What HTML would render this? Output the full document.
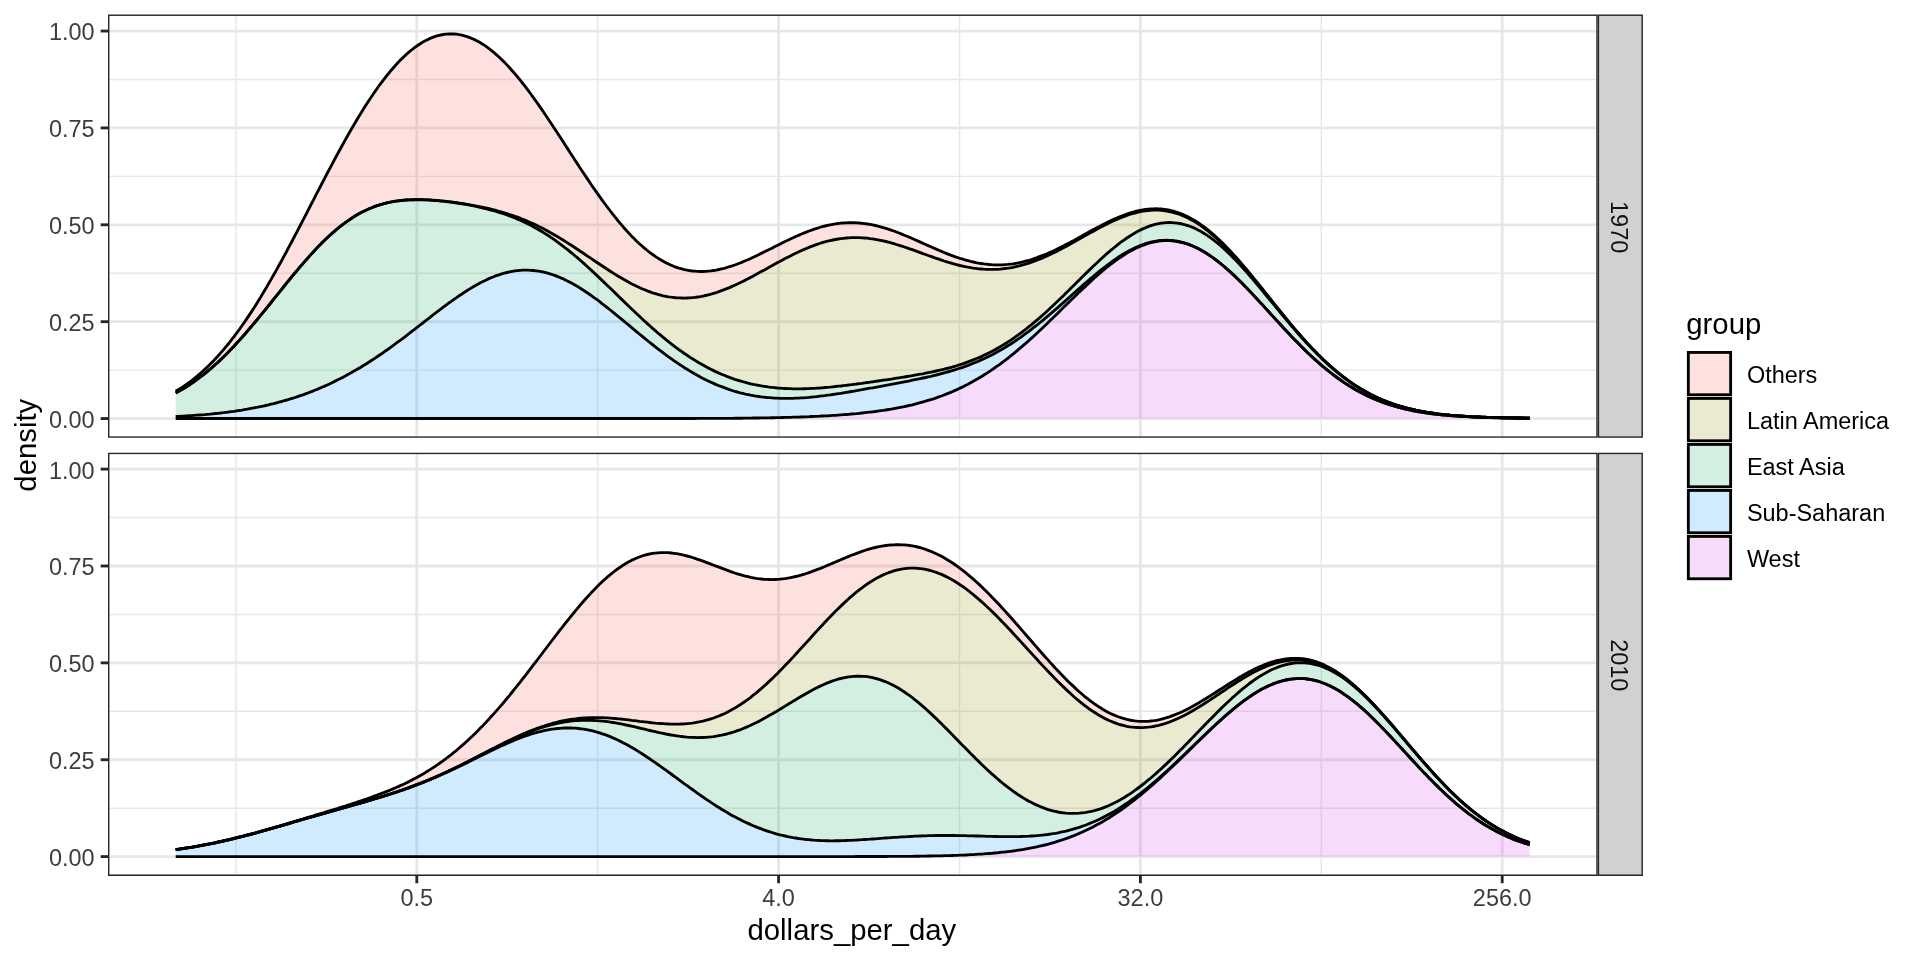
<!DOCTYPE html>
<html><head><meta charset="utf-8"><title>density</title>
<style>html,body{margin:0;padding:0;background:#fff}svg{display:block;will-change:transform}text{font-family:"Liberation Sans",sans-serif}</style></head>
<body>
<svg width="1920" height="960" viewBox="0 0 1920 960">
<rect width="1920" height="960" fill="#fff"/>
<clipPath id="clip0"><rect x="108" y="14.5" width="1489.7" height="423.3"/></clipPath>
<g clip-path="url(#clip0)">
<line x1="108" x2="1597.7" y1="370.11" y2="370.11" stroke="#E7E7E7" stroke-width="1.43"/>
<line x1="108" x2="1597.7" y1="273.24" y2="273.24" stroke="#E7E7E7" stroke-width="1.43"/>
<line x1="108" x2="1597.7" y1="176.36" y2="176.36" stroke="#E7E7E7" stroke-width="1.43"/>
<line x1="108" x2="1597.7" y1="79.49" y2="79.49" stroke="#E7E7E7" stroke-width="1.43"/>
<line x1="235.9" x2="235.9" y1="14.5" y2="437.8" stroke="#E7E7E7" stroke-width="1.43"/>
<line x1="597.7" x2="597.7" y1="14.5" y2="437.8" stroke="#E7E7E7" stroke-width="1.43"/>
<line x1="959.5" x2="959.5" y1="14.5" y2="437.8" stroke="#E7E7E7" stroke-width="1.43"/>
<line x1="1321.3" x2="1321.3" y1="14.5" y2="437.8" stroke="#E7E7E7" stroke-width="1.43"/>
<line x1="108" x2="1597.7" y1="418.55" y2="418.55" stroke="#E7E7E7" stroke-width="2.85"/>
<line x1="108" x2="1597.7" y1="321.68" y2="321.68" stroke="#E7E7E7" stroke-width="2.85"/>
<line x1="108" x2="1597.7" y1="224.8" y2="224.8" stroke="#E7E7E7" stroke-width="2.85"/>
<line x1="108" x2="1597.7" y1="127.93" y2="127.93" stroke="#E7E7E7" stroke-width="2.85"/>
<line x1="108" x2="1597.7" y1="31.05" y2="31.05" stroke="#E7E7E7" stroke-width="2.85"/>
<line x1="416.8" x2="416.8" y1="14.5" y2="437.8" stroke="#E7E7E7" stroke-width="2.85"/>
<line x1="778.6" x2="778.6" y1="14.5" y2="437.8" stroke="#E7E7E7" stroke-width="2.85"/>
<line x1="1140.4" x2="1140.4" y1="14.5" y2="437.8" stroke="#E7E7E7" stroke-width="2.85"/>
<line x1="1502.2" x2="1502.2" y1="14.5" y2="437.8" stroke="#E7E7E7" stroke-width="2.85"/>
<path d="M175.7 391.3 L178.3 389.7 L181 388.1 L183.6 386.3 L186.3 384.5 L188.9 382.6 L191.6 380.6 L194.2 378.5 L196.9 376.3 L199.5 374.1 L202.2 371.8 L204.8 369.4 L207.5 366.8 L210.1 364.2 L212.8 361.6 L215.4 358.8 L218.1 355.9 L220.7 352.9 L223.4 349.9 L226 346.7 L228.7 343.5 L231.3 340.1 L234 336.7 L236.6 333.1 L239.3 329.5 L241.9 325.8 L244.6 322 L247.2 318.1 L249.9 314.1 L252.5 310.1 L255.2 305.9 L257.8 301.7 L260.5 297.4 L263.1 293 L265.8 288.6 L268.4 284 L271.1 279.4 L273.7 274.8 L276.4 270.1 L279 265.3 L281.7 260.5 L284.3 255.6 L287 250.7 L289.6 245.7 L292.3 240.7 L294.9 235.7 L297.6 230.6 L300.2 225.5 L302.9 220.4 L305.5 215.3 L308.2 210.1 L310.8 205 L313.5 199.9 L316.1 194.7 L318.8 189.6 L321.4 184.5 L324.1 179.4 L326.7 174.3 L329.4 169.3 L332 164.3 L334.7 159.3 L337.3 154.4 L340 149.5 L342.6 144.7 L345.3 139.9 L347.9 135.2 L350.6 130.5 L353.2 126 L355.9 121.5 L358.5 117 L361.2 112.7 L363.8 108.4 L366.5 104.3 L369.1 100.2 L371.8 96.2 L374.4 92.3 L377.1 88.5 L379.7 84.8 L382.4 81.3 L385 77.8 L387.7 74.5 L390.3 71.3 L393 68.2 L395.6 65.2 L398.3 62.3 L400.9 59.6 L403.6 57 L406.2 54.5 L408.9 52.2 L411.5 50 L414.2 47.9 L416.8 46 L419.5 44.2 L422.1 42.5 L424.8 41 L427.4 39.7 L430.1 38.4 L432.7 37.4 L435.4 36.4 L438 35.6 L440.7 35 L443.3 34.5 L446 34.2 L448.6 34 L451.3 33.9 L453.9 34 L456.6 34.2 L459.2 34.6 L461.9 35.1 L464.5 35.8 L467.2 36.6 L469.8 37.6 L472.5 38.7 L475.1 39.9 L477.8 41.3 L480.4 42.8 L483.1 44.4 L485.7 46.2 L488.4 48.1 L491 50.1 L493.7 52.3 L496.3 54.6 L499 57 L501.6 59.5 L504.3 62.1 L506.9 64.9 L509.6 67.7 L512.2 70.7 L514.9 73.8 L517.5 76.9 L520.2 80.2 L522.8 83.5 L525.5 86.9 L528.1 90.4 L530.8 94 L533.4 97.6 L536.1 101.3 L538.7 105.1 L541.4 108.9 L544 112.8 L546.7 116.7 L549.3 120.7 L552 124.7 L554.6 128.7 L557.3 132.8 L559.9 136.8 L562.6 140.9 L565.2 145 L567.9 149.1 L570.5 153.2 L573.2 157.3 L575.8 161.4 L578.5 165.4 L581.1 169.5 L583.8 173.5 L586.4 177.4 L589.1 181.4 L591.7 185.3 L594.4 189.1 L597 192.9 L599.7 196.7 L602.3 200.4 L605 204 L607.6 207.5 L610.3 211 L612.9 214.4 L615.6 217.7 L618.2 221 L620.9 224.1 L623.5 227.2 L626.2 230.2 L628.8 233.1 L631.4 235.9 L634.1 238.6 L636.7 241.2 L639.4 243.7 L642 246 L644.7 248.3 L647.3 250.5 L650 252.6 L652.6 254.5 L655.3 256.4 L657.9 258.1 L660.6 259.8 L663.2 261.3 L665.9 262.7 L668.5 264 L671.2 265.2 L673.8 266.3 L676.5 267.3 L679.1 268.2 L681.8 268.9 L684.4 269.6 L687.1 270.2 L689.7 270.6 L692.4 271 L695 271.2 L697.7 271.4 L700.3 271.5 L703 271.5 L705.6 271.3 L708.3 271.1 L710.9 270.9 L713.6 270.5 L716.2 270.1 L718.9 269.5 L721.5 268.9 L724.2 268.3 L726.8 267.5 L729.5 266.7 L732.1 265.9 L734.8 265 L737.4 264 L740.1 263 L742.7 261.9 L745.4 260.8 L748 259.7 L750.7 258.5 L753.3 257.3 L756 256 L758.6 254.7 L761.3 253.4 L763.9 252.1 L766.6 250.8 L769.2 249.5 L771.9 248.2 L774.5 246.8 L777.2 245.5 L779.8 244.2 L782.5 242.8 L785.1 241.5 L787.8 240.3 L790.4 239 L793.1 237.8 L795.7 236.5 L798.4 235.4 L801 234.2 L803.7 233.1 L806.3 232.1 L809 231 L811.6 230.1 L814.3 229.2 L816.9 228.3 L819.6 227.5 L822.2 226.7 L824.9 226 L827.5 225.4 L830.2 224.8 L832.8 224.3 L835.5 223.9 L838.1 223.5 L840.8 223.2 L843.4 223 L846.1 222.8 L848.7 222.7 L851.4 222.7 L854 222.7 L856.7 222.8 L859.3 223 L862 223.3 L864.6 223.6 L867.3 224 L869.9 224.4 L872.6 224.9 L875.2 225.5 L877.9 226.1 L880.5 226.8 L883.2 227.6 L885.8 228.4 L888.5 229.2 L891.1 230.1 L893.8 231 L896.4 232 L899.1 233 L901.7 234.1 L904.4 235.2 L907 236.3 L909.7 237.4 L912.3 238.5 L915 239.7 L917.6 240.9 L920.3 242.1 L922.9 243.3 L925.6 244.5 L928.2 245.6 L930.9 246.8 L933.5 248 L936.2 249.1 L938.8 250.3 L941.5 251.4 L944.1 252.5 L946.8 253.6 L949.4 254.6 L952.1 255.6 L954.7 256.6 L957.4 257.5 L960 258.4 L962.7 259.2 L965.3 260 L968 260.7 L970.6 261.4 L973.3 262 L975.9 262.6 L978.6 263.1 L981.2 263.5 L983.9 263.9 L986.5 264.2 L989.2 264.5 L991.8 264.7 L994.5 264.8 L997.1 264.9 L999.8 264.8 L1002.4 264.8 L1005.1 264.6 L1007.7 264.4 L1010.4 264.1 L1013 263.8 L1015.7 263.3 L1018.3 262.9 L1021 262.3 L1023.6 261.7 L1026.3 261 L1028.9 260.3 L1031.6 259.5 L1034.2 258.6 L1036.9 257.7 L1039.5 256.7 L1042.2 255.7 L1044.8 254.7 L1047.5 253.5 L1050.1 252.4 L1052.8 251.2 L1055.4 249.9 L1058.1 248.6 L1060.7 247.3 L1063.4 246 L1066 244.6 L1068.7 243.2 L1071.3 241.8 L1074 240.4 L1076.6 238.9 L1079.2 237.4 L1081.9 236 L1084.5 234.5 L1087.2 233 L1089.8 231.6 L1092.5 230.1 L1095.1 228.7 L1097.8 227.3 L1100.4 225.9 L1103.1 224.5 L1105.7 223.2 L1108.4 221.8 L1111 220.6 L1113.7 219.4 L1116.3 218.2 L1119 217 L1121.6 216 L1124.3 215 L1126.9 214 L1129.6 213.1 L1132.2 212.3 L1134.9 211.6 L1137.5 210.9 L1140.2 210.3 L1142.8 209.8 L1145.5 209.4 L1148.1 209.1 L1150.8 208.9 L1153.4 208.8 L1156.1 208.7 L1158.7 208.8 L1161.4 209 L1164 209.3 L1166.7 209.7 L1169.3 210.2 L1172 210.8 L1174.6 211.5 L1177.3 212.3 L1179.9 213.3 L1182.6 214.3 L1185.2 215.5 L1187.9 216.8 L1190.5 218.2 L1193.2 219.7 L1195.8 221.3 L1198.5 223 L1201.1 224.8 L1203.8 226.7 L1206.4 228.7 L1209.1 230.8 L1211.7 233.1 L1214.4 235.4 L1217 237.8 L1219.7 240.3 L1222.3 242.8 L1225 245.5 L1227.6 248.2 L1230.3 251 L1232.9 253.9 L1235.6 256.8 L1238.2 259.8 L1240.9 262.8 L1243.5 265.9 L1246.2 269 L1248.8 272.2 L1251.5 275.4 L1254.1 278.7 L1256.8 281.9 L1259.4 285.2 L1262.1 288.5 L1264.7 291.8 L1267.4 295.2 L1270 298.5 L1272.7 301.8 L1275.3 305.1 L1278 308.4 L1280.6 311.7 L1283.3 315 L1285.9 318.2 L1288.6 321.5 L1291.2 324.6 L1293.9 327.8 L1296.5 330.9 L1299.2 334 L1301.8 337 L1304.5 340 L1307.1 342.9 L1309.8 345.8 L1312.4 348.6 L1315.1 351.3 L1317.7 354 L1320.4 356.7 L1323 359.3 L1325.7 361.8 L1328.3 364.2 L1331 366.6 L1333.6 368.9 L1336.3 371.2 L1338.9 373.4 L1341.6 375.5 L1344.2 377.5 L1346.9 379.5 L1349.5 381.4 L1352.2 383.3 L1354.8 385.1 L1357.5 386.8 L1360.1 388.4 L1362.8 390 L1365.4 391.5 L1368.1 393 L1370.7 394.4 L1373.4 395.7 L1376 397 L1378.7 398.2 L1381.3 399.4 L1384 400.5 L1386.6 401.6 L1389.3 402.6 L1391.9 403.5 L1394.6 404.4 L1397.2 405.3 L1399.9 406.1 L1402.5 406.9 L1405.2 407.6 L1407.8 408.3 L1410.5 409 L1413.1 409.6 L1415.8 410.2 L1418.4 410.7 L1421.1 411.2 L1423.7 411.7 L1426.4 412.2 L1429 412.6 L1431.7 413 L1434.3 413.4 L1437 413.7 L1439.6 414.1 L1442.3 414.4 L1444.9 414.7 L1447.6 414.9 L1450.2 415.2 L1452.9 415.4 L1455.5 415.6 L1458.2 415.8 L1460.8 416 L1463.5 416.2 L1466.1 416.4 L1468.8 416.5 L1471.4 416.7 L1474.1 416.8 L1476.7 416.9 L1479.4 417 L1482 417.1 L1484.7 417.2 L1487.3 417.3 L1490 417.4 L1492.6 417.5 L1495.3 417.5 L1497.9 417.6 L1500.6 417.7 L1503.2 417.7 L1505.9 417.8 L1508.5 417.8 L1511.2 417.9 L1513.8 417.9 L1516.5 418 L1519.1 418 L1521.8 418 L1524.4 418.1 L1527.1 418.1 L1529.7 418.1 L1529.7 418.1 L1527.1 418.1 L1524.4 418.1 L1521.8 418 L1519.1 418 L1516.5 418 L1513.8 417.9 L1511.2 417.9 L1508.5 417.8 L1505.9 417.8 L1503.2 417.7 L1500.6 417.7 L1497.9 417.6 L1495.3 417.5 L1492.6 417.5 L1490 417.4 L1487.3 417.3 L1484.7 417.2 L1482 417.1 L1479.4 417 L1476.7 416.9 L1474.1 416.8 L1471.4 416.7 L1468.8 416.5 L1466.1 416.4 L1463.5 416.2 L1460.8 416 L1458.2 415.8 L1455.5 415.6 L1452.9 415.4 L1450.2 415.2 L1447.6 414.9 L1444.9 414.7 L1442.3 414.4 L1439.6 414.1 L1437 413.8 L1434.3 413.4 L1431.7 413 L1429 412.6 L1426.4 412.2 L1423.7 411.7 L1421.1 411.3 L1418.4 410.7 L1415.8 410.2 L1413.1 409.6 L1410.5 409 L1407.8 408.4 L1405.2 407.7 L1402.5 406.9 L1399.9 406.2 L1397.2 405.3 L1394.6 404.5 L1391.9 403.6 L1389.3 402.6 L1386.6 401.6 L1384 400.6 L1381.3 399.5 L1378.7 398.3 L1376 397.1 L1373.4 395.8 L1370.7 394.5 L1368.1 393.1 L1365.4 391.6 L1362.8 390.1 L1360.1 388.5 L1357.5 386.9 L1354.8 385.2 L1352.2 383.4 L1349.5 381.6 L1346.9 379.7 L1344.2 377.7 L1341.6 375.6 L1338.9 373.5 L1336.3 371.4 L1333.6 369.1 L1331 366.8 L1328.3 364.4 L1325.7 362 L1323 359.5 L1320.4 356.9 L1317.7 354.3 L1315.1 351.6 L1312.4 348.9 L1309.8 346.1 L1307.1 343.2 L1304.5 340.3 L1301.8 337.3 L1299.2 334.3 L1296.5 331.3 L1293.9 328.2 L1291.2 325.1 L1288.6 321.9 L1285.9 318.7 L1283.3 315.5 L1280.6 312.2 L1278 309 L1275.3 305.7 L1272.7 302.4 L1270 299.1 L1267.4 295.8 L1264.7 292.5 L1262.1 289.2 L1259.4 285.9 L1256.8 282.6 L1254.1 279.4 L1251.5 276.2 L1248.8 273 L1246.2 269.8 L1243.5 266.7 L1240.9 263.6 L1238.2 260.6 L1235.6 257.7 L1232.9 254.8 L1230.3 251.9 L1227.6 249.1 L1225 246.4 L1222.3 243.8 L1219.7 241.3 L1217 238.8 L1214.4 236.4 L1211.7 234.1 L1209.1 231.9 L1206.4 229.8 L1203.8 227.8 L1201.1 225.9 L1198.5 224.1 L1195.8 222.4 L1193.2 220.8 L1190.5 219.4 L1187.9 218 L1185.2 216.7 L1182.6 215.6 L1179.9 214.5 L1177.3 213.6 L1174.6 212.8 L1172 212.1 L1169.3 211.5 L1166.7 211 L1164 210.6 L1161.4 210.3 L1158.7 210.2 L1156.1 210.1 L1153.4 210.1 L1150.8 210.3 L1148.1 210.5 L1145.5 210.8 L1142.8 211.2 L1140.2 211.7 L1137.5 212.3 L1134.9 213 L1132.2 213.7 L1129.6 214.5 L1126.9 215.4 L1124.3 216.4 L1121.6 217.4 L1119 218.5 L1116.3 219.6 L1113.7 220.8 L1111 222 L1108.4 223.3 L1105.7 224.6 L1103.1 226 L1100.4 227.3 L1097.8 228.8 L1095.1 230.2 L1092.5 231.7 L1089.8 233.1 L1087.2 234.6 L1084.5 236.1 L1081.9 237.6 L1079.2 239.1 L1076.6 240.6 L1074 242.1 L1071.3 243.5 L1068.7 245 L1066 246.4 L1063.4 247.8 L1060.7 249.2 L1058.1 250.6 L1055.4 251.9 L1052.8 253.2 L1050.1 254.5 L1047.5 255.7 L1044.8 256.9 L1042.2 258.1 L1039.5 259.2 L1036.9 260.2 L1034.2 261.2 L1031.6 262.2 L1028.9 263.1 L1026.3 263.9 L1023.6 264.7 L1021 265.4 L1018.3 266.1 L1015.7 266.7 L1013 267.3 L1010.4 267.8 L1007.7 268.2 L1005.1 268.5 L1002.4 268.8 L999.8 269.1 L997.1 269.3 L994.5 269.4 L991.8 269.4 L989.2 269.4 L986.5 269.3 L983.9 269.2 L981.2 269 L978.6 268.8 L975.9 268.4 L973.3 268.1 L970.6 267.7 L968 267.2 L965.3 266.7 L962.7 266.1 L960 265.5 L957.4 264.8 L954.7 264.1 L952.1 263.4 L949.4 262.6 L946.8 261.8 L944.1 261 L941.5 260.1 L938.8 259.2 L936.2 258.3 L933.5 257.4 L930.9 256.4 L928.2 255.5 L925.6 254.5 L922.9 253.6 L920.3 252.6 L917.6 251.6 L915 250.7 L912.3 249.7 L909.7 248.8 L907 247.9 L904.4 247 L901.7 246.1 L899.1 245.3 L896.4 244.5 L893.8 243.7 L891.1 242.9 L888.5 242.2 L885.8 241.5 L883.2 240.9 L880.5 240.3 L877.9 239.8 L875.2 239.3 L872.6 238.9 L869.9 238.6 L867.3 238.2 L864.6 238 L862 237.8 L859.3 237.7 L856.7 237.6 L854 237.6 L851.4 237.7 L848.7 237.8 L846.1 238 L843.4 238.3 L840.8 238.6 L838.1 239 L835.5 239.5 L832.8 240 L830.2 240.6 L827.5 241.2 L824.9 241.9 L822.2 242.7 L819.6 243.5 L816.9 244.4 L814.3 245.3 L811.6 246.3 L809 247.4 L806.3 248.5 L803.7 249.6 L801 250.8 L798.4 252 L795.7 253.2 L793.1 254.5 L790.4 255.9 L787.8 257.2 L785.1 258.6 L782.5 260 L779.8 261.4 L777.2 262.8 L774.5 264.3 L771.9 265.8 L769.2 267.2 L766.6 268.7 L763.9 270.2 L761.3 271.6 L758.6 273.1 L756 274.5 L753.3 275.9 L750.7 277.4 L748 278.7 L745.4 280.1 L742.7 281.4 L740.1 282.7 L737.4 284 L734.8 285.2 L732.1 286.4 L729.5 287.6 L726.8 288.7 L724.2 289.7 L721.5 290.7 L718.9 291.7 L716.2 292.6 L713.6 293.4 L710.9 294.2 L708.3 294.9 L705.6 295.5 L703 296.1 L700.3 296.6 L697.7 297 L695 297.4 L692.4 297.6 L689.7 297.9 L687.1 298 L684.4 298.1 L681.8 298 L679.1 297.9 L676.5 297.8 L673.8 297.5 L671.2 297.2 L668.5 296.8 L665.9 296.3 L663.2 295.8 L660.6 295.1 L657.9 294.4 L655.3 293.6 L652.6 292.8 L650 291.9 L647.3 290.9 L644.7 289.8 L642 288.7 L639.4 287.5 L636.7 286.3 L634.1 285 L631.4 283.7 L628.8 282.3 L626.2 280.8 L623.5 279.3 L620.9 277.8 L618.2 276.2 L615.6 274.6 L612.9 272.9 L610.3 271.2 L607.6 269.5 L605 267.8 L602.3 266 L599.7 264.3 L597 262.5 L594.4 260.7 L591.7 258.9 L589.1 257.1 L586.4 255.3 L583.8 253.5 L581.1 251.8 L578.5 250 L575.8 248.2 L573.2 246.5 L570.5 244.8 L567.9 243.1 L565.2 241.4 L562.6 239.7 L559.9 238.1 L557.3 236.5 L554.6 235 L552 233.5 L549.3 232 L546.7 230.5 L544 229.1 L541.4 227.7 L538.7 226.4 L536.1 225.1 L533.4 223.9 L530.8 222.7 L528.1 221.5 L525.5 220.4 L522.8 219.3 L520.2 218.2 L517.5 217.2 L514.9 216.3 L512.2 215.3 L509.6 214.5 L506.9 213.6 L504.3 212.8 L501.6 212 L499 211.3 L496.3 210.5 L493.7 209.8 L491 209.2 L488.4 208.5 L485.7 207.9 L483.1 207.4 L480.4 206.8 L477.8 206.3 L475.1 205.8 L472.5 205.3 L469.8 204.8 L467.2 204.3 L464.5 203.9 L461.9 203.5 L459.2 203.1 L456.6 202.7 L453.9 202.3 L451.3 202 L448.6 201.7 L446 201.4 L443.3 201.1 L440.7 200.8 L438 200.6 L435.4 200.4 L432.7 200.2 L430.1 200 L427.4 199.9 L424.8 199.8 L422.1 199.7 L419.5 199.6 L416.8 199.6 L414.2 199.7 L411.5 199.7 L408.9 199.8 L406.2 200 L403.6 200.2 L400.9 200.5 L398.3 200.8 L395.6 201.2 L393 201.6 L390.3 202.2 L387.7 202.7 L385 203.4 L382.4 204.1 L379.7 204.9 L377.1 205.7 L374.4 206.7 L371.8 207.7 L369.1 208.8 L366.5 210 L363.8 211.3 L361.2 212.6 L358.5 214.1 L355.9 215.6 L353.2 217.2 L350.6 219 L347.9 220.8 L345.3 222.6 L342.6 224.6 L340 226.7 L337.3 228.8 L334.7 231.1 L332 233.4 L329.4 235.8 L326.7 238.3 L324.1 240.8 L321.4 243.4 L318.8 246.1 L316.1 248.9 L313.5 251.7 L310.8 254.6 L308.2 257.6 L305.5 260.6 L302.9 263.6 L300.2 266.7 L297.6 269.8 L294.9 273 L292.3 276.2 L289.6 279.5 L287 282.7 L284.3 286 L281.7 289.3 L279 292.6 L276.4 295.9 L273.7 299.2 L271.1 302.5 L268.4 305.8 L265.8 309.1 L263.1 312.4 L260.5 315.6 L257.8 318.8 L255.2 322 L252.5 325.2 L249.9 328.3 L247.2 331.4 L244.6 334.5 L241.9 337.5 L239.3 340.4 L236.6 343.3 L234 346.2 L231.3 349 L228.7 351.7 L226 354.4 L223.4 357 L220.7 359.6 L218.1 362.1 L215.4 364.5 L212.8 366.9 L210.1 369.2 L207.5 371.4 L204.8 373.6 L202.2 375.7 L199.5 377.7 L196.9 379.7 L194.2 381.6 L191.6 383.4 L188.9 385.2 L186.3 386.9 L183.6 388.5 L181 390.1 L178.3 391.6 L175.7 393Z" fill="#F56A5A" fill-opacity="0.2" stroke="none"/>
<path d="M175.7 391.3 L178.3 389.7 L181 388.1 L183.6 386.3 L186.3 384.5 L188.9 382.6 L191.6 380.6 L194.2 378.5 L196.9 376.3 L199.5 374.1 L202.2 371.8 L204.8 369.4 L207.5 366.8 L210.1 364.2 L212.8 361.6 L215.4 358.8 L218.1 355.9 L220.7 352.9 L223.4 349.9 L226 346.7 L228.7 343.5 L231.3 340.1 L234 336.7 L236.6 333.1 L239.3 329.5 L241.9 325.8 L244.6 322 L247.2 318.1 L249.9 314.1 L252.5 310.1 L255.2 305.9 L257.8 301.7 L260.5 297.4 L263.1 293 L265.8 288.6 L268.4 284 L271.1 279.4 L273.7 274.8 L276.4 270.1 L279 265.3 L281.7 260.5 L284.3 255.6 L287 250.7 L289.6 245.7 L292.3 240.7 L294.9 235.7 L297.6 230.6 L300.2 225.5 L302.9 220.4 L305.5 215.3 L308.2 210.1 L310.8 205 L313.5 199.9 L316.1 194.7 L318.8 189.6 L321.4 184.5 L324.1 179.4 L326.7 174.3 L329.4 169.3 L332 164.3 L334.7 159.3 L337.3 154.4 L340 149.5 L342.6 144.7 L345.3 139.9 L347.9 135.2 L350.6 130.5 L353.2 126 L355.9 121.5 L358.5 117 L361.2 112.7 L363.8 108.4 L366.5 104.3 L369.1 100.2 L371.8 96.2 L374.4 92.3 L377.1 88.5 L379.7 84.8 L382.4 81.3 L385 77.8 L387.7 74.5 L390.3 71.3 L393 68.2 L395.6 65.2 L398.3 62.3 L400.9 59.6 L403.6 57 L406.2 54.5 L408.9 52.2 L411.5 50 L414.2 47.9 L416.8 46 L419.5 44.2 L422.1 42.5 L424.8 41 L427.4 39.7 L430.1 38.4 L432.7 37.4 L435.4 36.4 L438 35.6 L440.7 35 L443.3 34.5 L446 34.2 L448.6 34 L451.3 33.9 L453.9 34 L456.6 34.2 L459.2 34.6 L461.9 35.1 L464.5 35.8 L467.2 36.6 L469.8 37.6 L472.5 38.7 L475.1 39.9 L477.8 41.3 L480.4 42.8 L483.1 44.4 L485.7 46.2 L488.4 48.1 L491 50.1 L493.7 52.3 L496.3 54.6 L499 57 L501.6 59.5 L504.3 62.1 L506.9 64.9 L509.6 67.7 L512.2 70.7 L514.9 73.8 L517.5 76.9 L520.2 80.2 L522.8 83.5 L525.5 86.9 L528.1 90.4 L530.8 94 L533.4 97.6 L536.1 101.3 L538.7 105.1 L541.4 108.9 L544 112.8 L546.7 116.7 L549.3 120.7 L552 124.7 L554.6 128.7 L557.3 132.8 L559.9 136.8 L562.6 140.9 L565.2 145 L567.9 149.1 L570.5 153.2 L573.2 157.3 L575.8 161.4 L578.5 165.4 L581.1 169.5 L583.8 173.5 L586.4 177.4 L589.1 181.4 L591.7 185.3 L594.4 189.1 L597 192.9 L599.7 196.7 L602.3 200.4 L605 204 L607.6 207.5 L610.3 211 L612.9 214.4 L615.6 217.7 L618.2 221 L620.9 224.1 L623.5 227.2 L626.2 230.2 L628.8 233.1 L631.4 235.9 L634.1 238.6 L636.7 241.2 L639.4 243.7 L642 246 L644.7 248.3 L647.3 250.5 L650 252.6 L652.6 254.5 L655.3 256.4 L657.9 258.1 L660.6 259.8 L663.2 261.3 L665.9 262.7 L668.5 264 L671.2 265.2 L673.8 266.3 L676.5 267.3 L679.1 268.2 L681.8 268.9 L684.4 269.6 L687.1 270.2 L689.7 270.6 L692.4 271 L695 271.2 L697.7 271.4 L700.3 271.5 L703 271.5 L705.6 271.3 L708.3 271.1 L710.9 270.9 L713.6 270.5 L716.2 270.1 L718.9 269.5 L721.5 268.9 L724.2 268.3 L726.8 267.5 L729.5 266.7 L732.1 265.9 L734.8 265 L737.4 264 L740.1 263 L742.7 261.9 L745.4 260.8 L748 259.7 L750.7 258.5 L753.3 257.3 L756 256 L758.6 254.7 L761.3 253.4 L763.9 252.1 L766.6 250.8 L769.2 249.5 L771.9 248.2 L774.5 246.8 L777.2 245.5 L779.8 244.2 L782.5 242.8 L785.1 241.5 L787.8 240.3 L790.4 239 L793.1 237.8 L795.7 236.5 L798.4 235.4 L801 234.2 L803.7 233.1 L806.3 232.1 L809 231 L811.6 230.1 L814.3 229.2 L816.9 228.3 L819.6 227.5 L822.2 226.7 L824.9 226 L827.5 225.4 L830.2 224.8 L832.8 224.3 L835.5 223.9 L838.1 223.5 L840.8 223.2 L843.4 223 L846.1 222.8 L848.7 222.7 L851.4 222.7 L854 222.7 L856.7 222.8 L859.3 223 L862 223.3 L864.6 223.6 L867.3 224 L869.9 224.4 L872.6 224.9 L875.2 225.5 L877.9 226.1 L880.5 226.8 L883.2 227.6 L885.8 228.4 L888.5 229.2 L891.1 230.1 L893.8 231 L896.4 232 L899.1 233 L901.7 234.1 L904.4 235.2 L907 236.3 L909.7 237.4 L912.3 238.5 L915 239.7 L917.6 240.9 L920.3 242.1 L922.9 243.3 L925.6 244.5 L928.2 245.6 L930.9 246.8 L933.5 248 L936.2 249.1 L938.8 250.3 L941.5 251.4 L944.1 252.5 L946.8 253.6 L949.4 254.6 L952.1 255.6 L954.7 256.6 L957.4 257.5 L960 258.4 L962.7 259.2 L965.3 260 L968 260.7 L970.6 261.4 L973.3 262 L975.9 262.6 L978.6 263.1 L981.2 263.5 L983.9 263.9 L986.5 264.2 L989.2 264.5 L991.8 264.7 L994.5 264.8 L997.1 264.9 L999.8 264.8 L1002.4 264.8 L1005.1 264.6 L1007.7 264.4 L1010.4 264.1 L1013 263.8 L1015.7 263.3 L1018.3 262.9 L1021 262.3 L1023.6 261.7 L1026.3 261 L1028.9 260.3 L1031.6 259.5 L1034.2 258.6 L1036.9 257.7 L1039.5 256.7 L1042.2 255.7 L1044.8 254.7 L1047.5 253.5 L1050.1 252.4 L1052.8 251.2 L1055.4 249.9 L1058.1 248.6 L1060.7 247.3 L1063.4 246 L1066 244.6 L1068.7 243.2 L1071.3 241.8 L1074 240.4 L1076.6 238.9 L1079.2 237.4 L1081.9 236 L1084.5 234.5 L1087.2 233 L1089.8 231.6 L1092.5 230.1 L1095.1 228.7 L1097.8 227.3 L1100.4 225.9 L1103.1 224.5 L1105.7 223.2 L1108.4 221.8 L1111 220.6 L1113.7 219.4 L1116.3 218.2 L1119 217 L1121.6 216 L1124.3 215 L1126.9 214 L1129.6 213.1 L1132.2 212.3 L1134.9 211.6 L1137.5 210.9 L1140.2 210.3 L1142.8 209.8 L1145.5 209.4 L1148.1 209.1 L1150.8 208.9 L1153.4 208.8 L1156.1 208.7 L1158.7 208.8 L1161.4 209 L1164 209.3 L1166.7 209.7 L1169.3 210.2 L1172 210.8 L1174.6 211.5 L1177.3 212.3 L1179.9 213.3 L1182.6 214.3 L1185.2 215.5 L1187.9 216.8 L1190.5 218.2 L1193.2 219.7 L1195.8 221.3 L1198.5 223 L1201.1 224.8 L1203.8 226.7 L1206.4 228.7 L1209.1 230.8 L1211.7 233.1 L1214.4 235.4 L1217 237.8 L1219.7 240.3 L1222.3 242.8 L1225 245.5 L1227.6 248.2 L1230.3 251 L1232.9 253.9 L1235.6 256.8 L1238.2 259.8 L1240.9 262.8 L1243.5 265.9 L1246.2 269 L1248.8 272.2 L1251.5 275.4 L1254.1 278.7 L1256.8 281.9 L1259.4 285.2 L1262.1 288.5 L1264.7 291.8 L1267.4 295.2 L1270 298.5 L1272.7 301.8 L1275.3 305.1 L1278 308.4 L1280.6 311.7 L1283.3 315 L1285.9 318.2 L1288.6 321.5 L1291.2 324.6 L1293.9 327.8 L1296.5 330.9 L1299.2 334 L1301.8 337 L1304.5 340 L1307.1 342.9 L1309.8 345.8 L1312.4 348.6 L1315.1 351.3 L1317.7 354 L1320.4 356.7 L1323 359.3 L1325.7 361.8 L1328.3 364.2 L1331 366.6 L1333.6 368.9 L1336.3 371.2 L1338.9 373.4 L1341.6 375.5 L1344.2 377.5 L1346.9 379.5 L1349.5 381.4 L1352.2 383.3 L1354.8 385.1 L1357.5 386.8 L1360.1 388.4 L1362.8 390 L1365.4 391.5 L1368.1 393 L1370.7 394.4 L1373.4 395.7 L1376 397 L1378.7 398.2 L1381.3 399.4 L1384 400.5 L1386.6 401.6 L1389.3 402.6 L1391.9 403.5 L1394.6 404.4 L1397.2 405.3 L1399.9 406.1 L1402.5 406.9 L1405.2 407.6 L1407.8 408.3 L1410.5 409 L1413.1 409.6 L1415.8 410.2 L1418.4 410.7 L1421.1 411.2 L1423.7 411.7 L1426.4 412.2 L1429 412.6 L1431.7 413 L1434.3 413.4 L1437 413.7 L1439.6 414.1 L1442.3 414.4 L1444.9 414.7 L1447.6 414.9 L1450.2 415.2 L1452.9 415.4 L1455.5 415.6 L1458.2 415.8 L1460.8 416 L1463.5 416.2 L1466.1 416.4 L1468.8 416.5 L1471.4 416.7 L1474.1 416.8 L1476.7 416.9 L1479.4 417 L1482 417.1 L1484.7 417.2 L1487.3 417.3 L1490 417.4 L1492.6 417.5 L1495.3 417.5 L1497.9 417.6 L1500.6 417.7 L1503.2 417.7 L1505.9 417.8 L1508.5 417.8 L1511.2 417.9 L1513.8 417.9 L1516.5 418 L1519.1 418 L1521.8 418 L1524.4 418.1 L1527.1 418.1 L1529.7 418.1" fill="none" stroke="#000" stroke-width="2.85" stroke-linejoin="round"/>
<path d="M175.7 393 L178.3 391.6 L181 390.1 L183.6 388.5 L186.3 386.9 L188.9 385.2 L191.6 383.4 L194.2 381.6 L196.9 379.7 L199.5 377.7 L202.2 375.7 L204.8 373.6 L207.5 371.4 L210.1 369.2 L212.8 366.9 L215.4 364.5 L218.1 362.1 L220.7 359.6 L223.4 357 L226 354.4 L228.7 351.7 L231.3 349 L234 346.2 L236.6 343.3 L239.3 340.4 L241.9 337.5 L244.6 334.5 L247.2 331.4 L249.9 328.3 L252.5 325.2 L255.2 322 L257.8 318.8 L260.5 315.6 L263.1 312.4 L265.8 309.1 L268.4 305.8 L271.1 302.5 L273.7 299.2 L276.4 295.9 L279 292.6 L281.7 289.3 L284.3 286 L287 282.7 L289.6 279.5 L292.3 276.2 L294.9 273 L297.6 269.8 L300.2 266.7 L302.9 263.6 L305.5 260.6 L308.2 257.6 L310.8 254.6 L313.5 251.7 L316.1 248.9 L318.8 246.1 L321.4 243.4 L324.1 240.8 L326.7 238.3 L329.4 235.8 L332 233.4 L334.7 231.1 L337.3 228.8 L340 226.7 L342.6 224.6 L345.3 222.6 L347.9 220.8 L350.6 219 L353.2 217.2 L355.9 215.6 L358.5 214.1 L361.2 212.6 L363.8 211.3 L366.5 210 L369.1 208.8 L371.8 207.7 L374.4 206.7 L377.1 205.7 L379.7 204.9 L382.4 204.1 L385 203.4 L387.7 202.7 L390.3 202.2 L393 201.6 L395.6 201.2 L398.3 200.8 L400.9 200.5 L403.6 200.2 L406.2 200 L408.9 199.8 L411.5 199.7 L414.2 199.7 L416.8 199.6 L419.5 199.6 L422.1 199.7 L424.8 199.8 L427.4 199.9 L430.1 200 L432.7 200.2 L435.4 200.4 L438 200.6 L440.7 200.8 L443.3 201.1 L446 201.4 L448.6 201.7 L451.3 202 L453.9 202.3 L456.6 202.7 L459.2 203.1 L461.9 203.5 L464.5 203.9 L467.2 204.3 L469.8 204.8 L472.5 205.3 L475.1 205.8 L477.8 206.3 L480.4 206.8 L483.1 207.4 L485.7 207.9 L488.4 208.5 L491 209.2 L493.7 209.8 L496.3 210.5 L499 211.3 L501.6 212 L504.3 212.8 L506.9 213.6 L509.6 214.5 L512.2 215.3 L514.9 216.3 L517.5 217.2 L520.2 218.2 L522.8 219.3 L525.5 220.4 L528.1 221.5 L530.8 222.7 L533.4 223.9 L536.1 225.1 L538.7 226.4 L541.4 227.7 L544 229.1 L546.7 230.5 L549.3 232 L552 233.5 L554.6 235 L557.3 236.5 L559.9 238.1 L562.6 239.7 L565.2 241.4 L567.9 243.1 L570.5 244.8 L573.2 246.5 L575.8 248.2 L578.5 250 L581.1 251.8 L583.8 253.5 L586.4 255.3 L589.1 257.1 L591.7 258.9 L594.4 260.7 L597 262.5 L599.7 264.3 L602.3 266 L605 267.8 L607.6 269.5 L610.3 271.2 L612.9 272.9 L615.6 274.6 L618.2 276.2 L620.9 277.8 L623.5 279.3 L626.2 280.8 L628.8 282.3 L631.4 283.7 L634.1 285 L636.7 286.3 L639.4 287.5 L642 288.7 L644.7 289.8 L647.3 290.9 L650 291.9 L652.6 292.8 L655.3 293.6 L657.9 294.4 L660.6 295.1 L663.2 295.8 L665.9 296.3 L668.5 296.8 L671.2 297.2 L673.8 297.5 L676.5 297.8 L679.1 297.9 L681.8 298 L684.4 298.1 L687.1 298 L689.7 297.9 L692.4 297.6 L695 297.4 L697.7 297 L700.3 296.6 L703 296.1 L705.6 295.5 L708.3 294.9 L710.9 294.2 L713.6 293.4 L716.2 292.6 L718.9 291.7 L721.5 290.7 L724.2 289.7 L726.8 288.7 L729.5 287.6 L732.1 286.4 L734.8 285.2 L737.4 284 L740.1 282.7 L742.7 281.4 L745.4 280.1 L748 278.7 L750.7 277.4 L753.3 275.9 L756 274.5 L758.6 273.1 L761.3 271.6 L763.9 270.2 L766.6 268.7 L769.2 267.2 L771.9 265.8 L774.5 264.3 L777.2 262.8 L779.8 261.4 L782.5 260 L785.1 258.6 L787.8 257.2 L790.4 255.9 L793.1 254.5 L795.7 253.2 L798.4 252 L801 250.8 L803.7 249.6 L806.3 248.5 L809 247.4 L811.6 246.3 L814.3 245.3 L816.9 244.4 L819.6 243.5 L822.2 242.7 L824.9 241.9 L827.5 241.2 L830.2 240.6 L832.8 240 L835.5 239.5 L838.1 239 L840.8 238.6 L843.4 238.3 L846.1 238 L848.7 237.8 L851.4 237.7 L854 237.6 L856.7 237.6 L859.3 237.7 L862 237.8 L864.6 238 L867.3 238.2 L869.9 238.6 L872.6 238.9 L875.2 239.3 L877.9 239.8 L880.5 240.3 L883.2 240.9 L885.8 241.5 L888.5 242.2 L891.1 242.9 L893.8 243.7 L896.4 244.5 L899.1 245.3 L901.7 246.1 L904.4 247 L907 247.9 L909.7 248.8 L912.3 249.7 L915 250.7 L917.6 251.6 L920.3 252.6 L922.9 253.6 L925.6 254.5 L928.2 255.5 L930.9 256.4 L933.5 257.4 L936.2 258.3 L938.8 259.2 L941.5 260.1 L944.1 261 L946.8 261.8 L949.4 262.6 L952.1 263.4 L954.7 264.1 L957.4 264.8 L960 265.5 L962.7 266.1 L965.3 266.7 L968 267.2 L970.6 267.7 L973.3 268.1 L975.9 268.4 L978.6 268.8 L981.2 269 L983.9 269.2 L986.5 269.3 L989.2 269.4 L991.8 269.4 L994.5 269.4 L997.1 269.3 L999.8 269.1 L1002.4 268.8 L1005.1 268.5 L1007.7 268.2 L1010.4 267.8 L1013 267.3 L1015.7 266.7 L1018.3 266.1 L1021 265.4 L1023.6 264.7 L1026.3 263.9 L1028.9 263.1 L1031.6 262.2 L1034.2 261.2 L1036.9 260.2 L1039.5 259.2 L1042.2 258.1 L1044.8 256.9 L1047.5 255.7 L1050.1 254.5 L1052.8 253.2 L1055.4 251.9 L1058.1 250.6 L1060.7 249.2 L1063.4 247.8 L1066 246.4 L1068.7 245 L1071.3 243.5 L1074 242.1 L1076.6 240.6 L1079.2 239.1 L1081.9 237.6 L1084.5 236.1 L1087.2 234.6 L1089.8 233.1 L1092.5 231.7 L1095.1 230.2 L1097.8 228.8 L1100.4 227.3 L1103.1 226 L1105.7 224.6 L1108.4 223.3 L1111 222 L1113.7 220.8 L1116.3 219.6 L1119 218.5 L1121.6 217.4 L1124.3 216.4 L1126.9 215.4 L1129.6 214.5 L1132.2 213.7 L1134.9 213 L1137.5 212.3 L1140.2 211.7 L1142.8 211.2 L1145.5 210.8 L1148.1 210.5 L1150.8 210.3 L1153.4 210.1 L1156.1 210.1 L1158.7 210.2 L1161.4 210.3 L1164 210.6 L1166.7 211 L1169.3 211.5 L1172 212.1 L1174.6 212.8 L1177.3 213.6 L1179.9 214.5 L1182.6 215.6 L1185.2 216.7 L1187.9 218 L1190.5 219.4 L1193.2 220.8 L1195.8 222.4 L1198.5 224.1 L1201.1 225.9 L1203.8 227.8 L1206.4 229.8 L1209.1 231.9 L1211.7 234.1 L1214.4 236.4 L1217 238.8 L1219.7 241.3 L1222.3 243.8 L1225 246.4 L1227.6 249.1 L1230.3 251.9 L1232.9 254.8 L1235.6 257.7 L1238.2 260.6 L1240.9 263.6 L1243.5 266.7 L1246.2 269.8 L1248.8 273 L1251.5 276.2 L1254.1 279.4 L1256.8 282.6 L1259.4 285.9 L1262.1 289.2 L1264.7 292.5 L1267.4 295.8 L1270 299.1 L1272.7 302.4 L1275.3 305.7 L1278 309 L1280.6 312.2 L1283.3 315.5 L1285.9 318.7 L1288.6 321.9 L1291.2 325.1 L1293.9 328.2 L1296.5 331.3 L1299.2 334.3 L1301.8 337.3 L1304.5 340.3 L1307.1 343.2 L1309.8 346.1 L1312.4 348.9 L1315.1 351.6 L1317.7 354.3 L1320.4 356.9 L1323 359.5 L1325.7 362 L1328.3 364.4 L1331 366.8 L1333.6 369.1 L1336.3 371.4 L1338.9 373.5 L1341.6 375.6 L1344.2 377.7 L1346.9 379.7 L1349.5 381.6 L1352.2 383.4 L1354.8 385.2 L1357.5 386.9 L1360.1 388.5 L1362.8 390.1 L1365.4 391.6 L1368.1 393.1 L1370.7 394.5 L1373.4 395.8 L1376 397.1 L1378.7 398.3 L1381.3 399.5 L1384 400.6 L1386.6 401.6 L1389.3 402.6 L1391.9 403.6 L1394.6 404.5 L1397.2 405.3 L1399.9 406.2 L1402.5 406.9 L1405.2 407.7 L1407.8 408.4 L1410.5 409 L1413.1 409.6 L1415.8 410.2 L1418.4 410.7 L1421.1 411.3 L1423.7 411.7 L1426.4 412.2 L1429 412.6 L1431.7 413 L1434.3 413.4 L1437 413.8 L1439.6 414.1 L1442.3 414.4 L1444.9 414.7 L1447.6 414.9 L1450.2 415.2 L1452.9 415.4 L1455.5 415.6 L1458.2 415.8 L1460.8 416 L1463.5 416.2 L1466.1 416.4 L1468.8 416.5 L1471.4 416.7 L1474.1 416.8 L1476.7 416.9 L1479.4 417 L1482 417.1 L1484.7 417.2 L1487.3 417.3 L1490 417.4 L1492.6 417.5 L1495.3 417.5 L1497.9 417.6 L1500.6 417.7 L1503.2 417.7 L1505.9 417.8 L1508.5 417.8 L1511.2 417.9 L1513.8 417.9 L1516.5 418 L1519.1 418 L1521.8 418 L1524.4 418.1 L1527.1 418.1 L1529.7 418.1 L1529.7 418.1 L1527.1 418.1 L1524.4 418.1 L1521.8 418 L1519.1 418 L1516.5 418 L1513.8 417.9 L1511.2 417.9 L1508.5 417.8 L1505.9 417.8 L1503.2 417.7 L1500.6 417.7 L1497.9 417.6 L1495.3 417.5 L1492.6 417.5 L1490 417.4 L1487.3 417.3 L1484.7 417.2 L1482 417.1 L1479.4 417 L1476.7 416.9 L1474.1 416.8 L1471.4 416.7 L1468.8 416.5 L1466.1 416.4 L1463.5 416.2 L1460.8 416 L1458.2 415.8 L1455.5 415.6 L1452.9 415.4 L1450.2 415.2 L1447.6 414.9 L1444.9 414.7 L1442.3 414.4 L1439.6 414.1 L1437 413.8 L1434.3 413.4 L1431.7 413 L1429 412.6 L1426.4 412.2 L1423.7 411.7 L1421.1 411.3 L1418.4 410.8 L1415.8 410.2 L1413.1 409.6 L1410.5 409 L1407.8 408.4 L1405.2 407.7 L1402.5 406.9 L1399.9 406.2 L1397.2 405.4 L1394.6 404.5 L1391.9 403.6 L1389.3 402.6 L1386.6 401.6 L1384 400.6 L1381.3 399.5 L1378.7 398.3 L1376 397.1 L1373.4 395.8 L1370.7 394.5 L1368.1 393.1 L1365.4 391.6 L1362.8 390.1 L1360.1 388.6 L1357.5 386.9 L1354.8 385.2 L1352.2 383.5 L1349.5 381.6 L1346.9 379.7 L1344.2 377.8 L1341.6 375.7 L1338.9 373.6 L1336.3 371.5 L1333.6 369.2 L1331 366.9 L1328.3 364.6 L1325.7 362.1 L1323 359.7 L1320.4 357.1 L1317.7 354.5 L1315.1 351.8 L1312.4 349.1 L1309.8 346.3 L1307.1 343.5 L1304.5 340.6 L1301.8 337.7 L1299.2 334.7 L1296.5 331.7 L1293.9 328.6 L1291.2 325.5 L1288.6 322.4 L1285.9 319.2 L1283.3 316.1 L1280.6 312.9 L1278 309.7 L1275.3 306.4 L1272.7 303.2 L1270 300 L1267.4 296.8 L1264.7 293.5 L1262.1 290.3 L1259.4 287.1 L1256.8 284 L1254.1 280.8 L1251.5 277.7 L1248.8 274.7 L1246.2 271.6 L1243.5 268.7 L1240.9 265.8 L1238.2 262.9 L1235.6 260.1 L1232.9 257.4 L1230.3 254.7 L1227.6 252.1 L1225 249.6 L1222.3 247.2 L1219.7 244.9 L1217 242.7 L1214.4 240.6 L1211.7 238.6 L1209.1 236.7 L1206.4 234.9 L1203.8 233.2 L1201.1 231.6 L1198.5 230.2 L1195.8 228.8 L1193.2 227.6 L1190.5 226.5 L1187.9 225.6 L1185.2 224.8 L1182.6 224.1 L1179.9 223.5 L1177.3 223.1 L1174.6 222.8 L1172 222.6 L1169.3 222.5 L1166.7 222.6 L1164 222.8 L1161.4 223.1 L1158.7 223.6 L1156.1 224.2 L1153.4 224.9 L1150.8 225.7 L1148.1 226.6 L1145.5 227.7 L1142.8 228.9 L1140.2 230.1 L1137.5 231.5 L1134.9 233 L1132.2 234.6 L1129.6 236.2 L1126.9 238 L1124.3 239.8 L1121.6 241.7 L1119 243.7 L1116.3 245.8 L1113.7 248 L1111 250.2 L1108.4 252.4 L1105.7 254.7 L1103.1 257.1 L1100.4 259.5 L1097.8 262 L1095.1 264.5 L1092.5 267 L1089.8 269.6 L1087.2 272.1 L1084.5 274.7 L1081.9 277.3 L1079.2 280 L1076.6 282.6 L1074 285.2 L1071.3 287.8 L1068.7 290.5 L1066 293.1 L1063.4 295.7 L1060.7 298.2 L1058.1 300.8 L1055.4 303.3 L1052.8 305.8 L1050.1 308.3 L1047.5 310.7 L1044.8 313.2 L1042.2 315.5 L1039.5 317.9 L1036.9 320.1 L1034.2 322.4 L1031.6 324.6 L1028.9 326.7 L1026.3 328.8 L1023.6 330.9 L1021 332.9 L1018.3 334.8 L1015.7 336.7 L1013 338.6 L1010.4 340.4 L1007.7 342.1 L1005.1 343.8 L1002.4 345.4 L999.8 347 L997.1 348.5 L994.5 350 L991.8 351.4 L989.2 352.8 L986.5 354.1 L983.9 355.3 L981.2 356.6 L978.6 357.7 L975.9 358.8 L973.3 359.9 L970.6 360.9 L968 361.9 L965.3 362.9 L962.7 363.8 L960 364.7 L957.4 365.5 L954.7 366.3 L952.1 367.1 L949.4 367.8 L946.8 368.5 L944.1 369.2 L941.5 369.8 L938.8 370.4 L936.2 371 L933.5 371.6 L930.9 372.2 L928.2 372.7 L925.6 373.2 L922.9 373.8 L920.3 374.2 L917.6 374.7 L915 375.2 L912.3 375.7 L909.7 376.1 L907 376.5 L904.4 377 L901.7 377.4 L899.1 377.8 L896.4 378.2 L893.8 378.6 L891.1 379.1 L888.5 379.5 L885.8 379.8 L883.2 380.2 L880.5 380.6 L877.9 381 L875.2 381.4 L872.6 381.8 L869.9 382.2 L867.3 382.5 L864.6 382.9 L862 383.3 L859.3 383.6 L856.7 384 L854 384.3 L851.4 384.7 L848.7 385 L846.1 385.3 L843.4 385.6 L840.8 386 L838.1 386.2 L835.5 386.5 L832.8 386.8 L830.2 387.1 L827.5 387.3 L824.9 387.5 L822.2 387.8 L819.6 388 L816.9 388.1 L814.3 388.3 L811.6 388.4 L809 388.6 L806.3 388.7 L803.7 388.7 L801 388.8 L798.4 388.8 L795.7 388.8 L793.1 388.8 L790.4 388.7 L787.8 388.6 L785.1 388.5 L782.5 388.4 L779.8 388.2 L777.2 388 L774.5 387.7 L771.9 387.4 L769.2 387.1 L766.6 386.7 L763.9 386.3 L761.3 385.9 L758.6 385.4 L756 384.9 L753.3 384.4 L750.7 383.8 L748 383.1 L745.4 382.4 L742.7 381.7 L740.1 380.9 L737.4 380.1 L734.8 379.3 L732.1 378.3 L729.5 377.4 L726.8 376.4 L724.2 375.3 L721.5 374.2 L718.9 373.1 L716.2 371.9 L713.6 370.6 L710.9 369.3 L708.3 367.9 L705.6 366.5 L703 365.1 L700.3 363.6 L697.7 362 L695 360.4 L692.4 358.8 L689.7 357.1 L687.1 355.3 L684.4 353.5 L681.8 351.6 L679.1 349.8 L676.5 347.8 L673.8 345.8 L671.2 343.8 L668.5 341.7 L665.9 339.6 L663.2 337.4 L660.6 335.2 L657.9 333 L655.3 330.7 L652.6 328.4 L650 326 L647.3 323.6 L644.7 321.2 L642 318.8 L639.4 316.3 L636.7 313.8 L634.1 311.3 L631.4 308.8 L628.8 306.3 L626.2 303.7 L623.5 301.1 L620.9 298.6 L618.2 296 L615.6 293.4 L612.9 290.8 L610.3 288.3 L607.6 285.7 L605 283.2 L602.3 280.6 L599.7 278.1 L597 275.6 L594.4 273.1 L591.7 270.6 L589.1 268.2 L586.4 265.8 L583.8 263.4 L581.1 261 L578.5 258.7 L575.8 256.5 L573.2 254.2 L570.5 252.1 L567.9 249.9 L565.2 247.8 L562.6 245.8 L559.9 243.8 L557.3 241.8 L554.6 239.9 L552 238.1 L549.3 236.3 L546.7 234.6 L544 232.9 L541.4 231.3 L538.7 229.7 L536.1 228.2 L533.4 226.7 L530.8 225.3 L528.1 224 L525.5 222.7 L522.8 221.4 L520.2 220.2 L517.5 219.1 L514.9 218 L512.2 216.9 L509.6 215.9 L506.9 214.9 L504.3 214 L501.6 213.1 L499 212.3 L496.3 211.5 L493.7 210.7 L491 210 L488.4 209.3 L485.7 208.6 L483.1 208 L480.4 207.4 L477.8 206.8 L475.1 206.2 L472.5 205.7 L469.8 205.2 L467.2 204.7 L464.5 204.2 L461.9 203.8 L459.2 203.4 L456.6 203 L453.9 202.6 L451.3 202.2 L448.6 201.9 L446 201.5 L443.3 201.2 L440.7 201 L438 200.7 L435.4 200.5 L432.7 200.3 L430.1 200.1 L427.4 199.9 L424.8 199.8 L422.1 199.7 L419.5 199.7 L416.8 199.7 L414.2 199.7 L411.5 199.8 L408.9 199.9 L406.2 200 L403.6 200.3 L400.9 200.5 L398.3 200.8 L395.6 201.2 L393 201.7 L390.3 202.2 L387.7 202.7 L385 203.4 L382.4 204.1 L379.7 204.9 L377.1 205.7 L374.4 206.7 L371.8 207.7 L369.1 208.8 L366.5 210 L363.8 211.3 L361.2 212.6 L358.5 214.1 L355.9 215.6 L353.2 217.2 L350.6 219 L347.9 220.8 L345.3 222.6 L342.6 224.6 L340 226.7 L337.3 228.8 L334.7 231.1 L332 233.4 L329.4 235.8 L326.7 238.3 L324.1 240.8 L321.4 243.4 L318.8 246.1 L316.1 248.9 L313.5 251.7 L310.8 254.6 L308.2 257.6 L305.5 260.6 L302.9 263.6 L300.2 266.7 L297.6 269.8 L294.9 273 L292.3 276.2 L289.6 279.5 L287 282.7 L284.3 286 L281.7 289.3 L279 292.6 L276.4 295.9 L273.7 299.2 L271.1 302.5 L268.4 305.8 L265.8 309.1 L263.1 312.4 L260.5 315.6 L257.8 318.8 L255.2 322 L252.5 325.2 L249.9 328.3 L247.2 331.4 L244.6 334.5 L241.9 337.5 L239.3 340.4 L236.6 343.3 L234 346.2 L231.3 349 L228.7 351.7 L226 354.4 L223.4 357 L220.7 359.6 L218.1 362.1 L215.4 364.5 L212.8 366.9 L210.1 369.2 L207.5 371.4 L204.8 373.6 L202.2 375.7 L199.5 377.7 L196.9 379.7 L194.2 381.6 L191.6 383.4 L188.9 385.2 L186.3 386.9 L183.6 388.5 L181 390.1 L178.3 391.6 L175.7 393Z" fill="#989814" fill-opacity="0.2" stroke="none"/>
<path d="M175.7 393 L178.3 391.6 L181 390.1 L183.6 388.5 L186.3 386.9 L188.9 385.2 L191.6 383.4 L194.2 381.6 L196.9 379.7 L199.5 377.7 L202.2 375.7 L204.8 373.6 L207.5 371.4 L210.1 369.2 L212.8 366.9 L215.4 364.5 L218.1 362.1 L220.7 359.6 L223.4 357 L226 354.4 L228.7 351.7 L231.3 349 L234 346.2 L236.6 343.3 L239.3 340.4 L241.9 337.5 L244.6 334.5 L247.2 331.4 L249.9 328.3 L252.5 325.2 L255.2 322 L257.8 318.8 L260.5 315.6 L263.1 312.4 L265.8 309.1 L268.4 305.8 L271.1 302.5 L273.7 299.2 L276.4 295.9 L279 292.6 L281.7 289.3 L284.3 286 L287 282.7 L289.6 279.5 L292.3 276.2 L294.9 273 L297.6 269.8 L300.2 266.7 L302.9 263.6 L305.5 260.6 L308.2 257.6 L310.8 254.6 L313.5 251.7 L316.1 248.9 L318.8 246.1 L321.4 243.4 L324.1 240.8 L326.7 238.3 L329.4 235.8 L332 233.4 L334.7 231.1 L337.3 228.8 L340 226.7 L342.6 224.6 L345.3 222.6 L347.9 220.8 L350.6 219 L353.2 217.2 L355.9 215.6 L358.5 214.1 L361.2 212.6 L363.8 211.3 L366.5 210 L369.1 208.8 L371.8 207.7 L374.4 206.7 L377.1 205.7 L379.7 204.9 L382.4 204.1 L385 203.4 L387.7 202.7 L390.3 202.2 L393 201.6 L395.6 201.2 L398.3 200.8 L400.9 200.5 L403.6 200.2 L406.2 200 L408.9 199.8 L411.5 199.7 L414.2 199.7 L416.8 199.6 L419.5 199.6 L422.1 199.7 L424.8 199.8 L427.4 199.9 L430.1 200 L432.7 200.2 L435.4 200.4 L438 200.6 L440.7 200.8 L443.3 201.1 L446 201.4 L448.6 201.7 L451.3 202 L453.9 202.3 L456.6 202.7 L459.2 203.1 L461.9 203.5 L464.5 203.9 L467.2 204.3 L469.8 204.8 L472.5 205.3 L475.1 205.8 L477.8 206.3 L480.4 206.8 L483.1 207.4 L485.7 207.9 L488.4 208.5 L491 209.2 L493.7 209.8 L496.3 210.5 L499 211.3 L501.6 212 L504.3 212.8 L506.9 213.6 L509.6 214.5 L512.2 215.3 L514.9 216.3 L517.5 217.2 L520.2 218.2 L522.8 219.3 L525.5 220.4 L528.1 221.5 L530.8 222.7 L533.4 223.9 L536.1 225.1 L538.7 226.4 L541.4 227.7 L544 229.1 L546.7 230.5 L549.3 232 L552 233.5 L554.6 235 L557.3 236.5 L559.9 238.1 L562.6 239.7 L565.2 241.4 L567.9 243.1 L570.5 244.8 L573.2 246.5 L575.8 248.2 L578.5 250 L581.1 251.8 L583.8 253.5 L586.4 255.3 L589.1 257.1 L591.7 258.9 L594.4 260.7 L597 262.5 L599.7 264.3 L602.3 266 L605 267.8 L607.6 269.5 L610.3 271.2 L612.9 272.9 L615.6 274.6 L618.2 276.2 L620.9 277.8 L623.5 279.3 L626.2 280.8 L628.8 282.3 L631.4 283.7 L634.1 285 L636.7 286.3 L639.4 287.5 L642 288.7 L644.7 289.8 L647.3 290.9 L650 291.9 L652.6 292.8 L655.3 293.6 L657.9 294.4 L660.6 295.1 L663.2 295.8 L665.9 296.3 L668.5 296.8 L671.2 297.2 L673.8 297.5 L676.5 297.8 L679.1 297.9 L681.8 298 L684.4 298.1 L687.1 298 L689.7 297.9 L692.4 297.6 L695 297.4 L697.7 297 L700.3 296.6 L703 296.1 L705.6 295.5 L708.3 294.9 L710.9 294.2 L713.6 293.4 L716.2 292.6 L718.9 291.7 L721.5 290.7 L724.2 289.7 L726.8 288.7 L729.5 287.6 L732.1 286.4 L734.8 285.2 L737.4 284 L740.1 282.7 L742.7 281.4 L745.4 280.1 L748 278.7 L750.7 277.4 L753.3 275.9 L756 274.5 L758.6 273.1 L761.3 271.6 L763.9 270.2 L766.6 268.7 L769.2 267.2 L771.9 265.8 L774.5 264.3 L777.2 262.8 L779.8 261.4 L782.5 260 L785.1 258.6 L787.8 257.2 L790.4 255.9 L793.1 254.5 L795.7 253.2 L798.4 252 L801 250.8 L803.7 249.6 L806.3 248.5 L809 247.4 L811.6 246.3 L814.3 245.3 L816.9 244.4 L819.6 243.5 L822.2 242.7 L824.9 241.9 L827.5 241.2 L830.2 240.6 L832.8 240 L835.5 239.5 L838.1 239 L840.8 238.6 L843.4 238.3 L846.1 238 L848.7 237.8 L851.4 237.7 L854 237.6 L856.7 237.6 L859.3 237.7 L862 237.8 L864.6 238 L867.3 238.2 L869.9 238.6 L872.6 238.9 L875.2 239.3 L877.9 239.8 L880.5 240.3 L883.2 240.9 L885.8 241.5 L888.5 242.2 L891.1 242.9 L893.8 243.7 L896.4 244.5 L899.1 245.3 L901.7 246.1 L904.4 247 L907 247.9 L909.7 248.8 L912.3 249.7 L915 250.7 L917.6 251.6 L920.3 252.6 L922.9 253.6 L925.6 254.5 L928.2 255.5 L930.9 256.4 L933.5 257.4 L936.2 258.3 L938.8 259.2 L941.5 260.1 L944.1 261 L946.8 261.8 L949.4 262.6 L952.1 263.4 L954.7 264.1 L957.4 264.8 L960 265.5 L962.7 266.1 L965.3 266.7 L968 267.2 L970.6 267.7 L973.3 268.1 L975.9 268.4 L978.6 268.8 L981.2 269 L983.9 269.2 L986.5 269.3 L989.2 269.4 L991.8 269.4 L994.5 269.4 L997.1 269.3 L999.8 269.1 L1002.4 268.8 L1005.1 268.5 L1007.7 268.2 L1010.4 267.8 L1013 267.3 L1015.7 266.7 L1018.3 266.1 L1021 265.4 L1023.6 264.7 L1026.3 263.9 L1028.9 263.1 L1031.6 262.2 L1034.2 261.2 L1036.9 260.2 L1039.5 259.2 L1042.2 258.1 L1044.8 256.9 L1047.5 255.7 L1050.1 254.5 L1052.8 253.2 L1055.4 251.9 L1058.1 250.6 L1060.7 249.2 L1063.4 247.8 L1066 246.4 L1068.7 245 L1071.3 243.5 L1074 242.1 L1076.6 240.6 L1079.2 239.1 L1081.9 237.6 L1084.5 236.1 L1087.2 234.6 L1089.8 233.1 L1092.5 231.7 L1095.1 230.2 L1097.8 228.8 L1100.4 227.3 L1103.1 226 L1105.7 224.6 L1108.4 223.3 L1111 222 L1113.7 220.8 L1116.3 219.6 L1119 218.5 L1121.6 217.4 L1124.3 216.4 L1126.9 215.4 L1129.6 214.5 L1132.2 213.7 L1134.9 213 L1137.5 212.3 L1140.2 211.7 L1142.8 211.2 L1145.5 210.8 L1148.1 210.5 L1150.8 210.3 L1153.4 210.1 L1156.1 210.1 L1158.7 210.2 L1161.4 210.3 L1164 210.6 L1166.7 211 L1169.3 211.5 L1172 212.1 L1174.6 212.8 L1177.3 213.6 L1179.9 214.5 L1182.6 215.6 L1185.2 216.7 L1187.9 218 L1190.5 219.4 L1193.2 220.8 L1195.8 222.4 L1198.5 224.1 L1201.1 225.9 L1203.8 227.8 L1206.4 229.8 L1209.1 231.9 L1211.7 234.1 L1214.4 236.4 L1217 238.8 L1219.7 241.3 L1222.3 243.8 L1225 246.4 L1227.6 249.1 L1230.3 251.9 L1232.9 254.8 L1235.6 257.7 L1238.2 260.6 L1240.9 263.6 L1243.5 266.7 L1246.2 269.8 L1248.8 273 L1251.5 276.2 L1254.1 279.4 L1256.8 282.6 L1259.4 285.9 L1262.1 289.2 L1264.7 292.5 L1267.4 295.8 L1270 299.1 L1272.7 302.4 L1275.3 305.7 L1278 309 L1280.6 312.2 L1283.3 315.5 L1285.9 318.7 L1288.6 321.9 L1291.2 325.1 L1293.9 328.2 L1296.5 331.3 L1299.2 334.3 L1301.8 337.3 L1304.5 340.3 L1307.1 343.2 L1309.8 346.1 L1312.4 348.9 L1315.1 351.6 L1317.7 354.3 L1320.4 356.9 L1323 359.5 L1325.7 362 L1328.3 364.4 L1331 366.8 L1333.6 369.1 L1336.3 371.4 L1338.9 373.5 L1341.6 375.6 L1344.2 377.7 L1346.9 379.7 L1349.5 381.6 L1352.2 383.4 L1354.8 385.2 L1357.5 386.9 L1360.1 388.5 L1362.8 390.1 L1365.4 391.6 L1368.1 393.1 L1370.7 394.5 L1373.4 395.8 L1376 397.1 L1378.7 398.3 L1381.3 399.5 L1384 400.6 L1386.6 401.6 L1389.3 402.6 L1391.9 403.6 L1394.6 404.5 L1397.2 405.3 L1399.9 406.2 L1402.5 406.9 L1405.2 407.7 L1407.8 408.4 L1410.5 409 L1413.1 409.6 L1415.8 410.2 L1418.4 410.7 L1421.1 411.3 L1423.7 411.7 L1426.4 412.2 L1429 412.6 L1431.7 413 L1434.3 413.4 L1437 413.8 L1439.6 414.1 L1442.3 414.4 L1444.9 414.7 L1447.6 414.9 L1450.2 415.2 L1452.9 415.4 L1455.5 415.6 L1458.2 415.8 L1460.8 416 L1463.5 416.2 L1466.1 416.4 L1468.8 416.5 L1471.4 416.7 L1474.1 416.8 L1476.7 416.9 L1479.4 417 L1482 417.1 L1484.7 417.2 L1487.3 417.3 L1490 417.4 L1492.6 417.5 L1495.3 417.5 L1497.9 417.6 L1500.6 417.7 L1503.2 417.7 L1505.9 417.8 L1508.5 417.8 L1511.2 417.9 L1513.8 417.9 L1516.5 418 L1519.1 418 L1521.8 418 L1524.4 418.1 L1527.1 418.1 L1529.7 418.1" fill="none" stroke="#000" stroke-width="2.85" stroke-linejoin="round"/>
<path d="M175.7 393 L178.3 391.6 L181 390.1 L183.6 388.5 L186.3 386.9 L188.9 385.2 L191.6 383.4 L194.2 381.6 L196.9 379.7 L199.5 377.7 L202.2 375.7 L204.8 373.6 L207.5 371.4 L210.1 369.2 L212.8 366.9 L215.4 364.5 L218.1 362.1 L220.7 359.6 L223.4 357 L226 354.4 L228.7 351.7 L231.3 349 L234 346.2 L236.6 343.3 L239.3 340.4 L241.9 337.5 L244.6 334.5 L247.2 331.4 L249.9 328.3 L252.5 325.2 L255.2 322 L257.8 318.8 L260.5 315.6 L263.1 312.4 L265.8 309.1 L268.4 305.8 L271.1 302.5 L273.7 299.2 L276.4 295.9 L279 292.6 L281.7 289.3 L284.3 286 L287 282.7 L289.6 279.5 L292.3 276.2 L294.9 273 L297.6 269.8 L300.2 266.7 L302.9 263.6 L305.5 260.6 L308.2 257.6 L310.8 254.6 L313.5 251.7 L316.1 248.9 L318.8 246.1 L321.4 243.4 L324.1 240.8 L326.7 238.3 L329.4 235.8 L332 233.4 L334.7 231.1 L337.3 228.8 L340 226.7 L342.6 224.6 L345.3 222.6 L347.9 220.8 L350.6 219 L353.2 217.2 L355.9 215.6 L358.5 214.1 L361.2 212.6 L363.8 211.3 L366.5 210 L369.1 208.8 L371.8 207.7 L374.4 206.7 L377.1 205.7 L379.7 204.9 L382.4 204.1 L385 203.4 L387.7 202.7 L390.3 202.2 L393 201.7 L395.6 201.2 L398.3 200.8 L400.9 200.5 L403.6 200.3 L406.2 200 L408.9 199.9 L411.5 199.8 L414.2 199.7 L416.8 199.7 L419.5 199.7 L422.1 199.7 L424.8 199.8 L427.4 199.9 L430.1 200.1 L432.7 200.3 L435.4 200.5 L438 200.7 L440.7 201 L443.3 201.2 L446 201.5 L448.6 201.9 L451.3 202.2 L453.9 202.6 L456.6 203 L459.2 203.4 L461.9 203.8 L464.5 204.2 L467.2 204.7 L469.8 205.2 L472.5 205.7 L475.1 206.2 L477.8 206.8 L480.4 207.4 L483.1 208 L485.7 208.6 L488.4 209.3 L491 210 L493.7 210.7 L496.3 211.5 L499 212.3 L501.6 213.1 L504.3 214 L506.9 214.9 L509.6 215.9 L512.2 216.9 L514.9 218 L517.5 219.1 L520.2 220.2 L522.8 221.4 L525.5 222.7 L528.1 224 L530.8 225.3 L533.4 226.7 L536.1 228.2 L538.7 229.7 L541.4 231.3 L544 232.9 L546.7 234.6 L549.3 236.3 L552 238.1 L554.6 239.9 L557.3 241.8 L559.9 243.8 L562.6 245.8 L565.2 247.8 L567.9 249.9 L570.5 252.1 L573.2 254.2 L575.8 256.5 L578.5 258.7 L581.1 261 L583.8 263.4 L586.4 265.8 L589.1 268.2 L591.7 270.6 L594.4 273.1 L597 275.6 L599.7 278.1 L602.3 280.6 L605 283.2 L607.6 285.7 L610.3 288.3 L612.9 290.8 L615.6 293.4 L618.2 296 L620.9 298.6 L623.5 301.1 L626.2 303.7 L628.8 306.3 L631.4 308.8 L634.1 311.3 L636.7 313.8 L639.4 316.3 L642 318.8 L644.7 321.2 L647.3 323.6 L650 326 L652.6 328.4 L655.3 330.7 L657.9 333 L660.6 335.2 L663.2 337.4 L665.9 339.6 L668.5 341.7 L671.2 343.8 L673.8 345.8 L676.5 347.8 L679.1 349.8 L681.8 351.6 L684.4 353.5 L687.1 355.3 L689.7 357.1 L692.4 358.8 L695 360.4 L697.7 362 L700.3 363.6 L703 365.1 L705.6 366.5 L708.3 367.9 L710.9 369.3 L713.6 370.6 L716.2 371.9 L718.9 373.1 L721.5 374.2 L724.2 375.3 L726.8 376.4 L729.5 377.4 L732.1 378.3 L734.8 379.3 L737.4 380.1 L740.1 380.9 L742.7 381.7 L745.4 382.4 L748 383.1 L750.7 383.8 L753.3 384.4 L756 384.9 L758.6 385.4 L761.3 385.9 L763.9 386.3 L766.6 386.7 L769.2 387.1 L771.9 387.4 L774.5 387.7 L777.2 388 L779.8 388.2 L782.5 388.4 L785.1 388.5 L787.8 388.6 L790.4 388.7 L793.1 388.8 L795.7 388.8 L798.4 388.8 L801 388.8 L803.7 388.7 L806.3 388.7 L809 388.6 L811.6 388.4 L814.3 388.3 L816.9 388.1 L819.6 388 L822.2 387.8 L824.9 387.5 L827.5 387.3 L830.2 387.1 L832.8 386.8 L835.5 386.5 L838.1 386.2 L840.8 386 L843.4 385.6 L846.1 385.3 L848.7 385 L851.4 384.7 L854 384.3 L856.7 384 L859.3 383.6 L862 383.3 L864.6 382.9 L867.3 382.5 L869.9 382.2 L872.6 381.8 L875.2 381.4 L877.9 381 L880.5 380.6 L883.2 380.2 L885.8 379.8 L888.5 379.5 L891.1 379.1 L893.8 378.6 L896.4 378.2 L899.1 377.8 L901.7 377.4 L904.4 377 L907 376.5 L909.7 376.1 L912.3 375.7 L915 375.2 L917.6 374.7 L920.3 374.2 L922.9 373.8 L925.6 373.2 L928.2 372.7 L930.9 372.2 L933.5 371.6 L936.2 371 L938.8 370.4 L941.5 369.8 L944.1 369.2 L946.8 368.5 L949.4 367.8 L952.1 367.1 L954.7 366.3 L957.4 365.5 L960 364.7 L962.7 363.8 L965.3 362.9 L968 361.9 L970.6 360.9 L973.3 359.9 L975.9 358.8 L978.6 357.7 L981.2 356.6 L983.9 355.3 L986.5 354.1 L989.2 352.8 L991.8 351.4 L994.5 350 L997.1 348.5 L999.8 347 L1002.4 345.4 L1005.1 343.8 L1007.7 342.1 L1010.4 340.4 L1013 338.6 L1015.7 336.7 L1018.3 334.8 L1021 332.9 L1023.6 330.9 L1026.3 328.8 L1028.9 326.7 L1031.6 324.6 L1034.2 322.4 L1036.9 320.1 L1039.5 317.9 L1042.2 315.5 L1044.8 313.2 L1047.5 310.7 L1050.1 308.3 L1052.8 305.8 L1055.4 303.3 L1058.1 300.8 L1060.7 298.2 L1063.4 295.7 L1066 293.1 L1068.7 290.5 L1071.3 287.8 L1074 285.2 L1076.6 282.6 L1079.2 280 L1081.9 277.3 L1084.5 274.7 L1087.2 272.1 L1089.8 269.6 L1092.5 267 L1095.1 264.5 L1097.8 262 L1100.4 259.5 L1103.1 257.1 L1105.7 254.7 L1108.4 252.4 L1111 250.2 L1113.7 248 L1116.3 245.8 L1119 243.7 L1121.6 241.7 L1124.3 239.8 L1126.9 238 L1129.6 236.2 L1132.2 234.6 L1134.9 233 L1137.5 231.5 L1140.2 230.1 L1142.8 228.9 L1145.5 227.7 L1148.1 226.6 L1150.8 225.7 L1153.4 224.9 L1156.1 224.2 L1158.7 223.6 L1161.4 223.1 L1164 222.8 L1166.7 222.6 L1169.3 222.5 L1172 222.6 L1174.6 222.8 L1177.3 223.1 L1179.9 223.5 L1182.6 224.1 L1185.2 224.8 L1187.9 225.6 L1190.5 226.5 L1193.2 227.6 L1195.8 228.8 L1198.5 230.2 L1201.1 231.6 L1203.8 233.2 L1206.4 234.9 L1209.1 236.7 L1211.7 238.6 L1214.4 240.6 L1217 242.7 L1219.7 244.9 L1222.3 247.2 L1225 249.6 L1227.6 252.1 L1230.3 254.7 L1232.9 257.4 L1235.6 260.1 L1238.2 262.9 L1240.9 265.8 L1243.5 268.7 L1246.2 271.6 L1248.8 274.7 L1251.5 277.7 L1254.1 280.8 L1256.8 284 L1259.4 287.1 L1262.1 290.3 L1264.7 293.5 L1267.4 296.8 L1270 300 L1272.7 303.2 L1275.3 306.4 L1278 309.7 L1280.6 312.9 L1283.3 316.1 L1285.9 319.2 L1288.6 322.4 L1291.2 325.5 L1293.9 328.6 L1296.5 331.7 L1299.2 334.7 L1301.8 337.7 L1304.5 340.6 L1307.1 343.5 L1309.8 346.3 L1312.4 349.1 L1315.1 351.8 L1317.7 354.5 L1320.4 357.1 L1323 359.7 L1325.7 362.1 L1328.3 364.6 L1331 366.9 L1333.6 369.2 L1336.3 371.5 L1338.9 373.6 L1341.6 375.7 L1344.2 377.8 L1346.9 379.7 L1349.5 381.6 L1352.2 383.5 L1354.8 385.2 L1357.5 386.9 L1360.1 388.6 L1362.8 390.1 L1365.4 391.6 L1368.1 393.1 L1370.7 394.5 L1373.4 395.8 L1376 397.1 L1378.7 398.3 L1381.3 399.5 L1384 400.6 L1386.6 401.6 L1389.3 402.6 L1391.9 403.6 L1394.6 404.5 L1397.2 405.4 L1399.9 406.2 L1402.5 406.9 L1405.2 407.7 L1407.8 408.4 L1410.5 409 L1413.1 409.6 L1415.8 410.2 L1418.4 410.8 L1421.1 411.3 L1423.7 411.7 L1426.4 412.2 L1429 412.6 L1431.7 413 L1434.3 413.4 L1437 413.8 L1439.6 414.1 L1442.3 414.4 L1444.9 414.7 L1447.6 414.9 L1450.2 415.2 L1452.9 415.4 L1455.5 415.6 L1458.2 415.8 L1460.8 416 L1463.5 416.2 L1466.1 416.4 L1468.8 416.5 L1471.4 416.7 L1474.1 416.8 L1476.7 416.9 L1479.4 417 L1482 417.1 L1484.7 417.2 L1487.3 417.3 L1490 417.4 L1492.6 417.5 L1495.3 417.5 L1497.9 417.6 L1500.6 417.7 L1503.2 417.7 L1505.9 417.8 L1508.5 417.8 L1511.2 417.9 L1513.8 417.9 L1516.5 418 L1519.1 418 L1521.8 418 L1524.4 418.1 L1527.1 418.1 L1529.7 418.1 L1529.7 418.1 L1527.1 418.1 L1524.4 418.1 L1521.8 418.1 L1519.1 418 L1516.5 418 L1513.8 418 L1511.2 417.9 L1508.5 417.9 L1505.9 417.8 L1503.2 417.8 L1500.6 417.7 L1497.9 417.7 L1495.3 417.6 L1492.6 417.6 L1490 417.5 L1487.3 417.4 L1484.7 417.3 L1482 417.3 L1479.4 417.2 L1476.7 417.1 L1474.1 417 L1471.4 416.8 L1468.8 416.7 L1466.1 416.6 L1463.5 416.4 L1460.8 416.3 L1458.2 416.1 L1455.5 415.9 L1452.9 415.8 L1450.2 415.5 L1447.6 415.3 L1444.9 415.1 L1442.3 414.8 L1439.6 414.6 L1437 414.3 L1434.3 414 L1431.7 413.6 L1429 413.3 L1426.4 412.9 L1423.7 412.5 L1421.1 412.1 L1418.4 411.6 L1415.8 411.2 L1413.1 410.7 L1410.5 410.1 L1407.8 409.5 L1405.2 408.9 L1402.5 408.3 L1399.9 407.6 L1397.2 406.9 L1394.6 406.1 L1391.9 405.3 L1389.3 404.5 L1386.6 403.6 L1384 402.7 L1381.3 401.7 L1378.7 400.7 L1376 399.6 L1373.4 398.5 L1370.7 397.3 L1368.1 396.1 L1365.4 394.8 L1362.8 393.5 L1360.1 392.1 L1357.5 390.7 L1354.8 389.2 L1352.2 387.6 L1349.5 386 L1346.9 384.3 L1344.2 382.6 L1341.6 380.8 L1338.9 378.9 L1336.3 377 L1333.6 375 L1331 373 L1328.3 370.9 L1325.7 368.7 L1323 366.5 L1320.4 364.3 L1317.7 361.9 L1315.1 359.6 L1312.4 357.1 L1309.8 354.7 L1307.1 352.2 L1304.5 349.6 L1301.8 347 L1299.2 344.3 L1296.5 341.6 L1293.9 338.9 L1291.2 336.1 L1288.6 333.3 L1285.9 330.5 L1283.3 327.7 L1280.6 324.8 L1278 321.9 L1275.3 319 L1272.7 316.1 L1270 313.2 L1267.4 310.3 L1264.7 307.4 L1262.1 304.5 L1259.4 301.6 L1256.8 298.7 L1254.1 295.9 L1251.5 293.1 L1248.8 290.3 L1246.2 287.5 L1243.5 284.8 L1240.9 282.1 L1238.2 279.5 L1235.6 276.9 L1232.9 274.4 L1230.3 271.9 L1227.6 269.5 L1225 267.2 L1222.3 265 L1219.7 262.8 L1217 260.7 L1214.4 258.7 L1211.7 256.8 L1209.1 255 L1206.4 253.3 L1203.8 251.6 L1201.1 250.1 L1198.5 248.7 L1195.8 247.4 L1193.2 246.2 L1190.5 245.1 L1187.9 244.1 L1185.2 243.2 L1182.6 242.4 L1179.9 241.8 L1177.3 241.2 L1174.6 240.8 L1172 240.5 L1169.3 240.3 L1166.7 240.2 L1164 240.3 L1161.4 240.4 L1158.7 240.7 L1156.1 241.1 L1153.4 241.6 L1150.8 242.2 L1148.1 242.9 L1145.5 243.7 L1142.8 244.6 L1140.2 245.6 L1137.5 246.7 L1134.9 247.9 L1132.2 249.2 L1129.6 250.5 L1126.9 252 L1124.3 253.5 L1121.6 255.1 L1119 256.8 L1116.3 258.6 L1113.7 260.4 L1111 262.3 L1108.4 264.3 L1105.7 266.3 L1103.1 268.3 L1100.4 270.4 L1097.8 272.6 L1095.1 274.8 L1092.5 277 L1089.8 279.2 L1087.2 281.5 L1084.5 283.8 L1081.9 286.1 L1079.2 288.5 L1076.6 290.8 L1074 293.2 L1071.3 295.5 L1068.7 297.9 L1066 300.3 L1063.4 302.6 L1060.7 304.9 L1058.1 307.3 L1055.4 309.6 L1052.8 311.9 L1050.1 314.2 L1047.5 316.4 L1044.8 318.6 L1042.2 320.8 L1039.5 323 L1036.9 325.1 L1034.2 327.2 L1031.6 329.2 L1028.9 331.3 L1026.3 333.2 L1023.6 335.2 L1021 337.1 L1018.3 338.9 L1015.7 340.7 L1013 342.5 L1010.4 344.2 L1007.7 345.8 L1005.1 347.5 L1002.4 349 L999.8 350.6 L997.1 352 L994.5 353.5 L991.8 354.9 L989.2 356.2 L986.5 357.5 L983.9 358.7 L981.2 359.9 L978.6 361.1 L975.9 362.2 L973.3 363.3 L970.6 364.4 L968 365.4 L965.3 366.3 L962.7 367.3 L960 368.2 L957.4 369 L954.7 369.9 L952.1 370.7 L949.4 371.5 L946.8 372.2 L944.1 372.9 L941.5 373.6 L938.8 374.3 L936.2 375 L933.5 375.6 L930.9 376.3 L928.2 376.9 L925.6 377.5 L922.9 378 L920.3 378.6 L917.6 379.2 L915 379.7 L912.3 380.2 L909.7 380.8 L907 381.3 L904.4 381.8 L901.7 382.3 L899.1 382.8 L896.4 383.3 L893.8 383.8 L891.1 384.3 L888.5 384.8 L885.8 385.3 L883.2 385.8 L880.5 386.3 L877.9 386.8 L875.2 387.3 L872.6 387.8 L869.9 388.2 L867.3 388.7 L864.6 389.2 L862 389.7 L859.3 390.1 L856.7 390.6 L854 391.1 L851.4 391.5 L848.7 392 L846.1 392.4 L843.4 392.8 L840.8 393.3 L838.1 393.7 L835.5 394.1 L832.8 394.5 L830.2 394.9 L827.5 395.2 L824.9 395.6 L822.2 395.9 L819.6 396.2 L816.9 396.6 L814.3 396.8 L811.6 397.1 L809 397.4 L806.3 397.6 L803.7 397.8 L801 397.9 L798.4 398.1 L795.7 398.2 L793.1 398.3 L790.4 398.4 L787.8 398.4 L785.1 398.4 L782.5 398.4 L779.8 398.3 L777.2 398.2 L774.5 398.1 L771.9 397.9 L769.2 397.7 L766.6 397.5 L763.9 397.2 L761.3 396.9 L758.6 396.5 L756 396.1 L753.3 395.7 L750.7 395.2 L748 394.6 L745.4 394.1 L742.7 393.4 L740.1 392.8 L737.4 392 L734.8 391.3 L732.1 390.5 L729.5 389.6 L726.8 388.7 L724.2 387.7 L721.5 386.7 L718.9 385.7 L716.2 384.6 L713.6 383.4 L710.9 382.2 L708.3 381 L705.6 379.7 L703 378.4 L700.3 377 L697.7 375.5 L695 374 L692.4 372.5 L689.7 370.9 L687.1 369.3 L684.4 367.7 L681.8 365.9 L679.1 364.2 L676.5 362.4 L673.8 360.6 L671.2 358.7 L668.5 356.8 L665.9 354.9 L663.2 352.9 L660.6 350.9 L657.9 348.9 L655.3 346.8 L652.6 344.7 L650 342.6 L647.3 340.5 L644.7 338.4 L642 336.2 L639.4 334 L636.7 331.8 L634.1 329.6 L631.4 327.4 L628.8 325.2 L626.2 323 L623.5 320.8 L620.9 318.6 L618.2 316.5 L615.6 314.3 L612.9 312.1 L610.3 310 L607.6 307.9 L605 305.8 L602.3 303.8 L599.7 301.7 L597 299.7 L594.4 297.8 L591.7 295.9 L589.1 294 L586.4 292.2 L583.8 290.5 L581.1 288.8 L578.5 287.1 L575.8 285.5 L573.2 284 L570.5 282.6 L567.9 281.2 L565.2 279.9 L562.6 278.6 L559.9 277.5 L557.3 276.4 L554.6 275.4 L552 274.5 L549.3 273.6 L546.7 272.9 L544 272.2 L541.4 271.7 L538.7 271.2 L536.1 270.8 L533.4 270.5 L530.8 270.3 L528.1 270.2 L525.5 270.1 L522.8 270.2 L520.2 270.4 L517.5 270.6 L514.9 270.9 L512.2 271.4 L509.6 271.9 L506.9 272.5 L504.3 273.1 L501.6 273.9 L499 274.8 L496.3 275.7 L493.7 276.7 L491 277.8 L488.4 278.9 L485.7 280.2 L483.1 281.5 L480.4 282.8 L477.8 284.2 L475.1 285.7 L472.5 287.3 L469.8 288.9 L467.2 290.5 L464.5 292.2 L461.9 294 L459.2 295.7 L456.6 297.6 L453.9 299.4 L451.3 301.3 L448.6 303.2 L446 305.2 L443.3 307.2 L440.7 309.2 L438 311.2 L435.4 313.2 L432.7 315.2 L430.1 317.3 L427.4 319.4 L424.8 321.4 L422.1 323.5 L419.5 325.5 L416.8 327.6 L414.2 329.7 L411.5 331.7 L408.9 333.7 L406.2 335.8 L403.6 337.8 L400.9 339.8 L398.3 341.7 L395.6 343.7 L393 345.6 L390.3 347.6 L387.7 349.5 L385 351.3 L382.4 353.2 L379.7 355 L377.1 356.8 L374.4 358.6 L371.8 360.3 L369.1 362 L366.5 363.7 L363.8 365.3 L361.2 367 L358.5 368.6 L355.9 370.1 L353.2 371.6 L350.6 373.1 L347.9 374.6 L345.3 376 L342.6 377.4 L340 378.8 L337.3 380.1 L334.7 381.4 L332 382.7 L329.4 384 L326.7 385.2 L324.1 386.4 L321.4 387.5 L318.8 388.6 L316.1 389.7 L313.5 390.8 L310.8 391.8 L308.2 392.9 L305.5 393.8 L302.9 394.8 L300.2 395.7 L297.6 396.6 L294.9 397.5 L292.3 398.3 L289.6 399.2 L287 400 L284.3 400.7 L281.7 401.5 L279 402.2 L276.4 402.9 L273.7 403.6 L271.1 404.2 L268.4 404.9 L265.8 405.5 L263.1 406.1 L260.5 406.6 L257.8 407.2 L255.2 407.7 L252.5 408.2 L249.9 408.7 L247.2 409.2 L244.6 409.6 L241.9 410.1 L239.3 410.5 L236.6 410.9 L234 411.3 L231.3 411.6 L228.7 412 L226 412.3 L223.4 412.7 L220.7 413 L218.1 413.3 L215.4 413.5 L212.8 413.8 L210.1 414.1 L207.5 414.3 L204.8 414.6 L202.2 414.8 L199.5 415 L196.9 415.2 L194.2 415.4 L191.6 415.6 L188.9 415.7 L186.3 415.9 L183.6 416.1 L181 416.2 L178.3 416.3 L175.7 416.5Z" fill="#1EB06E" fill-opacity="0.2" stroke="none"/>
<path d="M175.7 393 L178.3 391.6 L181 390.1 L183.6 388.5 L186.3 386.9 L188.9 385.2 L191.6 383.4 L194.2 381.6 L196.9 379.7 L199.5 377.7 L202.2 375.7 L204.8 373.6 L207.5 371.4 L210.1 369.2 L212.8 366.9 L215.4 364.5 L218.1 362.1 L220.7 359.6 L223.4 357 L226 354.4 L228.7 351.7 L231.3 349 L234 346.2 L236.6 343.3 L239.3 340.4 L241.9 337.5 L244.6 334.5 L247.2 331.4 L249.9 328.3 L252.5 325.2 L255.2 322 L257.8 318.8 L260.5 315.6 L263.1 312.4 L265.8 309.1 L268.4 305.8 L271.1 302.5 L273.7 299.2 L276.4 295.9 L279 292.6 L281.7 289.3 L284.3 286 L287 282.7 L289.6 279.5 L292.3 276.2 L294.9 273 L297.6 269.8 L300.2 266.7 L302.9 263.6 L305.5 260.6 L308.2 257.6 L310.8 254.6 L313.5 251.7 L316.1 248.9 L318.8 246.1 L321.4 243.4 L324.1 240.8 L326.7 238.3 L329.4 235.8 L332 233.4 L334.7 231.1 L337.3 228.8 L340 226.7 L342.6 224.6 L345.3 222.6 L347.9 220.8 L350.6 219 L353.2 217.2 L355.9 215.6 L358.5 214.1 L361.2 212.6 L363.8 211.3 L366.5 210 L369.1 208.8 L371.8 207.7 L374.4 206.7 L377.1 205.7 L379.7 204.9 L382.4 204.1 L385 203.4 L387.7 202.7 L390.3 202.2 L393 201.7 L395.6 201.2 L398.3 200.8 L400.9 200.5 L403.6 200.3 L406.2 200 L408.9 199.9 L411.5 199.8 L414.2 199.7 L416.8 199.7 L419.5 199.7 L422.1 199.7 L424.8 199.8 L427.4 199.9 L430.1 200.1 L432.7 200.3 L435.4 200.5 L438 200.7 L440.7 201 L443.3 201.2 L446 201.5 L448.6 201.9 L451.3 202.2 L453.9 202.6 L456.6 203 L459.2 203.4 L461.9 203.8 L464.5 204.2 L467.2 204.7 L469.8 205.2 L472.5 205.7 L475.1 206.2 L477.8 206.8 L480.4 207.4 L483.1 208 L485.7 208.6 L488.4 209.3 L491 210 L493.7 210.7 L496.3 211.5 L499 212.3 L501.6 213.1 L504.3 214 L506.9 214.9 L509.6 215.9 L512.2 216.9 L514.9 218 L517.5 219.1 L520.2 220.2 L522.8 221.4 L525.5 222.7 L528.1 224 L530.8 225.3 L533.4 226.7 L536.1 228.2 L538.7 229.7 L541.4 231.3 L544 232.9 L546.7 234.6 L549.3 236.3 L552 238.1 L554.6 239.9 L557.3 241.8 L559.9 243.8 L562.6 245.8 L565.2 247.8 L567.9 249.9 L570.5 252.1 L573.2 254.2 L575.8 256.5 L578.5 258.7 L581.1 261 L583.8 263.4 L586.4 265.8 L589.1 268.2 L591.7 270.6 L594.4 273.1 L597 275.6 L599.7 278.1 L602.3 280.6 L605 283.2 L607.6 285.7 L610.3 288.3 L612.9 290.8 L615.6 293.4 L618.2 296 L620.9 298.6 L623.5 301.1 L626.2 303.7 L628.8 306.3 L631.4 308.8 L634.1 311.3 L636.7 313.8 L639.4 316.3 L642 318.8 L644.7 321.2 L647.3 323.6 L650 326 L652.6 328.4 L655.3 330.7 L657.9 333 L660.6 335.2 L663.2 337.4 L665.9 339.6 L668.5 341.7 L671.2 343.8 L673.8 345.8 L676.5 347.8 L679.1 349.8 L681.8 351.6 L684.4 353.5 L687.1 355.3 L689.7 357.1 L692.4 358.8 L695 360.4 L697.7 362 L700.3 363.6 L703 365.1 L705.6 366.5 L708.3 367.9 L710.9 369.3 L713.6 370.6 L716.2 371.9 L718.9 373.1 L721.5 374.2 L724.2 375.3 L726.8 376.4 L729.5 377.4 L732.1 378.3 L734.8 379.3 L737.4 380.1 L740.1 380.9 L742.7 381.7 L745.4 382.4 L748 383.1 L750.7 383.8 L753.3 384.4 L756 384.9 L758.6 385.4 L761.3 385.9 L763.9 386.3 L766.6 386.7 L769.2 387.1 L771.9 387.4 L774.5 387.7 L777.2 388 L779.8 388.2 L782.5 388.4 L785.1 388.5 L787.8 388.6 L790.4 388.7 L793.1 388.8 L795.7 388.8 L798.4 388.8 L801 388.8 L803.7 388.7 L806.3 388.7 L809 388.6 L811.6 388.4 L814.3 388.3 L816.9 388.1 L819.6 388 L822.2 387.8 L824.9 387.5 L827.5 387.3 L830.2 387.1 L832.8 386.8 L835.5 386.5 L838.1 386.2 L840.8 386 L843.4 385.6 L846.1 385.3 L848.7 385 L851.4 384.7 L854 384.3 L856.7 384 L859.3 383.6 L862 383.3 L864.6 382.9 L867.3 382.5 L869.9 382.2 L872.6 381.8 L875.2 381.4 L877.9 381 L880.5 380.6 L883.2 380.2 L885.8 379.8 L888.5 379.5 L891.1 379.1 L893.8 378.6 L896.4 378.2 L899.1 377.8 L901.7 377.4 L904.4 377 L907 376.5 L909.7 376.1 L912.3 375.7 L915 375.2 L917.6 374.7 L920.3 374.2 L922.9 373.8 L925.6 373.2 L928.2 372.7 L930.9 372.2 L933.5 371.6 L936.2 371 L938.8 370.4 L941.5 369.8 L944.1 369.2 L946.8 368.5 L949.4 367.8 L952.1 367.1 L954.7 366.3 L957.4 365.5 L960 364.7 L962.7 363.8 L965.3 362.9 L968 361.9 L970.6 360.9 L973.3 359.9 L975.9 358.8 L978.6 357.7 L981.2 356.6 L983.9 355.3 L986.5 354.1 L989.2 352.8 L991.8 351.4 L994.5 350 L997.1 348.5 L999.8 347 L1002.4 345.4 L1005.1 343.8 L1007.7 342.1 L1010.4 340.4 L1013 338.6 L1015.7 336.7 L1018.3 334.8 L1021 332.9 L1023.6 330.9 L1026.3 328.8 L1028.9 326.7 L1031.6 324.6 L1034.2 322.4 L1036.9 320.1 L1039.5 317.9 L1042.2 315.5 L1044.8 313.2 L1047.5 310.7 L1050.1 308.3 L1052.8 305.8 L1055.4 303.3 L1058.1 300.8 L1060.7 298.2 L1063.4 295.7 L1066 293.1 L1068.7 290.5 L1071.3 287.8 L1074 285.2 L1076.6 282.6 L1079.2 280 L1081.9 277.3 L1084.5 274.7 L1087.2 272.1 L1089.8 269.6 L1092.5 267 L1095.1 264.5 L1097.8 262 L1100.4 259.5 L1103.1 257.1 L1105.7 254.7 L1108.4 252.4 L1111 250.2 L1113.7 248 L1116.3 245.8 L1119 243.7 L1121.6 241.7 L1124.3 239.8 L1126.9 238 L1129.6 236.2 L1132.2 234.6 L1134.9 233 L1137.5 231.5 L1140.2 230.1 L1142.8 228.9 L1145.5 227.7 L1148.1 226.6 L1150.8 225.7 L1153.4 224.9 L1156.1 224.2 L1158.7 223.6 L1161.4 223.1 L1164 222.8 L1166.7 222.6 L1169.3 222.5 L1172 222.6 L1174.6 222.8 L1177.3 223.1 L1179.9 223.5 L1182.6 224.1 L1185.2 224.8 L1187.9 225.6 L1190.5 226.5 L1193.2 227.6 L1195.8 228.8 L1198.5 230.2 L1201.1 231.6 L1203.8 233.2 L1206.4 234.9 L1209.1 236.7 L1211.7 238.6 L1214.4 240.6 L1217 242.7 L1219.7 244.9 L1222.3 247.2 L1225 249.6 L1227.6 252.1 L1230.3 254.7 L1232.9 257.4 L1235.6 260.1 L1238.2 262.9 L1240.9 265.8 L1243.5 268.7 L1246.2 271.6 L1248.8 274.7 L1251.5 277.7 L1254.1 280.8 L1256.8 284 L1259.4 287.1 L1262.1 290.3 L1264.7 293.5 L1267.4 296.8 L1270 300 L1272.7 303.2 L1275.3 306.4 L1278 309.7 L1280.6 312.9 L1283.3 316.1 L1285.9 319.2 L1288.6 322.4 L1291.2 325.5 L1293.9 328.6 L1296.5 331.7 L1299.2 334.7 L1301.8 337.7 L1304.5 340.6 L1307.1 343.5 L1309.8 346.3 L1312.4 349.1 L1315.1 351.8 L1317.7 354.5 L1320.4 357.1 L1323 359.7 L1325.7 362.1 L1328.3 364.6 L1331 366.9 L1333.6 369.2 L1336.3 371.5 L1338.9 373.6 L1341.6 375.7 L1344.2 377.8 L1346.9 379.7 L1349.5 381.6 L1352.2 383.5 L1354.8 385.2 L1357.5 386.9 L1360.1 388.6 L1362.8 390.1 L1365.4 391.6 L1368.1 393.1 L1370.7 394.5 L1373.4 395.8 L1376 397.1 L1378.7 398.3 L1381.3 399.5 L1384 400.6 L1386.6 401.6 L1389.3 402.6 L1391.9 403.6 L1394.6 404.5 L1397.2 405.4 L1399.9 406.2 L1402.5 406.9 L1405.2 407.7 L1407.8 408.4 L1410.5 409 L1413.1 409.6 L1415.8 410.2 L1418.4 410.8 L1421.1 411.3 L1423.7 411.7 L1426.4 412.2 L1429 412.6 L1431.7 413 L1434.3 413.4 L1437 413.8 L1439.6 414.1 L1442.3 414.4 L1444.9 414.7 L1447.6 414.9 L1450.2 415.2 L1452.9 415.4 L1455.5 415.6 L1458.2 415.8 L1460.8 416 L1463.5 416.2 L1466.1 416.4 L1468.8 416.5 L1471.4 416.7 L1474.1 416.8 L1476.7 416.9 L1479.4 417 L1482 417.1 L1484.7 417.2 L1487.3 417.3 L1490 417.4 L1492.6 417.5 L1495.3 417.5 L1497.9 417.6 L1500.6 417.7 L1503.2 417.7 L1505.9 417.8 L1508.5 417.8 L1511.2 417.9 L1513.8 417.9 L1516.5 418 L1519.1 418 L1521.8 418 L1524.4 418.1 L1527.1 418.1 L1529.7 418.1" fill="none" stroke="#000" stroke-width="2.85" stroke-linejoin="round"/>
<path d="M175.7 416.5 L178.3 416.3 L181 416.2 L183.6 416.1 L186.3 415.9 L188.9 415.7 L191.6 415.6 L194.2 415.4 L196.9 415.2 L199.5 415 L202.2 414.8 L204.8 414.6 L207.5 414.3 L210.1 414.1 L212.8 413.8 L215.4 413.5 L218.1 413.3 L220.7 413 L223.4 412.7 L226 412.3 L228.7 412 L231.3 411.6 L234 411.3 L236.6 410.9 L239.3 410.5 L241.9 410.1 L244.6 409.6 L247.2 409.2 L249.9 408.7 L252.5 408.2 L255.2 407.7 L257.8 407.2 L260.5 406.6 L263.1 406.1 L265.8 405.5 L268.4 404.9 L271.1 404.2 L273.7 403.6 L276.4 402.9 L279 402.2 L281.7 401.5 L284.3 400.7 L287 400 L289.6 399.2 L292.3 398.3 L294.9 397.5 L297.6 396.6 L300.2 395.7 L302.9 394.8 L305.5 393.8 L308.2 392.9 L310.8 391.8 L313.5 390.8 L316.1 389.7 L318.8 388.6 L321.4 387.5 L324.1 386.4 L326.7 385.2 L329.4 384 L332 382.7 L334.7 381.4 L337.3 380.1 L340 378.8 L342.6 377.4 L345.3 376 L347.9 374.6 L350.6 373.1 L353.2 371.6 L355.9 370.1 L358.5 368.6 L361.2 367 L363.8 365.3 L366.5 363.7 L369.1 362 L371.8 360.3 L374.4 358.6 L377.1 356.8 L379.7 355 L382.4 353.2 L385 351.3 L387.7 349.5 L390.3 347.6 L393 345.6 L395.6 343.7 L398.3 341.7 L400.9 339.8 L403.6 337.8 L406.2 335.8 L408.9 333.7 L411.5 331.7 L414.2 329.7 L416.8 327.6 L419.5 325.5 L422.1 323.5 L424.8 321.4 L427.4 319.4 L430.1 317.3 L432.7 315.2 L435.4 313.2 L438 311.2 L440.7 309.2 L443.3 307.2 L446 305.2 L448.6 303.2 L451.3 301.3 L453.9 299.4 L456.6 297.6 L459.2 295.7 L461.9 294 L464.5 292.2 L467.2 290.5 L469.8 288.9 L472.5 287.3 L475.1 285.7 L477.8 284.2 L480.4 282.8 L483.1 281.5 L485.7 280.2 L488.4 278.9 L491 277.8 L493.7 276.7 L496.3 275.7 L499 274.8 L501.6 273.9 L504.3 273.1 L506.9 272.5 L509.6 271.9 L512.2 271.4 L514.9 270.9 L517.5 270.6 L520.2 270.4 L522.8 270.2 L525.5 270.1 L528.1 270.2 L530.8 270.3 L533.4 270.5 L536.1 270.8 L538.7 271.2 L541.4 271.7 L544 272.2 L546.7 272.9 L549.3 273.6 L552 274.5 L554.6 275.4 L557.3 276.4 L559.9 277.5 L562.6 278.6 L565.2 279.9 L567.9 281.2 L570.5 282.6 L573.2 284 L575.8 285.5 L578.5 287.1 L581.1 288.8 L583.8 290.5 L586.4 292.2 L589.1 294 L591.7 295.9 L594.4 297.8 L597 299.7 L599.7 301.7 L602.3 303.8 L605 305.8 L607.6 307.9 L610.3 310 L612.9 312.1 L615.6 314.3 L618.2 316.5 L620.9 318.6 L623.5 320.8 L626.2 323 L628.8 325.2 L631.4 327.4 L634.1 329.6 L636.7 331.8 L639.4 334 L642 336.2 L644.7 338.4 L647.3 340.5 L650 342.6 L652.6 344.7 L655.3 346.8 L657.9 348.9 L660.6 350.9 L663.2 352.9 L665.9 354.9 L668.5 356.8 L671.2 358.7 L673.8 360.6 L676.5 362.4 L679.1 364.2 L681.8 365.9 L684.4 367.7 L687.1 369.3 L689.7 370.9 L692.4 372.5 L695 374 L697.7 375.5 L700.3 377 L703 378.4 L705.6 379.7 L708.3 381 L710.9 382.2 L713.6 383.4 L716.2 384.6 L718.9 385.7 L721.5 386.7 L724.2 387.7 L726.8 388.7 L729.5 389.6 L732.1 390.5 L734.8 391.3 L737.4 392 L740.1 392.8 L742.7 393.4 L745.4 394.1 L748 394.6 L750.7 395.2 L753.3 395.7 L756 396.1 L758.6 396.5 L761.3 396.9 L763.9 397.2 L766.6 397.5 L769.2 397.7 L771.9 397.9 L774.5 398.1 L777.2 398.2 L779.8 398.3 L782.5 398.4 L785.1 398.4 L787.8 398.4 L790.4 398.4 L793.1 398.3 L795.7 398.2 L798.4 398.1 L801 397.9 L803.7 397.8 L806.3 397.6 L809 397.4 L811.6 397.1 L814.3 396.8 L816.9 396.6 L819.6 396.2 L822.2 395.9 L824.9 395.6 L827.5 395.2 L830.2 394.9 L832.8 394.5 L835.5 394.1 L838.1 393.7 L840.8 393.3 L843.4 392.8 L846.1 392.4 L848.7 392 L851.4 391.5 L854 391.1 L856.7 390.6 L859.3 390.1 L862 389.7 L864.6 389.2 L867.3 388.7 L869.9 388.2 L872.6 387.8 L875.2 387.3 L877.9 386.8 L880.5 386.3 L883.2 385.8 L885.8 385.3 L888.5 384.8 L891.1 384.3 L893.8 383.8 L896.4 383.3 L899.1 382.8 L901.7 382.3 L904.4 381.8 L907 381.3 L909.7 380.8 L912.3 380.2 L915 379.7 L917.6 379.2 L920.3 378.6 L922.9 378 L925.6 377.5 L928.2 376.9 L930.9 376.3 L933.5 375.6 L936.2 375 L938.8 374.3 L941.5 373.6 L944.1 372.9 L946.8 372.2 L949.4 371.5 L952.1 370.7 L954.7 369.9 L957.4 369 L960 368.2 L962.7 367.3 L965.3 366.3 L968 365.4 L970.6 364.4 L973.3 363.3 L975.9 362.2 L978.6 361.1 L981.2 359.9 L983.9 358.7 L986.5 357.5 L989.2 356.2 L991.8 354.9 L994.5 353.5 L997.1 352 L999.8 350.6 L1002.4 349 L1005.1 347.5 L1007.7 345.8 L1010.4 344.2 L1013 342.5 L1015.7 340.7 L1018.3 338.9 L1021 337.1 L1023.6 335.2 L1026.3 333.2 L1028.9 331.3 L1031.6 329.2 L1034.2 327.2 L1036.9 325.1 L1039.5 323 L1042.2 320.8 L1044.8 318.6 L1047.5 316.4 L1050.1 314.2 L1052.8 311.9 L1055.4 309.6 L1058.1 307.3 L1060.7 304.9 L1063.4 302.6 L1066 300.3 L1068.7 297.9 L1071.3 295.5 L1074 293.2 L1076.6 290.8 L1079.2 288.5 L1081.9 286.1 L1084.5 283.8 L1087.2 281.5 L1089.8 279.2 L1092.5 277 L1095.1 274.8 L1097.8 272.6 L1100.4 270.4 L1103.1 268.3 L1105.7 266.3 L1108.4 264.3 L1111 262.3 L1113.7 260.4 L1116.3 258.6 L1119 256.8 L1121.6 255.1 L1124.3 253.5 L1126.9 252 L1129.6 250.5 L1132.2 249.2 L1134.9 247.9 L1137.5 246.7 L1140.2 245.6 L1142.8 244.6 L1145.5 243.7 L1148.1 242.9 L1150.8 242.2 L1153.4 241.6 L1156.1 241.1 L1158.7 240.7 L1161.4 240.4 L1164 240.3 L1166.7 240.2 L1169.3 240.3 L1172 240.5 L1174.6 240.8 L1177.3 241.2 L1179.9 241.8 L1182.6 242.4 L1185.2 243.2 L1187.9 244.1 L1190.5 245.1 L1193.2 246.2 L1195.8 247.4 L1198.5 248.7 L1201.1 250.1 L1203.8 251.6 L1206.4 253.3 L1209.1 255 L1211.7 256.8 L1214.4 258.7 L1217 260.7 L1219.7 262.8 L1222.3 265 L1225 267.2 L1227.6 269.5 L1230.3 271.9 L1232.9 274.4 L1235.6 276.9 L1238.2 279.5 L1240.9 282.1 L1243.5 284.8 L1246.2 287.5 L1248.8 290.3 L1251.5 293.1 L1254.1 295.9 L1256.8 298.7 L1259.4 301.6 L1262.1 304.5 L1264.7 307.4 L1267.4 310.3 L1270 313.2 L1272.7 316.1 L1275.3 319 L1278 321.9 L1280.6 324.8 L1283.3 327.7 L1285.9 330.5 L1288.6 333.3 L1291.2 336.1 L1293.9 338.9 L1296.5 341.6 L1299.2 344.3 L1301.8 347 L1304.5 349.6 L1307.1 352.2 L1309.8 354.7 L1312.4 357.1 L1315.1 359.6 L1317.7 361.9 L1320.4 364.3 L1323 366.5 L1325.7 368.7 L1328.3 370.9 L1331 373 L1333.6 375 L1336.3 377 L1338.9 378.9 L1341.6 380.8 L1344.2 382.6 L1346.9 384.3 L1349.5 386 L1352.2 387.6 L1354.8 389.2 L1357.5 390.7 L1360.1 392.1 L1362.8 393.5 L1365.4 394.8 L1368.1 396.1 L1370.7 397.3 L1373.4 398.5 L1376 399.6 L1378.7 400.7 L1381.3 401.7 L1384 402.7 L1386.6 403.6 L1389.3 404.5 L1391.9 405.3 L1394.6 406.1 L1397.2 406.9 L1399.9 407.6 L1402.5 408.3 L1405.2 408.9 L1407.8 409.5 L1410.5 410.1 L1413.1 410.7 L1415.8 411.2 L1418.4 411.6 L1421.1 412.1 L1423.7 412.5 L1426.4 412.9 L1429 413.3 L1431.7 413.6 L1434.3 414 L1437 414.3 L1439.6 414.6 L1442.3 414.8 L1444.9 415.1 L1447.6 415.3 L1450.2 415.5 L1452.9 415.8 L1455.5 415.9 L1458.2 416.1 L1460.8 416.3 L1463.5 416.4 L1466.1 416.6 L1468.8 416.7 L1471.4 416.8 L1474.1 417 L1476.7 417.1 L1479.4 417.2 L1482 417.3 L1484.7 417.3 L1487.3 417.4 L1490 417.5 L1492.6 417.6 L1495.3 417.6 L1497.9 417.7 L1500.6 417.7 L1503.2 417.8 L1505.9 417.8 L1508.5 417.9 L1511.2 417.9 L1513.8 418 L1516.5 418 L1519.1 418 L1521.8 418.1 L1524.4 418.1 L1527.1 418.1 L1529.7 418.1 L1529.7 418.2 L1527.1 418.2 L1524.4 418.2 L1521.8 418.1 L1519.1 418.1 L1516.5 418.1 L1513.8 418.1 L1511.2 418 L1508.5 418 L1505.9 417.9 L1503.2 417.9 L1500.6 417.8 L1497.9 417.8 L1495.3 417.7 L1492.6 417.7 L1490 417.6 L1487.3 417.5 L1484.7 417.5 L1482 417.4 L1479.4 417.3 L1476.7 417.2 L1474.1 417.1 L1471.4 417 L1468.8 416.8 L1466.1 416.7 L1463.5 416.6 L1460.8 416.4 L1458.2 416.2 L1455.5 416.1 L1452.9 415.9 L1450.2 415.7 L1447.6 415.4 L1444.9 415.2 L1442.3 415 L1439.6 414.7 L1437 414.4 L1434.3 414.1 L1431.7 413.8 L1429 413.4 L1426.4 413 L1423.7 412.6 L1421.1 412.2 L1418.4 411.8 L1415.8 411.3 L1413.1 410.8 L1410.5 410.2 L1407.8 409.6 L1405.2 409 L1402.5 408.4 L1399.9 407.7 L1397.2 407 L1394.6 406.2 L1391.9 405.4 L1389.3 404.6 L1386.6 403.7 L1384 402.8 L1381.3 401.8 L1378.7 400.8 L1376 399.7 L1373.4 398.6 L1370.7 397.4 L1368.1 396.2 L1365.4 394.9 L1362.8 393.6 L1360.1 392.2 L1357.5 390.7 L1354.8 389.2 L1352.2 387.7 L1349.5 386 L1346.9 384.4 L1344.2 382.6 L1341.6 380.8 L1338.9 379 L1336.3 377 L1333.6 375.1 L1331 373 L1328.3 370.9 L1325.7 368.8 L1323 366.6 L1320.4 364.3 L1317.7 362 L1315.1 359.6 L1312.4 357.2 L1309.8 354.7 L1307.1 352.2 L1304.5 349.6 L1301.8 347 L1299.2 344.3 L1296.5 341.6 L1293.9 338.9 L1291.2 336.2 L1288.6 333.4 L1285.9 330.5 L1283.3 327.7 L1280.6 324.8 L1278 321.9 L1275.3 319 L1272.7 316.1 L1270 313.2 L1267.4 310.3 L1264.7 307.4 L1262.1 304.5 L1259.4 301.6 L1256.8 298.7 L1254.1 295.9 L1251.5 293.1 L1248.8 290.3 L1246.2 287.5 L1243.5 284.8 L1240.9 282.1 L1238.2 279.5 L1235.6 276.9 L1232.9 274.4 L1230.3 272 L1227.6 269.6 L1225 267.3 L1222.3 265 L1219.7 262.9 L1217 260.8 L1214.4 258.8 L1211.7 256.9 L1209.1 255.1 L1206.4 253.4 L1203.8 251.7 L1201.1 250.2 L1198.5 248.8 L1195.8 247.5 L1193.2 246.3 L1190.5 245.2 L1187.9 244.2 L1185.2 243.4 L1182.6 242.6 L1179.9 242 L1177.3 241.5 L1174.6 241.1 L1172 240.8 L1169.3 240.6 L1166.7 240.6 L1164 240.7 L1161.4 240.9 L1158.7 241.2 L1156.1 241.6 L1153.4 242.1 L1150.8 242.7 L1148.1 243.5 L1145.5 244.3 L1142.8 245.3 L1140.2 246.4 L1137.5 247.5 L1134.9 248.8 L1132.2 250.1 L1129.6 251.6 L1126.9 253.1 L1124.3 254.7 L1121.6 256.5 L1119 258.2 L1116.3 260.1 L1113.7 262 L1111 264 L1108.4 266.1 L1105.7 268.2 L1103.1 270.4 L1100.4 272.7 L1097.8 275 L1095.1 277.3 L1092.5 279.7 L1089.8 282.1 L1087.2 284.6 L1084.5 287.1 L1081.9 289.6 L1079.2 292.1 L1076.6 294.7 L1074 297.2 L1071.3 299.8 L1068.7 302.4 L1066 305 L1063.4 307.6 L1060.7 310.3 L1058.1 312.9 L1055.4 315.5 L1052.8 318 L1050.1 320.6 L1047.5 323.2 L1044.8 325.7 L1042.2 328.2 L1039.5 330.7 L1036.9 333.2 L1034.2 335.7 L1031.6 338.1 L1028.9 340.5 L1026.3 342.8 L1023.6 345.1 L1021 347.4 L1018.3 349.7 L1015.7 351.9 L1013 354.1 L1010.4 356.2 L1007.7 358.3 L1005.1 360.3 L1002.4 362.3 L999.8 364.3 L997.1 366.2 L994.5 368 L991.8 369.9 L989.2 371.6 L986.5 373.4 L983.9 375 L981.2 376.7 L978.6 378.3 L975.9 379.8 L973.3 381.3 L970.6 382.8 L968 384.2 L965.3 385.5 L962.7 386.9 L960 388.1 L957.4 389.4 L954.7 390.6 L952.1 391.7 L949.4 392.9 L946.8 393.9 L944.1 395 L941.5 396 L938.8 396.9 L936.2 397.9 L933.5 398.8 L930.9 399.6 L928.2 400.4 L925.6 401.2 L922.9 402 L920.3 402.7 L917.6 403.4 L915 404.1 L912.3 404.8 L909.7 405.4 L907 406 L904.4 406.6 L901.7 407.1 L899.1 407.6 L896.4 408.1 L893.8 408.6 L891.1 409.1 L888.5 409.5 L885.8 410 L883.2 410.4 L880.5 410.7 L877.9 411.1 L875.2 411.5 L872.6 411.8 L869.9 412.1 L867.3 412.4 L864.6 412.7 L862 413 L859.3 413.3 L856.7 413.6 L854 413.8 L851.4 414 L848.7 414.3 L846.1 414.5 L843.4 414.7 L840.8 414.9 L838.1 415.1 L835.5 415.3 L832.8 415.4 L830.2 415.6 L827.5 415.8 L824.9 415.9 L822.2 416 L819.6 416.2 L816.9 416.3 L814.3 416.4 L811.6 416.5 L809 416.7 L806.3 416.8 L803.7 416.9 L801 417 L798.4 417.1 L795.7 417.1 L793.1 417.2 L790.4 417.3 L787.8 417.4 L785.1 417.4 L782.5 417.5 L779.8 417.6 L777.2 417.6 L774.5 417.7 L771.9 417.7 L769.2 417.8 L766.6 417.8 L763.9 417.9 L761.3 417.9 L758.6 418 L756 418 L753.3 418 L750.7 418.1 L748 418.1 L745.4 418.1 L742.7 418.2 L740.1 418.2 L737.4 418.2 L734.8 418.2 L732.1 418.3 L729.5 418.3 L726.8 418.3 L724.2 418.3 L721.5 418.3 L718.9 418.4 L716.2 418.4 L713.6 418.4 L710.9 418.4 L708.3 418.4 L705.6 418.4 L703 418.4 L700.3 418.4 L697.7 418.4 L695 418.5 L692.4 418.5 L689.7 418.5 L687.1 418.5 L684.4 418.5 L681.8 418.5 L679.1 418.5 L676.5 418.5 L673.8 418.5 L671.2 418.5 L668.5 418.5 L665.9 418.5 L663.2 418.5 L660.6 418.5 L657.9 418.5 L655.3 418.5 L652.6 418.5 L650 418.5 L647.3 418.5 L644.7 418.5 L642 418.5 L639.4 418.5 L636.7 418.5 L634.1 418.5 L631.4 418.5 L628.8 418.5 L626.2 418.5 L623.5 418.5 L620.9 418.5 L618.2 418.5 L615.6 418.5 L612.9 418.5 L610.3 418.5 L607.6 418.5 L605 418.5 L602.3 418.5 L599.7 418.5 L597 418.5 L594.4 418.5 L591.7 418.5 L589.1 418.5 L586.4 418.5 L583.8 418.5 L581.1 418.5 L578.5 418.5 L575.8 418.5 L573.2 418.5 L570.5 418.5 L567.9 418.5 L565.2 418.5 L562.6 418.5 L559.9 418.5 L557.3 418.5 L554.6 418.5 L552 418.5 L549.3 418.5 L546.7 418.5 L544 418.5 L541.4 418.5 L538.7 418.5 L536.1 418.5 L533.4 418.5 L530.8 418.5 L528.1 418.5 L525.5 418.5 L522.8 418.5 L520.2 418.5 L517.5 418.5 L514.9 418.5 L512.2 418.5 L509.6 418.5 L506.9 418.5 L504.3 418.5 L501.6 418.5 L499 418.5 L496.3 418.5 L493.7 418.5 L491 418.5 L488.4 418.5 L485.7 418.5 L483.1 418.5 L480.4 418.5 L477.8 418.5 L475.1 418.5 L472.5 418.5 L469.8 418.5 L467.2 418.5 L464.5 418.5 L461.9 418.5 L459.2 418.5 L456.6 418.5 L453.9 418.5 L451.3 418.5 L448.6 418.5 L446 418.5 L443.3 418.5 L440.7 418.5 L438 418.5 L435.4 418.5 L432.7 418.5 L430.1 418.5 L427.4 418.5 L424.8 418.5 L422.1 418.5 L419.5 418.5 L416.8 418.5 L414.2 418.5 L411.5 418.5 L408.9 418.5 L406.2 418.5 L403.6 418.5 L400.9 418.5 L398.3 418.5 L395.6 418.5 L393 418.5 L390.3 418.5 L387.7 418.5 L385 418.5 L382.4 418.5 L379.7 418.5 L377.1 418.5 L374.4 418.5 L371.8 418.5 L369.1 418.5 L366.5 418.5 L363.8 418.5 L361.2 418.5 L358.5 418.5 L355.9 418.5 L353.2 418.5 L350.6 418.5 L347.9 418.5 L345.3 418.5 L342.6 418.5 L340 418.5 L337.3 418.5 L334.7 418.5 L332 418.5 L329.4 418.5 L326.7 418.5 L324.1 418.5 L321.4 418.5 L318.8 418.5 L316.1 418.5 L313.5 418.5 L310.8 418.5 L308.2 418.5 L305.5 418.5 L302.9 418.5 L300.2 418.5 L297.6 418.5 L294.9 418.5 L292.3 418.5 L289.6 418.5 L287 418.5 L284.3 418.5 L281.7 418.5 L279 418.5 L276.4 418.5 L273.7 418.5 L271.1 418.5 L268.4 418.5 L265.8 418.5 L263.1 418.5 L260.5 418.5 L257.8 418.5 L255.2 418.5 L252.5 418.5 L249.9 418.5 L247.2 418.5 L244.6 418.5 L241.9 418.5 L239.3 418.5 L236.6 418.5 L234 418.5 L231.3 418.5 L228.7 418.5 L226 418.5 L223.4 418.5 L220.7 418.5 L218.1 418.5 L215.4 418.5 L212.8 418.5 L210.1 418.5 L207.5 418.5 L204.8 418.5 L202.2 418.5 L199.5 418.5 L196.9 418.5 L194.2 418.5 L191.6 418.5 L188.9 418.5 L186.3 418.5 L183.6 418.5 L181 418.5 L178.3 418.5 L175.7 418.5Z" fill="#149CF5" fill-opacity="0.2" stroke="none"/>
<path d="M175.7 416.5 L178.3 416.3 L181 416.2 L183.6 416.1 L186.3 415.9 L188.9 415.7 L191.6 415.6 L194.2 415.4 L196.9 415.2 L199.5 415 L202.2 414.8 L204.8 414.6 L207.5 414.3 L210.1 414.1 L212.8 413.8 L215.4 413.5 L218.1 413.3 L220.7 413 L223.4 412.7 L226 412.3 L228.7 412 L231.3 411.6 L234 411.3 L236.6 410.9 L239.3 410.5 L241.9 410.1 L244.6 409.6 L247.2 409.2 L249.9 408.7 L252.5 408.2 L255.2 407.7 L257.8 407.2 L260.5 406.6 L263.1 406.1 L265.8 405.5 L268.4 404.9 L271.1 404.2 L273.7 403.6 L276.4 402.9 L279 402.2 L281.7 401.5 L284.3 400.7 L287 400 L289.6 399.2 L292.3 398.3 L294.9 397.5 L297.6 396.6 L300.2 395.7 L302.9 394.8 L305.5 393.8 L308.2 392.9 L310.8 391.8 L313.5 390.8 L316.1 389.7 L318.8 388.6 L321.4 387.5 L324.1 386.4 L326.7 385.2 L329.4 384 L332 382.7 L334.7 381.4 L337.3 380.1 L340 378.8 L342.6 377.4 L345.3 376 L347.9 374.6 L350.6 373.1 L353.2 371.6 L355.9 370.1 L358.5 368.6 L361.2 367 L363.8 365.3 L366.5 363.7 L369.1 362 L371.8 360.3 L374.4 358.6 L377.1 356.8 L379.7 355 L382.4 353.2 L385 351.3 L387.7 349.5 L390.3 347.6 L393 345.6 L395.6 343.7 L398.3 341.7 L400.9 339.8 L403.6 337.8 L406.2 335.8 L408.9 333.7 L411.5 331.7 L414.2 329.7 L416.8 327.6 L419.5 325.5 L422.1 323.5 L424.8 321.4 L427.4 319.4 L430.1 317.3 L432.7 315.2 L435.4 313.2 L438 311.2 L440.7 309.2 L443.3 307.2 L446 305.2 L448.6 303.2 L451.3 301.3 L453.9 299.4 L456.6 297.6 L459.2 295.7 L461.9 294 L464.5 292.2 L467.2 290.5 L469.8 288.9 L472.5 287.3 L475.1 285.7 L477.8 284.2 L480.4 282.8 L483.1 281.5 L485.7 280.2 L488.4 278.9 L491 277.8 L493.7 276.7 L496.3 275.7 L499 274.8 L501.6 273.9 L504.3 273.1 L506.9 272.5 L509.6 271.9 L512.2 271.4 L514.9 270.9 L517.5 270.6 L520.2 270.4 L522.8 270.2 L525.5 270.1 L528.1 270.2 L530.8 270.3 L533.4 270.5 L536.1 270.8 L538.7 271.2 L541.4 271.7 L544 272.2 L546.7 272.9 L549.3 273.6 L552 274.5 L554.6 275.4 L557.3 276.4 L559.9 277.5 L562.6 278.6 L565.2 279.9 L567.9 281.2 L570.5 282.6 L573.2 284 L575.8 285.5 L578.5 287.1 L581.1 288.8 L583.8 290.5 L586.4 292.2 L589.1 294 L591.7 295.9 L594.4 297.8 L597 299.7 L599.7 301.7 L602.3 303.8 L605 305.8 L607.6 307.9 L610.3 310 L612.9 312.1 L615.6 314.3 L618.2 316.5 L620.9 318.6 L623.5 320.8 L626.2 323 L628.8 325.2 L631.4 327.4 L634.1 329.6 L636.7 331.8 L639.4 334 L642 336.2 L644.7 338.4 L647.3 340.5 L650 342.6 L652.6 344.7 L655.3 346.8 L657.9 348.9 L660.6 350.9 L663.2 352.9 L665.9 354.9 L668.5 356.8 L671.2 358.7 L673.8 360.6 L676.5 362.4 L679.1 364.2 L681.8 365.9 L684.4 367.7 L687.1 369.3 L689.7 370.9 L692.4 372.5 L695 374 L697.7 375.5 L700.3 377 L703 378.4 L705.6 379.7 L708.3 381 L710.9 382.2 L713.6 383.4 L716.2 384.6 L718.9 385.7 L721.5 386.7 L724.2 387.7 L726.8 388.7 L729.5 389.6 L732.1 390.5 L734.8 391.3 L737.4 392 L740.1 392.8 L742.7 393.4 L745.4 394.1 L748 394.6 L750.7 395.2 L753.3 395.7 L756 396.1 L758.6 396.5 L761.3 396.9 L763.9 397.2 L766.6 397.5 L769.2 397.7 L771.9 397.9 L774.5 398.1 L777.2 398.2 L779.8 398.3 L782.5 398.4 L785.1 398.4 L787.8 398.4 L790.4 398.4 L793.1 398.3 L795.7 398.2 L798.4 398.1 L801 397.9 L803.7 397.8 L806.3 397.6 L809 397.4 L811.6 397.1 L814.3 396.8 L816.9 396.6 L819.6 396.2 L822.2 395.9 L824.9 395.6 L827.5 395.2 L830.2 394.9 L832.8 394.5 L835.5 394.1 L838.1 393.7 L840.8 393.3 L843.4 392.8 L846.1 392.4 L848.7 392 L851.4 391.5 L854 391.1 L856.7 390.6 L859.3 390.1 L862 389.7 L864.6 389.2 L867.3 388.7 L869.9 388.2 L872.6 387.8 L875.2 387.3 L877.9 386.8 L880.5 386.3 L883.2 385.8 L885.8 385.3 L888.5 384.8 L891.1 384.3 L893.8 383.8 L896.4 383.3 L899.1 382.8 L901.7 382.3 L904.4 381.8 L907 381.3 L909.7 380.8 L912.3 380.2 L915 379.7 L917.6 379.2 L920.3 378.6 L922.9 378 L925.6 377.5 L928.2 376.9 L930.9 376.3 L933.5 375.6 L936.2 375 L938.8 374.3 L941.5 373.6 L944.1 372.9 L946.8 372.2 L949.4 371.5 L952.1 370.7 L954.7 369.9 L957.4 369 L960 368.2 L962.7 367.3 L965.3 366.3 L968 365.4 L970.6 364.4 L973.3 363.3 L975.9 362.2 L978.6 361.1 L981.2 359.9 L983.9 358.7 L986.5 357.5 L989.2 356.2 L991.8 354.9 L994.5 353.5 L997.1 352 L999.8 350.6 L1002.4 349 L1005.1 347.5 L1007.7 345.8 L1010.4 344.2 L1013 342.5 L1015.7 340.7 L1018.3 338.9 L1021 337.1 L1023.6 335.2 L1026.3 333.2 L1028.9 331.3 L1031.6 329.2 L1034.2 327.2 L1036.9 325.1 L1039.5 323 L1042.2 320.8 L1044.8 318.6 L1047.5 316.4 L1050.1 314.2 L1052.8 311.9 L1055.4 309.6 L1058.1 307.3 L1060.7 304.9 L1063.4 302.6 L1066 300.3 L1068.7 297.9 L1071.3 295.5 L1074 293.2 L1076.6 290.8 L1079.2 288.5 L1081.9 286.1 L1084.5 283.8 L1087.2 281.5 L1089.8 279.2 L1092.5 277 L1095.1 274.8 L1097.8 272.6 L1100.4 270.4 L1103.1 268.3 L1105.7 266.3 L1108.4 264.3 L1111 262.3 L1113.7 260.4 L1116.3 258.6 L1119 256.8 L1121.6 255.1 L1124.3 253.5 L1126.9 252 L1129.6 250.5 L1132.2 249.2 L1134.9 247.9 L1137.5 246.7 L1140.2 245.6 L1142.8 244.6 L1145.5 243.7 L1148.1 242.9 L1150.8 242.2 L1153.4 241.6 L1156.1 241.1 L1158.7 240.7 L1161.4 240.4 L1164 240.3 L1166.7 240.2 L1169.3 240.3 L1172 240.5 L1174.6 240.8 L1177.3 241.2 L1179.9 241.8 L1182.6 242.4 L1185.2 243.2 L1187.9 244.1 L1190.5 245.1 L1193.2 246.2 L1195.8 247.4 L1198.5 248.7 L1201.1 250.1 L1203.8 251.6 L1206.4 253.3 L1209.1 255 L1211.7 256.8 L1214.4 258.7 L1217 260.7 L1219.7 262.8 L1222.3 265 L1225 267.2 L1227.6 269.5 L1230.3 271.9 L1232.9 274.4 L1235.6 276.9 L1238.2 279.5 L1240.9 282.1 L1243.5 284.8 L1246.2 287.5 L1248.8 290.3 L1251.5 293.1 L1254.1 295.9 L1256.8 298.7 L1259.4 301.6 L1262.1 304.5 L1264.7 307.4 L1267.4 310.3 L1270 313.2 L1272.7 316.1 L1275.3 319 L1278 321.9 L1280.6 324.8 L1283.3 327.7 L1285.9 330.5 L1288.6 333.3 L1291.2 336.1 L1293.9 338.9 L1296.5 341.6 L1299.2 344.3 L1301.8 347 L1304.5 349.6 L1307.1 352.2 L1309.8 354.7 L1312.4 357.1 L1315.1 359.6 L1317.7 361.9 L1320.4 364.3 L1323 366.5 L1325.7 368.7 L1328.3 370.9 L1331 373 L1333.6 375 L1336.3 377 L1338.9 378.9 L1341.6 380.8 L1344.2 382.6 L1346.9 384.3 L1349.5 386 L1352.2 387.6 L1354.8 389.2 L1357.5 390.7 L1360.1 392.1 L1362.8 393.5 L1365.4 394.8 L1368.1 396.1 L1370.7 397.3 L1373.4 398.5 L1376 399.6 L1378.7 400.7 L1381.3 401.7 L1384 402.7 L1386.6 403.6 L1389.3 404.5 L1391.9 405.3 L1394.6 406.1 L1397.2 406.9 L1399.9 407.6 L1402.5 408.3 L1405.2 408.9 L1407.8 409.5 L1410.5 410.1 L1413.1 410.7 L1415.8 411.2 L1418.4 411.6 L1421.1 412.1 L1423.7 412.5 L1426.4 412.9 L1429 413.3 L1431.7 413.6 L1434.3 414 L1437 414.3 L1439.6 414.6 L1442.3 414.8 L1444.9 415.1 L1447.6 415.3 L1450.2 415.5 L1452.9 415.8 L1455.5 415.9 L1458.2 416.1 L1460.8 416.3 L1463.5 416.4 L1466.1 416.6 L1468.8 416.7 L1471.4 416.8 L1474.1 417 L1476.7 417.1 L1479.4 417.2 L1482 417.3 L1484.7 417.3 L1487.3 417.4 L1490 417.5 L1492.6 417.6 L1495.3 417.6 L1497.9 417.7 L1500.6 417.7 L1503.2 417.8 L1505.9 417.8 L1508.5 417.9 L1511.2 417.9 L1513.8 418 L1516.5 418 L1519.1 418 L1521.8 418.1 L1524.4 418.1 L1527.1 418.1 L1529.7 418.1" fill="none" stroke="#000" stroke-width="2.85" stroke-linejoin="round"/>
<path d="M175.7 418.5 L178.3 418.5 L181 418.5 L183.6 418.5 L186.3 418.5 L188.9 418.5 L191.6 418.5 L194.2 418.5 L196.9 418.5 L199.5 418.5 L202.2 418.5 L204.8 418.5 L207.5 418.5 L210.1 418.5 L212.8 418.5 L215.4 418.5 L218.1 418.5 L220.7 418.5 L223.4 418.5 L226 418.5 L228.7 418.5 L231.3 418.5 L234 418.5 L236.6 418.5 L239.3 418.5 L241.9 418.5 L244.6 418.5 L247.2 418.5 L249.9 418.5 L252.5 418.5 L255.2 418.5 L257.8 418.5 L260.5 418.5 L263.1 418.5 L265.8 418.5 L268.4 418.5 L271.1 418.5 L273.7 418.5 L276.4 418.5 L279 418.5 L281.7 418.5 L284.3 418.5 L287 418.5 L289.6 418.5 L292.3 418.5 L294.9 418.5 L297.6 418.5 L300.2 418.5 L302.9 418.5 L305.5 418.5 L308.2 418.5 L310.8 418.5 L313.5 418.5 L316.1 418.5 L318.8 418.5 L321.4 418.5 L324.1 418.5 L326.7 418.5 L329.4 418.5 L332 418.5 L334.7 418.5 L337.3 418.5 L340 418.5 L342.6 418.5 L345.3 418.5 L347.9 418.5 L350.6 418.5 L353.2 418.5 L355.9 418.5 L358.5 418.5 L361.2 418.5 L363.8 418.5 L366.5 418.5 L369.1 418.5 L371.8 418.5 L374.4 418.5 L377.1 418.5 L379.7 418.5 L382.4 418.5 L385 418.5 L387.7 418.5 L390.3 418.5 L393 418.5 L395.6 418.5 L398.3 418.5 L400.9 418.5 L403.6 418.5 L406.2 418.5 L408.9 418.5 L411.5 418.5 L414.2 418.5 L416.8 418.5 L419.5 418.5 L422.1 418.5 L424.8 418.5 L427.4 418.5 L430.1 418.5 L432.7 418.5 L435.4 418.5 L438 418.5 L440.7 418.5 L443.3 418.5 L446 418.5 L448.6 418.5 L451.3 418.5 L453.9 418.5 L456.6 418.5 L459.2 418.5 L461.9 418.5 L464.5 418.5 L467.2 418.5 L469.8 418.5 L472.5 418.5 L475.1 418.5 L477.8 418.5 L480.4 418.5 L483.1 418.5 L485.7 418.5 L488.4 418.5 L491 418.5 L493.7 418.5 L496.3 418.5 L499 418.5 L501.6 418.5 L504.3 418.5 L506.9 418.5 L509.6 418.5 L512.2 418.5 L514.9 418.5 L517.5 418.5 L520.2 418.5 L522.8 418.5 L525.5 418.5 L528.1 418.5 L530.8 418.5 L533.4 418.5 L536.1 418.5 L538.7 418.5 L541.4 418.5 L544 418.5 L546.7 418.5 L549.3 418.5 L552 418.5 L554.6 418.5 L557.3 418.5 L559.9 418.5 L562.6 418.5 L565.2 418.5 L567.9 418.5 L570.5 418.5 L573.2 418.5 L575.8 418.5 L578.5 418.5 L581.1 418.5 L583.8 418.5 L586.4 418.5 L589.1 418.5 L591.7 418.5 L594.4 418.5 L597 418.5 L599.7 418.5 L602.3 418.5 L605 418.5 L607.6 418.5 L610.3 418.5 L612.9 418.5 L615.6 418.5 L618.2 418.5 L620.9 418.5 L623.5 418.5 L626.2 418.5 L628.8 418.5 L631.4 418.5 L634.1 418.5 L636.7 418.5 L639.4 418.5 L642 418.5 L644.7 418.5 L647.3 418.5 L650 418.5 L652.6 418.5 L655.3 418.5 L657.9 418.5 L660.6 418.5 L663.2 418.5 L665.9 418.5 L668.5 418.5 L671.2 418.5 L673.8 418.5 L676.5 418.5 L679.1 418.5 L681.8 418.5 L684.4 418.5 L687.1 418.5 L689.7 418.5 L692.4 418.5 L695 418.5 L697.7 418.4 L700.3 418.4 L703 418.4 L705.6 418.4 L708.3 418.4 L710.9 418.4 L713.6 418.4 L716.2 418.4 L718.9 418.4 L721.5 418.3 L724.2 418.3 L726.8 418.3 L729.5 418.3 L732.1 418.3 L734.8 418.2 L737.4 418.2 L740.1 418.2 L742.7 418.2 L745.4 418.1 L748 418.1 L750.7 418.1 L753.3 418 L756 418 L758.6 418 L761.3 417.9 L763.9 417.9 L766.6 417.8 L769.2 417.8 L771.9 417.7 L774.5 417.7 L777.2 417.6 L779.8 417.6 L782.5 417.5 L785.1 417.4 L787.8 417.4 L790.4 417.3 L793.1 417.2 L795.7 417.1 L798.4 417.1 L801 417 L803.7 416.9 L806.3 416.8 L809 416.7 L811.6 416.5 L814.3 416.4 L816.9 416.3 L819.6 416.2 L822.2 416 L824.9 415.9 L827.5 415.8 L830.2 415.6 L832.8 415.4 L835.5 415.3 L838.1 415.1 L840.8 414.9 L843.4 414.7 L846.1 414.5 L848.7 414.3 L851.4 414 L854 413.8 L856.7 413.6 L859.3 413.3 L862 413 L864.6 412.7 L867.3 412.4 L869.9 412.1 L872.6 411.8 L875.2 411.5 L877.9 411.1 L880.5 410.7 L883.2 410.4 L885.8 410 L888.5 409.5 L891.1 409.1 L893.8 408.6 L896.4 408.1 L899.1 407.6 L901.7 407.1 L904.4 406.6 L907 406 L909.7 405.4 L912.3 404.8 L915 404.1 L917.6 403.4 L920.3 402.7 L922.9 402 L925.6 401.2 L928.2 400.4 L930.9 399.6 L933.5 398.8 L936.2 397.9 L938.8 396.9 L941.5 396 L944.1 395 L946.8 393.9 L949.4 392.9 L952.1 391.7 L954.7 390.6 L957.4 389.4 L960 388.1 L962.7 386.9 L965.3 385.5 L968 384.2 L970.6 382.8 L973.3 381.3 L975.9 379.8 L978.6 378.3 L981.2 376.7 L983.9 375 L986.5 373.4 L989.2 371.6 L991.8 369.9 L994.5 368 L997.1 366.2 L999.8 364.3 L1002.4 362.3 L1005.1 360.3 L1007.7 358.3 L1010.4 356.2 L1013 354.1 L1015.7 351.9 L1018.3 349.7 L1021 347.4 L1023.6 345.1 L1026.3 342.8 L1028.9 340.5 L1031.6 338.1 L1034.2 335.7 L1036.9 333.2 L1039.5 330.7 L1042.2 328.2 L1044.8 325.7 L1047.5 323.2 L1050.1 320.6 L1052.8 318 L1055.4 315.5 L1058.1 312.9 L1060.7 310.3 L1063.4 307.6 L1066 305 L1068.7 302.4 L1071.3 299.8 L1074 297.2 L1076.6 294.7 L1079.2 292.1 L1081.9 289.6 L1084.5 287.1 L1087.2 284.6 L1089.8 282.1 L1092.5 279.7 L1095.1 277.3 L1097.8 275 L1100.4 272.7 L1103.1 270.4 L1105.7 268.2 L1108.4 266.1 L1111 264 L1113.7 262 L1116.3 260.1 L1119 258.2 L1121.6 256.5 L1124.3 254.7 L1126.9 253.1 L1129.6 251.6 L1132.2 250.1 L1134.9 248.8 L1137.5 247.5 L1140.2 246.4 L1142.8 245.3 L1145.5 244.3 L1148.1 243.5 L1150.8 242.7 L1153.4 242.1 L1156.1 241.6 L1158.7 241.2 L1161.4 240.9 L1164 240.7 L1166.7 240.6 L1169.3 240.6 L1172 240.8 L1174.6 241.1 L1177.3 241.5 L1179.9 242 L1182.6 242.6 L1185.2 243.4 L1187.9 244.2 L1190.5 245.2 L1193.2 246.3 L1195.8 247.5 L1198.5 248.8 L1201.1 250.2 L1203.8 251.7 L1206.4 253.4 L1209.1 255.1 L1211.7 256.9 L1214.4 258.8 L1217 260.8 L1219.7 262.9 L1222.3 265 L1225 267.3 L1227.6 269.6 L1230.3 272 L1232.9 274.4 L1235.6 276.9 L1238.2 279.5 L1240.9 282.1 L1243.5 284.8 L1246.2 287.5 L1248.8 290.3 L1251.5 293.1 L1254.1 295.9 L1256.8 298.7 L1259.4 301.6 L1262.1 304.5 L1264.7 307.4 L1267.4 310.3 L1270 313.2 L1272.7 316.1 L1275.3 319 L1278 321.9 L1280.6 324.8 L1283.3 327.7 L1285.9 330.5 L1288.6 333.4 L1291.2 336.2 L1293.9 338.9 L1296.5 341.6 L1299.2 344.3 L1301.8 347 L1304.5 349.6 L1307.1 352.2 L1309.8 354.7 L1312.4 357.2 L1315.1 359.6 L1317.7 362 L1320.4 364.3 L1323 366.6 L1325.7 368.8 L1328.3 370.9 L1331 373 L1333.6 375.1 L1336.3 377 L1338.9 379 L1341.6 380.8 L1344.2 382.6 L1346.9 384.4 L1349.5 386 L1352.2 387.7 L1354.8 389.2 L1357.5 390.7 L1360.1 392.2 L1362.8 393.6 L1365.4 394.9 L1368.1 396.2 L1370.7 397.4 L1373.4 398.6 L1376 399.7 L1378.7 400.8 L1381.3 401.8 L1384 402.8 L1386.6 403.7 L1389.3 404.6 L1391.9 405.4 L1394.6 406.2 L1397.2 407 L1399.9 407.7 L1402.5 408.4 L1405.2 409 L1407.8 409.6 L1410.5 410.2 L1413.1 410.8 L1415.8 411.3 L1418.4 411.8 L1421.1 412.2 L1423.7 412.6 L1426.4 413 L1429 413.4 L1431.7 413.8 L1434.3 414.1 L1437 414.4 L1439.6 414.7 L1442.3 415 L1444.9 415.2 L1447.6 415.4 L1450.2 415.7 L1452.9 415.9 L1455.5 416.1 L1458.2 416.2 L1460.8 416.4 L1463.5 416.6 L1466.1 416.7 L1468.8 416.8 L1471.4 417 L1474.1 417.1 L1476.7 417.2 L1479.4 417.3 L1482 417.4 L1484.7 417.5 L1487.3 417.5 L1490 417.6 L1492.6 417.7 L1495.3 417.7 L1497.9 417.8 L1500.6 417.8 L1503.2 417.9 L1505.9 417.9 L1508.5 418 L1511.2 418 L1513.8 418.1 L1516.5 418.1 L1519.1 418.1 L1521.8 418.1 L1524.4 418.2 L1527.1 418.2 L1529.7 418.2 L1529.7 418.6 L1527.1 418.6 L1524.4 418.6 L1521.8 418.6 L1519.1 418.6 L1516.5 418.6 L1513.8 418.6 L1511.2 418.6 L1508.5 418.6 L1505.9 418.6 L1503.2 418.6 L1500.6 418.6 L1497.9 418.6 L1495.3 418.6 L1492.6 418.6 L1490 418.6 L1487.3 418.6 L1484.7 418.6 L1482 418.6 L1479.4 418.6 L1476.7 418.6 L1474.1 418.6 L1471.4 418.6 L1468.8 418.6 L1466.1 418.6 L1463.5 418.6 L1460.8 418.6 L1458.2 418.6 L1455.5 418.6 L1452.9 418.6 L1450.2 418.6 L1447.6 418.6 L1444.9 418.6 L1442.3 418.6 L1439.6 418.6 L1437 418.6 L1434.3 418.6 L1431.7 418.6 L1429 418.6 L1426.4 418.6 L1423.7 418.6 L1421.1 418.6 L1418.4 418.6 L1415.8 418.6 L1413.1 418.6 L1410.5 418.6 L1407.8 418.6 L1405.2 418.6 L1402.5 418.6 L1399.9 418.6 L1397.2 418.6 L1394.6 418.6 L1391.9 418.6 L1389.3 418.6 L1386.6 418.6 L1384 418.6 L1381.3 418.6 L1378.7 418.6 L1376 418.6 L1373.4 418.6 L1370.7 418.6 L1368.1 418.6 L1365.4 418.6 L1362.8 418.6 L1360.1 418.6 L1357.5 418.6 L1354.8 418.6 L1352.2 418.6 L1349.5 418.6 L1346.9 418.6 L1344.2 418.6 L1341.6 418.6 L1338.9 418.6 L1336.3 418.6 L1333.6 418.6 L1331 418.6 L1328.3 418.6 L1325.7 418.6 L1323 418.6 L1320.4 418.6 L1317.7 418.6 L1315.1 418.6 L1312.4 418.6 L1309.8 418.6 L1307.1 418.6 L1304.5 418.6 L1301.8 418.6 L1299.2 418.6 L1296.5 418.6 L1293.9 418.6 L1291.2 418.6 L1288.6 418.6 L1285.9 418.6 L1283.3 418.6 L1280.6 418.6 L1278 418.6 L1275.3 418.6 L1272.7 418.6 L1270 418.6 L1267.4 418.6 L1264.7 418.6 L1262.1 418.6 L1259.4 418.6 L1256.8 418.6 L1254.1 418.6 L1251.5 418.6 L1248.8 418.6 L1246.2 418.6 L1243.5 418.6 L1240.9 418.6 L1238.2 418.6 L1235.6 418.6 L1232.9 418.6 L1230.3 418.6 L1227.6 418.6 L1225 418.6 L1222.3 418.6 L1219.7 418.6 L1217 418.6 L1214.4 418.6 L1211.7 418.6 L1209.1 418.6 L1206.4 418.6 L1203.8 418.6 L1201.1 418.6 L1198.5 418.6 L1195.8 418.6 L1193.2 418.6 L1190.5 418.6 L1187.9 418.6 L1185.2 418.6 L1182.6 418.6 L1179.9 418.6 L1177.3 418.6 L1174.6 418.6 L1172 418.6 L1169.3 418.6 L1166.7 418.6 L1164 418.6 L1161.4 418.6 L1158.7 418.6 L1156.1 418.6 L1153.4 418.6 L1150.8 418.6 L1148.1 418.6 L1145.5 418.6 L1142.8 418.6 L1140.2 418.6 L1137.5 418.6 L1134.9 418.6 L1132.2 418.6 L1129.6 418.6 L1126.9 418.6 L1124.3 418.6 L1121.6 418.6 L1119 418.6 L1116.3 418.6 L1113.7 418.6 L1111 418.6 L1108.4 418.6 L1105.7 418.6 L1103.1 418.6 L1100.4 418.6 L1097.8 418.6 L1095.1 418.6 L1092.5 418.6 L1089.8 418.6 L1087.2 418.6 L1084.5 418.6 L1081.9 418.6 L1079.2 418.6 L1076.6 418.6 L1074 418.6 L1071.3 418.6 L1068.7 418.6 L1066 418.6 L1063.4 418.6 L1060.7 418.6 L1058.1 418.6 L1055.4 418.6 L1052.8 418.6 L1050.1 418.6 L1047.5 418.6 L1044.8 418.6 L1042.2 418.6 L1039.5 418.6 L1036.9 418.6 L1034.2 418.6 L1031.6 418.6 L1028.9 418.6 L1026.3 418.6 L1023.6 418.6 L1021 418.6 L1018.3 418.6 L1015.7 418.6 L1013 418.6 L1010.4 418.6 L1007.7 418.6 L1005.1 418.6 L1002.4 418.6 L999.8 418.6 L997.1 418.6 L994.5 418.6 L991.8 418.6 L989.2 418.6 L986.5 418.6 L983.9 418.6 L981.2 418.6 L978.6 418.6 L975.9 418.6 L973.3 418.6 L970.6 418.6 L968 418.6 L965.3 418.6 L962.7 418.6 L960 418.6 L957.4 418.6 L954.7 418.6 L952.1 418.6 L949.4 418.6 L946.8 418.6 L944.1 418.6 L941.5 418.6 L938.8 418.6 L936.2 418.6 L933.5 418.6 L930.9 418.6 L928.2 418.6 L925.6 418.6 L922.9 418.6 L920.3 418.6 L917.6 418.6 L915 418.6 L912.3 418.6 L909.7 418.6 L907 418.6 L904.4 418.6 L901.7 418.6 L899.1 418.6 L896.4 418.6 L893.8 418.6 L891.1 418.6 L888.5 418.6 L885.8 418.6 L883.2 418.6 L880.5 418.6 L877.9 418.6 L875.2 418.6 L872.6 418.6 L869.9 418.6 L867.3 418.6 L864.6 418.6 L862 418.6 L859.3 418.6 L856.7 418.6 L854 418.6 L851.4 418.6 L848.7 418.6 L846.1 418.6 L843.4 418.6 L840.8 418.6 L838.1 418.6 L835.5 418.6 L832.8 418.6 L830.2 418.6 L827.5 418.6 L824.9 418.6 L822.2 418.6 L819.6 418.6 L816.9 418.6 L814.3 418.6 L811.6 418.6 L809 418.6 L806.3 418.6 L803.7 418.6 L801 418.6 L798.4 418.6 L795.7 418.6 L793.1 418.6 L790.4 418.6 L787.8 418.6 L785.1 418.6 L782.5 418.6 L779.8 418.6 L777.2 418.6 L774.5 418.6 L771.9 418.6 L769.2 418.6 L766.6 418.6 L763.9 418.6 L761.3 418.6 L758.6 418.6 L756 418.6 L753.3 418.6 L750.7 418.6 L748 418.6 L745.4 418.6 L742.7 418.6 L740.1 418.6 L737.4 418.6 L734.8 418.6 L732.1 418.6 L729.5 418.6 L726.8 418.6 L724.2 418.6 L721.5 418.6 L718.9 418.6 L716.2 418.6 L713.6 418.6 L710.9 418.6 L708.3 418.6 L705.6 418.6 L703 418.6 L700.3 418.6 L697.7 418.6 L695 418.6 L692.4 418.6 L689.7 418.6 L687.1 418.6 L684.4 418.6 L681.8 418.6 L679.1 418.6 L676.5 418.6 L673.8 418.6 L671.2 418.6 L668.5 418.6 L665.9 418.6 L663.2 418.6 L660.6 418.6 L657.9 418.6 L655.3 418.6 L652.6 418.6 L650 418.6 L647.3 418.6 L644.7 418.6 L642 418.6 L639.4 418.6 L636.7 418.6 L634.1 418.6 L631.4 418.6 L628.8 418.6 L626.2 418.6 L623.5 418.6 L620.9 418.6 L618.2 418.6 L615.6 418.6 L612.9 418.6 L610.3 418.6 L607.6 418.6 L605 418.6 L602.3 418.6 L599.7 418.6 L597 418.6 L594.4 418.6 L591.7 418.6 L589.1 418.6 L586.4 418.6 L583.8 418.6 L581.1 418.6 L578.5 418.6 L575.8 418.6 L573.2 418.6 L570.5 418.6 L567.9 418.6 L565.2 418.6 L562.6 418.6 L559.9 418.6 L557.3 418.6 L554.6 418.6 L552 418.6 L549.3 418.6 L546.7 418.6 L544 418.6 L541.4 418.6 L538.7 418.6 L536.1 418.6 L533.4 418.6 L530.8 418.6 L528.1 418.6 L525.5 418.6 L522.8 418.6 L520.2 418.6 L517.5 418.6 L514.9 418.6 L512.2 418.6 L509.6 418.6 L506.9 418.6 L504.3 418.6 L501.6 418.6 L499 418.6 L496.3 418.6 L493.7 418.6 L491 418.6 L488.4 418.6 L485.7 418.6 L483.1 418.6 L480.4 418.6 L477.8 418.6 L475.1 418.6 L472.5 418.6 L469.8 418.6 L467.2 418.6 L464.5 418.6 L461.9 418.6 L459.2 418.6 L456.6 418.6 L453.9 418.6 L451.3 418.6 L448.6 418.6 L446 418.6 L443.3 418.6 L440.7 418.6 L438 418.6 L435.4 418.6 L432.7 418.6 L430.1 418.6 L427.4 418.6 L424.8 418.6 L422.1 418.6 L419.5 418.6 L416.8 418.6 L414.2 418.6 L411.5 418.6 L408.9 418.6 L406.2 418.6 L403.6 418.6 L400.9 418.6 L398.3 418.6 L395.6 418.6 L393 418.6 L390.3 418.6 L387.7 418.6 L385 418.6 L382.4 418.6 L379.7 418.6 L377.1 418.6 L374.4 418.6 L371.8 418.6 L369.1 418.6 L366.5 418.6 L363.8 418.6 L361.2 418.6 L358.5 418.6 L355.9 418.6 L353.2 418.6 L350.6 418.6 L347.9 418.6 L345.3 418.6 L342.6 418.6 L340 418.6 L337.3 418.6 L334.7 418.6 L332 418.6 L329.4 418.6 L326.7 418.6 L324.1 418.6 L321.4 418.6 L318.8 418.6 L316.1 418.6 L313.5 418.6 L310.8 418.6 L308.2 418.6 L305.5 418.6 L302.9 418.6 L300.2 418.6 L297.6 418.6 L294.9 418.6 L292.3 418.6 L289.6 418.6 L287 418.6 L284.3 418.6 L281.7 418.6 L279 418.6 L276.4 418.6 L273.7 418.6 L271.1 418.6 L268.4 418.6 L265.8 418.6 L263.1 418.6 L260.5 418.6 L257.8 418.6 L255.2 418.6 L252.5 418.6 L249.9 418.6 L247.2 418.6 L244.6 418.6 L241.9 418.6 L239.3 418.6 L236.6 418.6 L234 418.6 L231.3 418.6 L228.7 418.6 L226 418.6 L223.4 418.6 L220.7 418.6 L218.1 418.6 L215.4 418.6 L212.8 418.6 L210.1 418.6 L207.5 418.6 L204.8 418.6 L202.2 418.6 L199.5 418.6 L196.9 418.6 L194.2 418.6 L191.6 418.6 L188.9 418.6 L186.3 418.6 L183.6 418.6 L181 418.6 L178.3 418.6 L175.7 418.6Z" fill="#D74BE6" fill-opacity="0.2" stroke="none"/>
<path d="M175.7 418.5 L178.3 418.5 L181 418.5 L183.6 418.5 L186.3 418.5 L188.9 418.5 L191.6 418.5 L194.2 418.5 L196.9 418.5 L199.5 418.5 L202.2 418.5 L204.8 418.5 L207.5 418.5 L210.1 418.5 L212.8 418.5 L215.4 418.5 L218.1 418.5 L220.7 418.5 L223.4 418.5 L226 418.5 L228.7 418.5 L231.3 418.5 L234 418.5 L236.6 418.5 L239.3 418.5 L241.9 418.5 L244.6 418.5 L247.2 418.5 L249.9 418.5 L252.5 418.5 L255.2 418.5 L257.8 418.5 L260.5 418.5 L263.1 418.5 L265.8 418.5 L268.4 418.5 L271.1 418.5 L273.7 418.5 L276.4 418.5 L279 418.5 L281.7 418.5 L284.3 418.5 L287 418.5 L289.6 418.5 L292.3 418.5 L294.9 418.5 L297.6 418.5 L300.2 418.5 L302.9 418.5 L305.5 418.5 L308.2 418.5 L310.8 418.5 L313.5 418.5 L316.1 418.5 L318.8 418.5 L321.4 418.5 L324.1 418.5 L326.7 418.5 L329.4 418.5 L332 418.5 L334.7 418.5 L337.3 418.5 L340 418.5 L342.6 418.5 L345.3 418.5 L347.9 418.5 L350.6 418.5 L353.2 418.5 L355.9 418.5 L358.5 418.5 L361.2 418.5 L363.8 418.5 L366.5 418.5 L369.1 418.5 L371.8 418.5 L374.4 418.5 L377.1 418.5 L379.7 418.5 L382.4 418.5 L385 418.5 L387.7 418.5 L390.3 418.5 L393 418.5 L395.6 418.5 L398.3 418.5 L400.9 418.5 L403.6 418.5 L406.2 418.5 L408.9 418.5 L411.5 418.5 L414.2 418.5 L416.8 418.5 L419.5 418.5 L422.1 418.5 L424.8 418.5 L427.4 418.5 L430.1 418.5 L432.7 418.5 L435.4 418.5 L438 418.5 L440.7 418.5 L443.3 418.5 L446 418.5 L448.6 418.5 L451.3 418.5 L453.9 418.5 L456.6 418.5 L459.2 418.5 L461.9 418.5 L464.5 418.5 L467.2 418.5 L469.8 418.5 L472.5 418.5 L475.1 418.5 L477.8 418.5 L480.4 418.5 L483.1 418.5 L485.7 418.5 L488.4 418.5 L491 418.5 L493.7 418.5 L496.3 418.5 L499 418.5 L501.6 418.5 L504.3 418.5 L506.9 418.5 L509.6 418.5 L512.2 418.5 L514.9 418.5 L517.5 418.5 L520.2 418.5 L522.8 418.5 L525.5 418.5 L528.1 418.5 L530.8 418.5 L533.4 418.5 L536.1 418.5 L538.7 418.5 L541.4 418.5 L544 418.5 L546.7 418.5 L549.3 418.5 L552 418.5 L554.6 418.5 L557.3 418.5 L559.9 418.5 L562.6 418.5 L565.2 418.5 L567.9 418.5 L570.5 418.5 L573.2 418.5 L575.8 418.5 L578.5 418.5 L581.1 418.5 L583.8 418.5 L586.4 418.5 L589.1 418.5 L591.7 418.5 L594.4 418.5 L597 418.5 L599.7 418.5 L602.3 418.5 L605 418.5 L607.6 418.5 L610.3 418.5 L612.9 418.5 L615.6 418.5 L618.2 418.5 L620.9 418.5 L623.5 418.5 L626.2 418.5 L628.8 418.5 L631.4 418.5 L634.1 418.5 L636.7 418.5 L639.4 418.5 L642 418.5 L644.7 418.5 L647.3 418.5 L650 418.5 L652.6 418.5 L655.3 418.5 L657.9 418.5 L660.6 418.5 L663.2 418.5 L665.9 418.5 L668.5 418.5 L671.2 418.5 L673.8 418.5 L676.5 418.5 L679.1 418.5 L681.8 418.5 L684.4 418.5 L687.1 418.5 L689.7 418.5 L692.4 418.5 L695 418.5 L697.7 418.4 L700.3 418.4 L703 418.4 L705.6 418.4 L708.3 418.4 L710.9 418.4 L713.6 418.4 L716.2 418.4 L718.9 418.4 L721.5 418.3 L724.2 418.3 L726.8 418.3 L729.5 418.3 L732.1 418.3 L734.8 418.2 L737.4 418.2 L740.1 418.2 L742.7 418.2 L745.4 418.1 L748 418.1 L750.7 418.1 L753.3 418 L756 418 L758.6 418 L761.3 417.9 L763.9 417.9 L766.6 417.8 L769.2 417.8 L771.9 417.7 L774.5 417.7 L777.2 417.6 L779.8 417.6 L782.5 417.5 L785.1 417.4 L787.8 417.4 L790.4 417.3 L793.1 417.2 L795.7 417.1 L798.4 417.1 L801 417 L803.7 416.9 L806.3 416.8 L809 416.7 L811.6 416.5 L814.3 416.4 L816.9 416.3 L819.6 416.2 L822.2 416 L824.9 415.9 L827.5 415.8 L830.2 415.6 L832.8 415.4 L835.5 415.3 L838.1 415.1 L840.8 414.9 L843.4 414.7 L846.1 414.5 L848.7 414.3 L851.4 414 L854 413.8 L856.7 413.6 L859.3 413.3 L862 413 L864.6 412.7 L867.3 412.4 L869.9 412.1 L872.6 411.8 L875.2 411.5 L877.9 411.1 L880.5 410.7 L883.2 410.4 L885.8 410 L888.5 409.5 L891.1 409.1 L893.8 408.6 L896.4 408.1 L899.1 407.6 L901.7 407.1 L904.4 406.6 L907 406 L909.7 405.4 L912.3 404.8 L915 404.1 L917.6 403.4 L920.3 402.7 L922.9 402 L925.6 401.2 L928.2 400.4 L930.9 399.6 L933.5 398.8 L936.2 397.9 L938.8 396.9 L941.5 396 L944.1 395 L946.8 393.9 L949.4 392.9 L952.1 391.7 L954.7 390.6 L957.4 389.4 L960 388.1 L962.7 386.9 L965.3 385.5 L968 384.2 L970.6 382.8 L973.3 381.3 L975.9 379.8 L978.6 378.3 L981.2 376.7 L983.9 375 L986.5 373.4 L989.2 371.6 L991.8 369.9 L994.5 368 L997.1 366.2 L999.8 364.3 L1002.4 362.3 L1005.1 360.3 L1007.7 358.3 L1010.4 356.2 L1013 354.1 L1015.7 351.9 L1018.3 349.7 L1021 347.4 L1023.6 345.1 L1026.3 342.8 L1028.9 340.5 L1031.6 338.1 L1034.2 335.7 L1036.9 333.2 L1039.5 330.7 L1042.2 328.2 L1044.8 325.7 L1047.5 323.2 L1050.1 320.6 L1052.8 318 L1055.4 315.5 L1058.1 312.9 L1060.7 310.3 L1063.4 307.6 L1066 305 L1068.7 302.4 L1071.3 299.8 L1074 297.2 L1076.6 294.7 L1079.2 292.1 L1081.9 289.6 L1084.5 287.1 L1087.2 284.6 L1089.8 282.1 L1092.5 279.7 L1095.1 277.3 L1097.8 275 L1100.4 272.7 L1103.1 270.4 L1105.7 268.2 L1108.4 266.1 L1111 264 L1113.7 262 L1116.3 260.1 L1119 258.2 L1121.6 256.5 L1124.3 254.7 L1126.9 253.1 L1129.6 251.6 L1132.2 250.1 L1134.9 248.8 L1137.5 247.5 L1140.2 246.4 L1142.8 245.3 L1145.5 244.3 L1148.1 243.5 L1150.8 242.7 L1153.4 242.1 L1156.1 241.6 L1158.7 241.2 L1161.4 240.9 L1164 240.7 L1166.7 240.6 L1169.3 240.6 L1172 240.8 L1174.6 241.1 L1177.3 241.5 L1179.9 242 L1182.6 242.6 L1185.2 243.4 L1187.9 244.2 L1190.5 245.2 L1193.2 246.3 L1195.8 247.5 L1198.5 248.8 L1201.1 250.2 L1203.8 251.7 L1206.4 253.4 L1209.1 255.1 L1211.7 256.9 L1214.4 258.8 L1217 260.8 L1219.7 262.9 L1222.3 265 L1225 267.3 L1227.6 269.6 L1230.3 272 L1232.9 274.4 L1235.6 276.9 L1238.2 279.5 L1240.9 282.1 L1243.5 284.8 L1246.2 287.5 L1248.8 290.3 L1251.5 293.1 L1254.1 295.9 L1256.8 298.7 L1259.4 301.6 L1262.1 304.5 L1264.7 307.4 L1267.4 310.3 L1270 313.2 L1272.7 316.1 L1275.3 319 L1278 321.9 L1280.6 324.8 L1283.3 327.7 L1285.9 330.5 L1288.6 333.4 L1291.2 336.2 L1293.9 338.9 L1296.5 341.6 L1299.2 344.3 L1301.8 347 L1304.5 349.6 L1307.1 352.2 L1309.8 354.7 L1312.4 357.2 L1315.1 359.6 L1317.7 362 L1320.4 364.3 L1323 366.6 L1325.7 368.8 L1328.3 370.9 L1331 373 L1333.6 375.1 L1336.3 377 L1338.9 379 L1341.6 380.8 L1344.2 382.6 L1346.9 384.4 L1349.5 386 L1352.2 387.7 L1354.8 389.2 L1357.5 390.7 L1360.1 392.2 L1362.8 393.6 L1365.4 394.9 L1368.1 396.2 L1370.7 397.4 L1373.4 398.6 L1376 399.7 L1378.7 400.8 L1381.3 401.8 L1384 402.8 L1386.6 403.7 L1389.3 404.6 L1391.9 405.4 L1394.6 406.2 L1397.2 407 L1399.9 407.7 L1402.5 408.4 L1405.2 409 L1407.8 409.6 L1410.5 410.2 L1413.1 410.8 L1415.8 411.3 L1418.4 411.8 L1421.1 412.2 L1423.7 412.6 L1426.4 413 L1429 413.4 L1431.7 413.8 L1434.3 414.1 L1437 414.4 L1439.6 414.7 L1442.3 415 L1444.9 415.2 L1447.6 415.4 L1450.2 415.7 L1452.9 415.9 L1455.5 416.1 L1458.2 416.2 L1460.8 416.4 L1463.5 416.6 L1466.1 416.7 L1468.8 416.8 L1471.4 417 L1474.1 417.1 L1476.7 417.2 L1479.4 417.3 L1482 417.4 L1484.7 417.5 L1487.3 417.5 L1490 417.6 L1492.6 417.7 L1495.3 417.7 L1497.9 417.8 L1500.6 417.8 L1503.2 417.9 L1505.9 417.9 L1508.5 418 L1511.2 418 L1513.8 418.1 L1516.5 418.1 L1519.1 418.1 L1521.8 418.1 L1524.4 418.2 L1527.1 418.2 L1529.7 418.2" fill="none" stroke="#000" stroke-width="2.85" stroke-linejoin="round"/>
<rect x="108" y="14.5" width="1489.7" height="423.3" fill="none" stroke="#262626" stroke-width="2.85"/>
</g>
<clipPath id="sclip0"><rect x="1597.7" y="14.5" width="45.2" height="423.3"/></clipPath>
<rect x="1597.7" y="14.5" width="45.2" height="423.3" fill="#D1D1D1" stroke="#262626" stroke-width="2.85" clip-path="url(#sclip0)"/>
<text transform="translate(1611.2 227.15) rotate(90)" text-anchor="middle" font-size="23.47" fill="#121212">1970</text>
<line x1="100.67" x2="108" y1="418.55" y2="418.55" stroke="#262626" stroke-width="2.85"/>
<text x="94.6" y="427.95" text-anchor="end" font-size="23.47" fill="#3D3D3D">0.00</text>
<line x1="100.67" x2="108" y1="321.68" y2="321.68" stroke="#262626" stroke-width="2.85"/>
<text x="94.6" y="331.07" text-anchor="end" font-size="23.47" fill="#3D3D3D">0.25</text>
<line x1="100.67" x2="108" y1="224.8" y2="224.8" stroke="#262626" stroke-width="2.85"/>
<text x="94.6" y="234.2" text-anchor="end" font-size="23.47" fill="#3D3D3D">0.50</text>
<line x1="100.67" x2="108" y1="127.93" y2="127.93" stroke="#262626" stroke-width="2.85"/>
<text x="94.6" y="137.33" text-anchor="end" font-size="23.47" fill="#3D3D3D">0.75</text>
<line x1="100.67" x2="108" y1="31.05" y2="31.05" stroke="#262626" stroke-width="2.85"/>
<text x="94.6" y="40.45" text-anchor="end" font-size="23.47" fill="#3D3D3D">1.00</text>
<clipPath id="clip1"><rect x="108" y="452.7" width="1489.7" height="423.2"/></clipPath>
<g clip-path="url(#clip1)">
<line x1="108" x2="1597.7" y1="808.16" y2="808.16" stroke="#E7E7E7" stroke-width="1.43"/>
<line x1="108" x2="1597.7" y1="711.29" y2="711.29" stroke="#E7E7E7" stroke-width="1.43"/>
<line x1="108" x2="1597.7" y1="614.41" y2="614.41" stroke="#E7E7E7" stroke-width="1.43"/>
<line x1="108" x2="1597.7" y1="517.54" y2="517.54" stroke="#E7E7E7" stroke-width="1.43"/>
<line x1="235.9" x2="235.9" y1="452.7" y2="875.9" stroke="#E7E7E7" stroke-width="1.43"/>
<line x1="597.7" x2="597.7" y1="452.7" y2="875.9" stroke="#E7E7E7" stroke-width="1.43"/>
<line x1="959.5" x2="959.5" y1="452.7" y2="875.9" stroke="#E7E7E7" stroke-width="1.43"/>
<line x1="1321.3" x2="1321.3" y1="452.7" y2="875.9" stroke="#E7E7E7" stroke-width="1.43"/>
<line x1="108" x2="1597.7" y1="856.6" y2="856.6" stroke="#E7E7E7" stroke-width="2.85"/>
<line x1="108" x2="1597.7" y1="759.73" y2="759.73" stroke="#E7E7E7" stroke-width="2.85"/>
<line x1="108" x2="1597.7" y1="662.85" y2="662.85" stroke="#E7E7E7" stroke-width="2.85"/>
<line x1="108" x2="1597.7" y1="565.98" y2="565.98" stroke="#E7E7E7" stroke-width="2.85"/>
<line x1="108" x2="1597.7" y1="469.1" y2="469.1" stroke="#E7E7E7" stroke-width="2.85"/>
<line x1="416.8" x2="416.8" y1="452.7" y2="875.9" stroke="#E7E7E7" stroke-width="2.85"/>
<line x1="778.6" x2="778.6" y1="452.7" y2="875.9" stroke="#E7E7E7" stroke-width="2.85"/>
<line x1="1140.4" x2="1140.4" y1="452.7" y2="875.9" stroke="#E7E7E7" stroke-width="2.85"/>
<line x1="1502.2" x2="1502.2" y1="452.7" y2="875.9" stroke="#E7E7E7" stroke-width="2.85"/>
<path d="M175.7 849.5 L178.3 849.1 L181 848.7 L183.6 848.3 L186.3 847.9 L188.9 847.5 L191.6 847.1 L194.2 846.6 L196.9 846.2 L199.5 845.7 L202.2 845.2 L204.8 844.7 L207.5 844.2 L210.1 843.7 L212.8 843.1 L215.4 842.6 L218.1 842 L220.7 841.4 L223.4 840.9 L226 840.2 L228.7 839.6 L231.3 839 L234 838.4 L236.6 837.7 L239.3 837 L241.9 836.4 L244.6 835.7 L247.2 835 L249.9 834.3 L252.5 833.6 L255.2 832.9 L257.8 832.1 L260.5 831.4 L263.1 830.7 L265.8 829.9 L268.4 829.1 L271.1 828.4 L273.7 827.6 L276.4 826.8 L279 826.1 L281.7 825.3 L284.3 824.5 L287 823.7 L289.6 822.9 L292.3 822.1 L294.9 821.3 L297.6 820.5 L300.2 819.8 L302.9 819 L305.5 818.2 L308.2 817.4 L310.8 816.6 L313.5 815.8 L316.1 814.9 L318.8 814.1 L321.4 813.3 L324.1 812.5 L326.7 811.7 L329.4 810.9 L332 810.1 L334.7 809.3 L337.3 808.5 L340 807.6 L342.6 806.8 L345.3 806 L347.9 805.1 L350.6 804.3 L353.2 803.4 L355.9 802.6 L358.5 801.7 L361.2 800.8 L363.8 799.9 L366.5 799 L369.1 798.1 L371.8 797.2 L374.4 796.2 L377.1 795.2 L379.7 794.2 L382.4 793.2 L385 792.2 L387.7 791.1 L390.3 790 L393 788.9 L395.6 787.8 L398.3 786.6 L400.9 785.4 L403.6 784.2 L406.2 782.9 L408.9 781.6 L411.5 780.2 L414.2 778.8 L416.8 777.4 L419.5 775.9 L422.1 774.4 L424.8 772.9 L427.4 771.3 L430.1 769.6 L432.7 767.9 L435.4 766.2 L438 764.4 L440.7 762.5 L443.3 760.6 L446 758.6 L448.6 756.6 L451.3 754.6 L453.9 752.4 L456.6 750.3 L459.2 748 L461.9 745.7 L464.5 743.4 L467.2 741 L469.8 738.5 L472.5 736 L475.1 733.4 L477.8 730.8 L480.4 728.1 L483.1 725.4 L485.7 722.6 L488.4 719.7 L491 716.8 L493.7 713.9 L496.3 710.9 L499 707.9 L501.6 704.8 L504.3 701.7 L506.9 698.5 L509.6 695.3 L512.2 692 L514.9 688.7 L517.5 685.4 L520.2 682.1 L522.8 678.7 L525.5 675.3 L528.1 671.8 L530.8 668.4 L533.4 664.9 L536.1 661.5 L538.7 658 L541.4 654.5 L544 651 L546.7 647.5 L549.3 644 L552 640.5 L554.6 637.1 L557.3 633.6 L559.9 630.2 L562.6 626.8 L565.2 623.4 L567.9 620.1 L570.5 616.8 L573.2 613.5 L575.8 610.3 L578.5 607.1 L581.1 604 L583.8 601 L586.4 598 L589.1 595.1 L591.7 592.2 L594.4 589.4 L597 586.8 L599.7 584.1 L602.3 581.6 L605 579.2 L607.6 576.9 L610.3 574.6 L612.9 572.5 L615.6 570.4 L618.2 568.5 L620.9 566.7 L623.5 564.9 L626.2 563.3 L628.8 561.8 L631.4 560.4 L634.1 559.2 L636.7 558 L639.4 557 L642 556 L644.7 555.2 L647.3 554.5 L650 553.9 L652.6 553.4 L655.3 553.1 L657.9 552.8 L660.6 552.6 L663.2 552.6 L665.9 552.6 L668.5 552.7 L671.2 553 L673.8 553.3 L676.5 553.7 L679.1 554.1 L681.8 554.7 L684.4 555.3 L687.1 556 L689.7 556.7 L692.4 557.5 L695 558.4 L697.7 559.3 L700.3 560.2 L703 561.1 L705.6 562.1 L708.3 563.1 L710.9 564.1 L713.6 565.2 L716.2 566.2 L718.9 567.2 L721.5 568.2 L724.2 569.2 L726.8 570.2 L729.5 571.2 L732.1 572.1 L734.8 573 L737.4 573.8 L740.1 574.6 L742.7 575.4 L745.4 576.1 L748 576.7 L750.7 577.3 L753.3 577.8 L756 578.3 L758.6 578.7 L761.3 579 L763.9 579.3 L766.6 579.4 L769.2 579.5 L771.9 579.6 L774.5 579.5 L777.2 579.4 L779.8 579.2 L782.5 578.9 L785.1 578.6 L787.8 578.2 L790.4 577.7 L793.1 577.1 L795.7 576.5 L798.4 575.9 L801 575.1 L803.7 574.3 L806.3 573.5 L809 572.6 L811.6 571.7 L814.3 570.7 L816.9 569.7 L819.6 568.7 L822.2 567.6 L824.9 566.5 L827.5 565.4 L830.2 564.3 L832.8 563.1 L835.5 562 L838.1 560.9 L840.8 559.7 L843.4 558.6 L846.1 557.5 L848.7 556.4 L851.4 555.3 L854 554.3 L856.7 553.3 L859.3 552.3 L862 551.4 L864.6 550.5 L867.3 549.7 L869.9 548.9 L872.6 548.2 L875.2 547.5 L877.9 546.9 L880.5 546.4 L883.2 545.9 L885.8 545.5 L888.5 545.2 L891.1 545 L893.8 544.8 L896.4 544.7 L899.1 544.7 L901.7 544.8 L904.4 544.9 L907 545.2 L909.7 545.5 L912.3 545.9 L915 546.4 L917.6 547 L920.3 547.7 L922.9 548.5 L925.6 549.4 L928.2 550.3 L930.9 551.3 L933.5 552.5 L936.2 553.7 L938.8 555 L941.5 556.3 L944.1 557.8 L946.8 559.4 L949.4 561 L952.1 562.7 L954.7 564.5 L957.4 566.4 L960 568.3 L962.7 570.3 L965.3 572.4 L968 574.6 L970.6 576.8 L973.3 579.1 L975.9 581.5 L978.6 583.9 L981.2 586.4 L983.9 589 L986.5 591.6 L989.2 594.2 L991.8 596.9 L994.5 599.7 L997.1 602.5 L999.8 605.3 L1002.4 608.2 L1005.1 611.1 L1007.7 614 L1010.4 617 L1013 620 L1015.7 623 L1018.3 626 L1021 629.1 L1023.6 632.1 L1026.3 635.2 L1028.9 638.2 L1031.6 641.3 L1034.2 644.4 L1036.9 647.4 L1039.5 650.5 L1042.2 653.5 L1044.8 656.5 L1047.5 659.4 L1050.1 662.4 L1052.8 665.3 L1055.4 668.2 L1058.1 671 L1060.7 673.8 L1063.4 676.5 L1066 679.2 L1068.7 681.9 L1071.3 684.4 L1074 686.9 L1076.6 689.4 L1079.2 691.7 L1081.9 694 L1084.5 696.3 L1087.2 698.4 L1089.8 700.5 L1092.5 702.4 L1095.1 704.3 L1097.8 706.1 L1100.4 707.8 L1103.1 709.4 L1105.7 711 L1108.4 712.4 L1111 713.7 L1113.7 714.9 L1116.3 716 L1119 717 L1121.6 717.9 L1124.3 718.7 L1126.9 719.4 L1129.6 720 L1132.2 720.5 L1134.9 720.9 L1137.5 721.2 L1140.2 721.3 L1142.8 721.4 L1145.5 721.4 L1148.1 721.3 L1150.8 721 L1153.4 720.7 L1156.1 720.3 L1158.7 719.8 L1161.4 719.2 L1164 718.5 L1166.7 717.7 L1169.3 716.9 L1172 715.9 L1174.6 714.9 L1177.3 713.8 L1179.9 712.7 L1182.6 711.5 L1185.2 710.2 L1187.9 708.9 L1190.5 707.5 L1193.2 706 L1195.8 704.5 L1198.5 703 L1201.1 701.4 L1203.8 699.8 L1206.4 698.2 L1209.1 696.6 L1211.7 694.9 L1214.4 693.2 L1217 691.5 L1219.7 689.8 L1222.3 688.1 L1225 686.4 L1227.6 684.7 L1230.3 683 L1232.9 681.4 L1235.6 679.7 L1238.2 678.1 L1240.9 676.6 L1243.5 675 L1246.2 673.5 L1248.8 672.1 L1251.5 670.7 L1254.1 669.3 L1256.8 668 L1259.4 666.8 L1262.1 665.7 L1264.7 664.6 L1267.4 663.6 L1270 662.6 L1272.7 661.8 L1275.3 661 L1278 660.3 L1280.6 659.8 L1283.3 659.3 L1285.9 658.9 L1288.6 658.6 L1291.2 658.4 L1293.9 658.3 L1296.5 658.3 L1299.2 658.4 L1301.8 658.6 L1304.5 659 L1307.1 659.4 L1309.8 660 L1312.4 660.7 L1315.1 661.4 L1317.7 662.3 L1320.4 663.3 L1323 664.4 L1325.7 665.7 L1328.3 667 L1331 668.4 L1333.6 670 L1336.3 671.6 L1338.9 673.4 L1341.6 675.2 L1344.2 677.1 L1346.9 679.2 L1349.5 681.3 L1352.2 683.5 L1354.8 685.8 L1357.5 688.2 L1360.1 690.7 L1362.8 693.2 L1365.4 695.8 L1368.1 698.5 L1370.7 701.2 L1373.4 704 L1376 706.9 L1378.7 709.8 L1381.3 712.7 L1384 715.7 L1386.6 718.7 L1389.3 721.8 L1391.9 724.8 L1394.6 727.9 L1397.2 731.1 L1399.9 734.2 L1402.5 737.3 L1405.2 740.5 L1407.8 743.6 L1410.5 746.8 L1413.1 749.9 L1415.8 753 L1418.4 756.1 L1421.1 759.2 L1423.7 762.3 L1426.4 765.3 L1429 768.3 L1431.7 771.3 L1434.3 774.2 L1437 777.1 L1439.6 779.9 L1442.3 782.7 L1444.9 785.5 L1447.6 788.2 L1450.2 790.9 L1452.9 793.5 L1455.5 796 L1458.2 798.5 L1460.8 800.9 L1463.5 803.3 L1466.1 805.6 L1468.8 807.8 L1471.4 810 L1474.1 812.1 L1476.7 814.2 L1479.4 816.2 L1482 818.1 L1484.7 820 L1487.3 821.8 L1490 823.5 L1492.6 825.2 L1495.3 826.8 L1497.9 828.4 L1500.6 829.9 L1503.2 831.3 L1505.9 832.7 L1508.5 834 L1511.2 835.3 L1513.8 836.5 L1516.5 837.7 L1519.1 838.8 L1521.8 839.8 L1524.4 840.8 L1527.1 841.8 L1529.7 842.7 L1529.7 842.7 L1527.1 841.8 L1524.4 840.8 L1521.8 839.8 L1519.1 838.8 L1516.5 837.7 L1513.8 836.5 L1511.2 835.3 L1508.5 834 L1505.9 832.7 L1503.2 831.3 L1500.6 829.9 L1497.9 828.4 L1495.3 826.9 L1492.6 825.2 L1490 823.6 L1487.3 821.8 L1484.7 820 L1482 818.1 L1479.4 816.2 L1476.7 814.2 L1474.1 812.2 L1471.4 810.1 L1468.8 807.9 L1466.1 805.6 L1463.5 803.3 L1460.8 801 L1458.2 798.5 L1455.5 796 L1452.9 793.5 L1450.2 790.9 L1447.6 788.3 L1444.9 785.6 L1442.3 782.8 L1439.6 780 L1437 777.2 L1434.3 774.3 L1431.7 771.4 L1429 768.4 L1426.4 765.4 L1423.7 762.4 L1421.1 759.3 L1418.4 756.3 L1415.8 753.2 L1413.1 750.1 L1410.5 746.9 L1407.8 743.8 L1405.2 740.7 L1402.5 737.5 L1399.9 734.4 L1397.2 731.3 L1394.6 728.2 L1391.9 725.1 L1389.3 722.1 L1386.6 719 L1384 716 L1381.3 713.1 L1378.7 710.2 L1376 707.3 L1373.4 704.5 L1370.7 701.7 L1368.1 699 L1365.4 696.3 L1362.8 693.8 L1360.1 691.3 L1357.5 688.8 L1354.8 686.5 L1352.2 684.2 L1349.5 682 L1346.9 679.9 L1344.2 677.9 L1341.6 676 L1338.9 674.2 L1336.3 672.5 L1333.6 670.9 L1331 669.4 L1328.3 668 L1325.7 666.8 L1323 665.6 L1320.4 664.5 L1317.7 663.6 L1315.1 662.7 L1312.4 662 L1309.8 661.4 L1307.1 660.9 L1304.5 660.5 L1301.8 660.2 L1299.2 660.1 L1296.5 660 L1293.9 660 L1291.2 660.2 L1288.6 660.5 L1285.9 660.8 L1283.3 661.3 L1280.6 661.8 L1278 662.5 L1275.3 663.2 L1272.7 664.1 L1270 665 L1267.4 666 L1264.7 667.1 L1262.1 668.2 L1259.4 669.4 L1256.8 670.7 L1254.1 672.1 L1251.5 673.5 L1248.8 675 L1246.2 676.5 L1243.5 678.1 L1240.9 679.7 L1238.2 681.3 L1235.6 683 L1232.9 684.7 L1230.3 686.4 L1227.6 688.2 L1225 690 L1222.3 691.7 L1219.7 693.5 L1217 695.3 L1214.4 697.1 L1211.7 698.8 L1209.1 700.6 L1206.4 702.3 L1203.8 704 L1201.1 705.7 L1198.5 707.3 L1195.8 708.9 L1193.2 710.5 L1190.5 712 L1187.9 713.5 L1185.2 714.9 L1182.6 716.2 L1179.9 717.5 L1177.3 718.8 L1174.6 719.9 L1172 721 L1169.3 722.1 L1166.7 723 L1164 723.9 L1161.4 724.6 L1158.7 725.3 L1156.1 725.9 L1153.4 726.5 L1150.8 726.9 L1148.1 727.2 L1145.5 727.4 L1142.8 727.6 L1140.2 727.6 L1137.5 727.5 L1134.9 727.4 L1132.2 727.1 L1129.6 726.8 L1126.9 726.3 L1124.3 725.7 L1121.6 725 L1119 724.3 L1116.3 723.4 L1113.7 722.4 L1111 721.3 L1108.4 720.2 L1105.7 718.9 L1103.1 717.5 L1100.4 716 L1097.8 714.5 L1095.1 712.8 L1092.5 711.1 L1089.8 709.3 L1087.2 707.4 L1084.5 705.4 L1081.9 703.3 L1079.2 701.2 L1076.6 699 L1074 696.7 L1071.3 694.3 L1068.7 691.9 L1066 689.4 L1063.4 686.9 L1060.7 684.3 L1058.1 681.7 L1055.4 679 L1052.8 676.3 L1050.1 673.5 L1047.5 670.7 L1044.8 667.9 L1042.2 665.1 L1039.5 662.2 L1036.9 659.3 L1034.2 656.4 L1031.6 653.5 L1028.9 650.6 L1026.3 647.7 L1023.6 644.8 L1021 641.9 L1018.3 639 L1015.7 636.1 L1013 633.2 L1010.4 630.3 L1007.7 627.5 L1005.1 624.7 L1002.4 622 L999.8 619.2 L997.1 616.5 L994.5 613.9 L991.8 611.3 L989.2 608.7 L986.5 606.2 L983.9 603.8 L981.2 601.4 L978.6 599.1 L975.9 596.8 L973.3 594.6 L970.6 592.5 L968 590.4 L965.3 588.4 L962.7 586.5 L960 584.7 L957.4 583 L954.7 581.3 L952.1 579.8 L949.4 578.3 L946.8 576.9 L944.1 575.6 L941.5 574.4 L938.8 573.4 L936.2 572.4 L933.5 571.5 L930.9 570.7 L928.2 570 L925.6 569.4 L922.9 568.9 L920.3 568.6 L917.6 568.3 L915 568.2 L912.3 568.1 L909.7 568.2 L907 568.4 L904.4 568.7 L901.7 569.1 L899.1 569.6 L896.4 570.2 L893.8 570.9 L891.1 571.8 L888.5 572.7 L885.8 573.8 L883.2 574.9 L880.5 576.2 L877.9 577.6 L875.2 579 L872.6 580.6 L869.9 582.3 L867.3 584 L864.6 585.9 L862 587.8 L859.3 589.8 L856.7 591.9 L854 594.1 L851.4 596.4 L848.7 598.7 L846.1 601.1 L843.4 603.6 L840.8 606.1 L838.1 608.7 L835.5 611.3 L832.8 614 L830.2 616.8 L827.5 619.5 L824.9 622.3 L822.2 625.2 L819.6 628 L816.9 630.9 L814.3 633.8 L811.6 636.7 L809 639.7 L806.3 642.6 L803.7 645.5 L801 648.4 L798.4 651.3 L795.7 654.2 L793.1 657.1 L790.4 660 L787.8 662.8 L785.1 665.6 L782.5 668.3 L779.8 671 L777.2 673.7 L774.5 676.3 L771.9 678.9 L769.2 681.4 L766.6 683.9 L763.9 686.3 L761.3 688.6 L758.6 690.9 L756 693.1 L753.3 695.2 L750.7 697.3 L748 699.3 L745.4 701.2 L742.7 703 L740.1 704.8 L737.4 706.5 L734.8 708.1 L732.1 709.6 L729.5 711 L726.8 712.4 L724.2 713.7 L721.5 714.9 L718.9 716 L716.2 717 L713.6 718 L710.9 718.9 L708.3 719.7 L705.6 720.4 L703 721.1 L700.3 721.7 L697.7 722.2 L695 722.7 L692.4 723.1 L689.7 723.4 L687.1 723.6 L684.4 723.9 L681.8 724 L679.1 724.1 L676.5 724.1 L673.8 724.1 L671.2 724.1 L668.5 724 L665.9 723.9 L663.2 723.7 L660.6 723.5 L657.9 723.3 L655.3 723.1 L652.6 722.8 L650 722.5 L647.3 722.2 L644.7 721.9 L642 721.6 L639.4 721.3 L636.7 720.9 L634.1 720.6 L631.4 720.3 L628.8 719.9 L626.2 719.6 L623.5 719.3 L620.9 719 L618.2 718.8 L615.6 718.5 L612.9 718.3 L610.3 718.1 L607.6 717.9 L605 717.8 L602.3 717.7 L599.7 717.6 L597 717.6 L594.4 717.6 L591.7 717.6 L589.1 717.7 L586.4 717.8 L583.8 718 L581.1 718.2 L578.5 718.5 L575.8 718.8 L573.2 719.1 L570.5 719.5 L567.9 719.9 L565.2 720.4 L562.6 720.9 L559.9 721.5 L557.3 722.2 L554.6 722.8 L552 723.5 L549.3 724.3 L546.7 725.1 L544 726 L541.4 726.8 L538.7 727.8 L536.1 728.7 L533.4 729.8 L530.8 730.8 L528.1 731.9 L525.5 733 L522.8 734.1 L520.2 735.3 L517.5 736.5 L514.9 737.7 L512.2 739 L509.6 740.2 L506.9 741.5 L504.3 742.8 L501.6 744.2 L499 745.5 L496.3 746.9 L493.7 748.2 L491 749.6 L488.4 751 L485.7 752.3 L483.1 753.7 L480.4 755.1 L477.8 756.5 L475.1 757.8 L472.5 759.2 L469.8 760.6 L467.2 761.9 L464.5 763.3 L461.9 764.6 L459.2 765.9 L456.6 767.2 L453.9 768.5 L451.3 769.8 L448.6 771.1 L446 772.3 L443.3 773.5 L440.7 774.7 L438 775.9 L435.4 777.1 L432.7 778.2 L430.1 779.4 L427.4 780.5 L424.8 781.6 L422.1 782.6 L419.5 783.7 L416.8 784.7 L414.2 785.7 L411.5 786.7 L408.9 787.7 L406.2 788.6 L403.6 789.6 L400.9 790.5 L398.3 791.4 L395.6 792.3 L393 793.2 L390.3 794 L387.7 794.9 L385 795.7 L382.4 796.5 L379.7 797.4 L377.1 798.2 L374.4 798.9 L371.8 799.7 L369.1 800.5 L366.5 801.3 L363.8 802.1 L361.2 802.8 L358.5 803.6 L355.9 804.3 L353.2 805.1 L350.6 805.8 L347.9 806.6 L345.3 807.3 L342.6 808.1 L340 808.8 L337.3 809.6 L334.7 810.3 L332 811.1 L329.4 811.8 L326.7 812.6 L324.1 813.3 L321.4 814.1 L318.8 814.8 L316.1 815.6 L313.5 816.4 L310.8 817.1 L308.2 817.9 L305.5 818.7 L302.9 819.4 L300.2 820.2 L297.6 821 L294.9 821.7 L292.3 822.5 L289.6 823.3 L287 824.1 L284.3 824.8 L281.7 825.6 L279 826.4 L276.4 827.1 L273.7 827.9 L271.1 828.6 L268.4 829.4 L265.8 830.1 L263.1 830.9 L260.5 831.6 L257.8 832.3 L255.2 833.1 L252.5 833.8 L249.9 834.5 L247.2 835.2 L244.6 835.9 L241.9 836.6 L239.3 837.2 L236.6 837.9 L234 838.5 L231.3 839.2 L228.7 839.8 L226 840.4 L223.4 841 L220.7 841.6 L218.1 842.2 L215.4 842.8 L212.8 843.3 L210.1 843.9 L207.5 844.4 L204.8 844.9 L202.2 845.4 L199.5 845.9 L196.9 846.3 L194.2 846.8 L191.6 847.3 L188.9 847.7 L186.3 848.1 L183.6 848.5 L181 848.9 L178.3 849.3 L175.7 849.6Z" fill="#F56A5A" fill-opacity="0.2" stroke="none"/>
<path d="M175.7 849.5 L178.3 849.1 L181 848.7 L183.6 848.3 L186.3 847.9 L188.9 847.5 L191.6 847.1 L194.2 846.6 L196.9 846.2 L199.5 845.7 L202.2 845.2 L204.8 844.7 L207.5 844.2 L210.1 843.7 L212.8 843.1 L215.4 842.6 L218.1 842 L220.7 841.4 L223.4 840.9 L226 840.2 L228.7 839.6 L231.3 839 L234 838.4 L236.6 837.7 L239.3 837 L241.9 836.4 L244.6 835.7 L247.2 835 L249.9 834.3 L252.5 833.6 L255.2 832.9 L257.8 832.1 L260.5 831.4 L263.1 830.7 L265.8 829.9 L268.4 829.1 L271.1 828.4 L273.7 827.6 L276.4 826.8 L279 826.1 L281.7 825.3 L284.3 824.5 L287 823.7 L289.6 822.9 L292.3 822.1 L294.9 821.3 L297.6 820.5 L300.2 819.8 L302.9 819 L305.5 818.2 L308.2 817.4 L310.8 816.6 L313.5 815.8 L316.1 814.9 L318.8 814.1 L321.4 813.3 L324.1 812.5 L326.7 811.7 L329.4 810.9 L332 810.1 L334.7 809.3 L337.3 808.5 L340 807.6 L342.6 806.8 L345.3 806 L347.9 805.1 L350.6 804.3 L353.2 803.4 L355.9 802.6 L358.5 801.7 L361.2 800.8 L363.8 799.9 L366.5 799 L369.1 798.1 L371.8 797.2 L374.4 796.2 L377.1 795.2 L379.7 794.2 L382.4 793.2 L385 792.2 L387.7 791.1 L390.3 790 L393 788.9 L395.6 787.8 L398.3 786.6 L400.9 785.4 L403.6 784.2 L406.2 782.9 L408.9 781.6 L411.5 780.2 L414.2 778.8 L416.8 777.4 L419.5 775.9 L422.1 774.4 L424.8 772.9 L427.4 771.3 L430.1 769.6 L432.7 767.9 L435.4 766.2 L438 764.4 L440.7 762.5 L443.3 760.6 L446 758.6 L448.6 756.6 L451.3 754.6 L453.9 752.4 L456.6 750.3 L459.2 748 L461.9 745.7 L464.5 743.4 L467.2 741 L469.8 738.5 L472.5 736 L475.1 733.4 L477.8 730.8 L480.4 728.1 L483.1 725.4 L485.7 722.6 L488.4 719.7 L491 716.8 L493.7 713.9 L496.3 710.9 L499 707.9 L501.6 704.8 L504.3 701.7 L506.9 698.5 L509.6 695.3 L512.2 692 L514.9 688.7 L517.5 685.4 L520.2 682.1 L522.8 678.7 L525.5 675.3 L528.1 671.8 L530.8 668.4 L533.4 664.9 L536.1 661.5 L538.7 658 L541.4 654.5 L544 651 L546.7 647.5 L549.3 644 L552 640.5 L554.6 637.1 L557.3 633.6 L559.9 630.2 L562.6 626.8 L565.2 623.4 L567.9 620.1 L570.5 616.8 L573.2 613.5 L575.8 610.3 L578.5 607.1 L581.1 604 L583.8 601 L586.4 598 L589.1 595.1 L591.7 592.2 L594.4 589.4 L597 586.8 L599.7 584.1 L602.3 581.6 L605 579.2 L607.6 576.9 L610.3 574.6 L612.9 572.5 L615.6 570.4 L618.2 568.5 L620.9 566.7 L623.5 564.9 L626.2 563.3 L628.8 561.8 L631.4 560.4 L634.1 559.2 L636.7 558 L639.4 557 L642 556 L644.7 555.2 L647.3 554.5 L650 553.9 L652.6 553.4 L655.3 553.1 L657.9 552.8 L660.6 552.6 L663.2 552.6 L665.9 552.6 L668.5 552.7 L671.2 553 L673.8 553.3 L676.5 553.7 L679.1 554.1 L681.8 554.7 L684.4 555.3 L687.1 556 L689.7 556.7 L692.4 557.5 L695 558.4 L697.7 559.3 L700.3 560.2 L703 561.1 L705.6 562.1 L708.3 563.1 L710.9 564.1 L713.6 565.2 L716.2 566.2 L718.9 567.2 L721.5 568.2 L724.2 569.2 L726.8 570.2 L729.5 571.2 L732.1 572.1 L734.8 573 L737.4 573.8 L740.1 574.6 L742.7 575.4 L745.4 576.1 L748 576.7 L750.7 577.3 L753.3 577.8 L756 578.3 L758.6 578.7 L761.3 579 L763.9 579.3 L766.6 579.4 L769.2 579.5 L771.9 579.6 L774.5 579.5 L777.2 579.4 L779.8 579.2 L782.5 578.9 L785.1 578.6 L787.8 578.2 L790.4 577.7 L793.1 577.1 L795.7 576.5 L798.4 575.9 L801 575.1 L803.7 574.3 L806.3 573.5 L809 572.6 L811.6 571.7 L814.3 570.7 L816.9 569.7 L819.6 568.7 L822.2 567.6 L824.9 566.5 L827.5 565.4 L830.2 564.3 L832.8 563.1 L835.5 562 L838.1 560.9 L840.8 559.7 L843.4 558.6 L846.1 557.5 L848.7 556.4 L851.4 555.3 L854 554.3 L856.7 553.3 L859.3 552.3 L862 551.4 L864.6 550.5 L867.3 549.7 L869.9 548.9 L872.6 548.2 L875.2 547.5 L877.9 546.9 L880.5 546.4 L883.2 545.9 L885.8 545.5 L888.5 545.2 L891.1 545 L893.8 544.8 L896.4 544.7 L899.1 544.7 L901.7 544.8 L904.4 544.9 L907 545.2 L909.7 545.5 L912.3 545.9 L915 546.4 L917.6 547 L920.3 547.7 L922.9 548.5 L925.6 549.4 L928.2 550.3 L930.9 551.3 L933.5 552.5 L936.2 553.7 L938.8 555 L941.5 556.3 L944.1 557.8 L946.8 559.4 L949.4 561 L952.1 562.7 L954.7 564.5 L957.4 566.4 L960 568.3 L962.7 570.3 L965.3 572.4 L968 574.6 L970.6 576.8 L973.3 579.1 L975.9 581.5 L978.6 583.9 L981.2 586.4 L983.9 589 L986.5 591.6 L989.2 594.2 L991.8 596.9 L994.5 599.7 L997.1 602.5 L999.8 605.3 L1002.4 608.2 L1005.1 611.1 L1007.7 614 L1010.4 617 L1013 620 L1015.7 623 L1018.3 626 L1021 629.1 L1023.6 632.1 L1026.3 635.2 L1028.9 638.2 L1031.6 641.3 L1034.2 644.4 L1036.9 647.4 L1039.5 650.5 L1042.2 653.5 L1044.8 656.5 L1047.5 659.4 L1050.1 662.4 L1052.8 665.3 L1055.4 668.2 L1058.1 671 L1060.7 673.8 L1063.4 676.5 L1066 679.2 L1068.7 681.9 L1071.3 684.4 L1074 686.9 L1076.6 689.4 L1079.2 691.7 L1081.9 694 L1084.5 696.3 L1087.2 698.4 L1089.8 700.5 L1092.5 702.4 L1095.1 704.3 L1097.8 706.1 L1100.4 707.8 L1103.1 709.4 L1105.7 711 L1108.4 712.4 L1111 713.7 L1113.7 714.9 L1116.3 716 L1119 717 L1121.6 717.9 L1124.3 718.7 L1126.9 719.4 L1129.6 720 L1132.2 720.5 L1134.9 720.9 L1137.5 721.2 L1140.2 721.3 L1142.8 721.4 L1145.5 721.4 L1148.1 721.3 L1150.8 721 L1153.4 720.7 L1156.1 720.3 L1158.7 719.8 L1161.4 719.2 L1164 718.5 L1166.7 717.7 L1169.3 716.9 L1172 715.9 L1174.6 714.9 L1177.3 713.8 L1179.9 712.7 L1182.6 711.5 L1185.2 710.2 L1187.9 708.9 L1190.5 707.5 L1193.2 706 L1195.8 704.5 L1198.5 703 L1201.1 701.4 L1203.8 699.8 L1206.4 698.2 L1209.1 696.6 L1211.7 694.9 L1214.4 693.2 L1217 691.5 L1219.7 689.8 L1222.3 688.1 L1225 686.4 L1227.6 684.7 L1230.3 683 L1232.9 681.4 L1235.6 679.7 L1238.2 678.1 L1240.9 676.6 L1243.5 675 L1246.2 673.5 L1248.8 672.1 L1251.5 670.7 L1254.1 669.3 L1256.8 668 L1259.4 666.8 L1262.1 665.7 L1264.7 664.6 L1267.4 663.6 L1270 662.6 L1272.7 661.8 L1275.3 661 L1278 660.3 L1280.6 659.8 L1283.3 659.3 L1285.9 658.9 L1288.6 658.6 L1291.2 658.4 L1293.9 658.3 L1296.5 658.3 L1299.2 658.4 L1301.8 658.6 L1304.5 659 L1307.1 659.4 L1309.8 660 L1312.4 660.7 L1315.1 661.4 L1317.7 662.3 L1320.4 663.3 L1323 664.4 L1325.7 665.7 L1328.3 667 L1331 668.4 L1333.6 670 L1336.3 671.6 L1338.9 673.4 L1341.6 675.2 L1344.2 677.1 L1346.9 679.2 L1349.5 681.3 L1352.2 683.5 L1354.8 685.8 L1357.5 688.2 L1360.1 690.7 L1362.8 693.2 L1365.4 695.8 L1368.1 698.5 L1370.7 701.2 L1373.4 704 L1376 706.9 L1378.7 709.8 L1381.3 712.7 L1384 715.7 L1386.6 718.7 L1389.3 721.8 L1391.9 724.8 L1394.6 727.9 L1397.2 731.1 L1399.9 734.2 L1402.5 737.3 L1405.2 740.5 L1407.8 743.6 L1410.5 746.8 L1413.1 749.9 L1415.8 753 L1418.4 756.1 L1421.1 759.2 L1423.7 762.3 L1426.4 765.3 L1429 768.3 L1431.7 771.3 L1434.3 774.2 L1437 777.1 L1439.6 779.9 L1442.3 782.7 L1444.9 785.5 L1447.6 788.2 L1450.2 790.9 L1452.9 793.5 L1455.5 796 L1458.2 798.5 L1460.8 800.9 L1463.5 803.3 L1466.1 805.6 L1468.8 807.8 L1471.4 810 L1474.1 812.1 L1476.7 814.2 L1479.4 816.2 L1482 818.1 L1484.7 820 L1487.3 821.8 L1490 823.5 L1492.6 825.2 L1495.3 826.8 L1497.9 828.4 L1500.6 829.9 L1503.2 831.3 L1505.9 832.7 L1508.5 834 L1511.2 835.3 L1513.8 836.5 L1516.5 837.7 L1519.1 838.8 L1521.8 839.8 L1524.4 840.8 L1527.1 841.8 L1529.7 842.7" fill="none" stroke="#000" stroke-width="2.85" stroke-linejoin="round"/>
<path d="M175.7 849.6 L178.3 849.3 L181 848.9 L183.6 848.5 L186.3 848.1 L188.9 847.7 L191.6 847.3 L194.2 846.8 L196.9 846.3 L199.5 845.9 L202.2 845.4 L204.8 844.9 L207.5 844.4 L210.1 843.9 L212.8 843.3 L215.4 842.8 L218.1 842.2 L220.7 841.6 L223.4 841 L226 840.4 L228.7 839.8 L231.3 839.2 L234 838.5 L236.6 837.9 L239.3 837.2 L241.9 836.6 L244.6 835.9 L247.2 835.2 L249.9 834.5 L252.5 833.8 L255.2 833.1 L257.8 832.3 L260.5 831.6 L263.1 830.9 L265.8 830.1 L268.4 829.4 L271.1 828.6 L273.7 827.9 L276.4 827.1 L279 826.4 L281.7 825.6 L284.3 824.8 L287 824.1 L289.6 823.3 L292.3 822.5 L294.9 821.7 L297.6 821 L300.2 820.2 L302.9 819.4 L305.5 818.7 L308.2 817.9 L310.8 817.1 L313.5 816.4 L316.1 815.6 L318.8 814.8 L321.4 814.1 L324.1 813.3 L326.7 812.6 L329.4 811.8 L332 811.1 L334.7 810.3 L337.3 809.6 L340 808.8 L342.6 808.1 L345.3 807.3 L347.9 806.6 L350.6 805.8 L353.2 805.1 L355.9 804.3 L358.5 803.6 L361.2 802.8 L363.8 802.1 L366.5 801.3 L369.1 800.5 L371.8 799.7 L374.4 798.9 L377.1 798.2 L379.7 797.4 L382.4 796.5 L385 795.7 L387.7 794.9 L390.3 794 L393 793.2 L395.6 792.3 L398.3 791.4 L400.9 790.5 L403.6 789.6 L406.2 788.6 L408.9 787.7 L411.5 786.7 L414.2 785.7 L416.8 784.7 L419.5 783.7 L422.1 782.6 L424.8 781.6 L427.4 780.5 L430.1 779.4 L432.7 778.2 L435.4 777.1 L438 775.9 L440.7 774.7 L443.3 773.5 L446 772.3 L448.6 771.1 L451.3 769.8 L453.9 768.5 L456.6 767.2 L459.2 765.9 L461.9 764.6 L464.5 763.3 L467.2 761.9 L469.8 760.6 L472.5 759.2 L475.1 757.8 L477.8 756.5 L480.4 755.1 L483.1 753.7 L485.7 752.3 L488.4 751 L491 749.6 L493.7 748.2 L496.3 746.9 L499 745.5 L501.6 744.2 L504.3 742.8 L506.9 741.5 L509.6 740.2 L512.2 739 L514.9 737.7 L517.5 736.5 L520.2 735.3 L522.8 734.1 L525.5 733 L528.1 731.9 L530.8 730.8 L533.4 729.8 L536.1 728.7 L538.7 727.8 L541.4 726.8 L544 726 L546.7 725.1 L549.3 724.3 L552 723.5 L554.6 722.8 L557.3 722.2 L559.9 721.5 L562.6 720.9 L565.2 720.4 L567.9 719.9 L570.5 719.5 L573.2 719.1 L575.8 718.8 L578.5 718.5 L581.1 718.2 L583.8 718 L586.4 717.8 L589.1 717.7 L591.7 717.6 L594.4 717.6 L597 717.6 L599.7 717.6 L602.3 717.7 L605 717.8 L607.6 717.9 L610.3 718.1 L612.9 718.3 L615.6 718.5 L618.2 718.8 L620.9 719 L623.5 719.3 L626.2 719.6 L628.8 719.9 L631.4 720.3 L634.1 720.6 L636.7 720.9 L639.4 721.3 L642 721.6 L644.7 721.9 L647.3 722.2 L650 722.5 L652.6 722.8 L655.3 723.1 L657.9 723.3 L660.6 723.5 L663.2 723.7 L665.9 723.9 L668.5 724 L671.2 724.1 L673.8 724.1 L676.5 724.1 L679.1 724.1 L681.8 724 L684.4 723.9 L687.1 723.6 L689.7 723.4 L692.4 723.1 L695 722.7 L697.7 722.2 L700.3 721.7 L703 721.1 L705.6 720.4 L708.3 719.7 L710.9 718.9 L713.6 718 L716.2 717 L718.9 716 L721.5 714.9 L724.2 713.7 L726.8 712.4 L729.5 711 L732.1 709.6 L734.8 708.1 L737.4 706.5 L740.1 704.8 L742.7 703 L745.4 701.2 L748 699.3 L750.7 697.3 L753.3 695.2 L756 693.1 L758.6 690.9 L761.3 688.6 L763.9 686.3 L766.6 683.9 L769.2 681.4 L771.9 678.9 L774.5 676.3 L777.2 673.7 L779.8 671 L782.5 668.3 L785.1 665.6 L787.8 662.8 L790.4 660 L793.1 657.1 L795.7 654.2 L798.4 651.3 L801 648.4 L803.7 645.5 L806.3 642.6 L809 639.7 L811.6 636.7 L814.3 633.8 L816.9 630.9 L819.6 628 L822.2 625.2 L824.9 622.3 L827.5 619.5 L830.2 616.8 L832.8 614 L835.5 611.3 L838.1 608.7 L840.8 606.1 L843.4 603.6 L846.1 601.1 L848.7 598.7 L851.4 596.4 L854 594.1 L856.7 591.9 L859.3 589.8 L862 587.8 L864.6 585.9 L867.3 584 L869.9 582.3 L872.6 580.6 L875.2 579 L877.9 577.6 L880.5 576.2 L883.2 574.9 L885.8 573.8 L888.5 572.7 L891.1 571.8 L893.8 570.9 L896.4 570.2 L899.1 569.6 L901.7 569.1 L904.4 568.7 L907 568.4 L909.7 568.2 L912.3 568.1 L915 568.2 L917.6 568.3 L920.3 568.6 L922.9 568.9 L925.6 569.4 L928.2 570 L930.9 570.7 L933.5 571.5 L936.2 572.4 L938.8 573.4 L941.5 574.4 L944.1 575.6 L946.8 576.9 L949.4 578.3 L952.1 579.8 L954.7 581.3 L957.4 583 L960 584.7 L962.7 586.5 L965.3 588.4 L968 590.4 L970.6 592.5 L973.3 594.6 L975.9 596.8 L978.6 599.1 L981.2 601.4 L983.9 603.8 L986.5 606.2 L989.2 608.7 L991.8 611.3 L994.5 613.9 L997.1 616.5 L999.8 619.2 L1002.4 622 L1005.1 624.7 L1007.7 627.5 L1010.4 630.3 L1013 633.2 L1015.7 636.1 L1018.3 639 L1021 641.9 L1023.6 644.8 L1026.3 647.7 L1028.9 650.6 L1031.6 653.5 L1034.2 656.4 L1036.9 659.3 L1039.5 662.2 L1042.2 665.1 L1044.8 667.9 L1047.5 670.7 L1050.1 673.5 L1052.8 676.3 L1055.4 679 L1058.1 681.7 L1060.7 684.3 L1063.4 686.9 L1066 689.4 L1068.7 691.9 L1071.3 694.3 L1074 696.7 L1076.6 699 L1079.2 701.2 L1081.9 703.3 L1084.5 705.4 L1087.2 707.4 L1089.8 709.3 L1092.5 711.1 L1095.1 712.8 L1097.8 714.5 L1100.4 716 L1103.1 717.5 L1105.7 718.9 L1108.4 720.2 L1111 721.3 L1113.7 722.4 L1116.3 723.4 L1119 724.3 L1121.6 725 L1124.3 725.7 L1126.9 726.3 L1129.6 726.8 L1132.2 727.1 L1134.9 727.4 L1137.5 727.5 L1140.2 727.6 L1142.8 727.6 L1145.5 727.4 L1148.1 727.2 L1150.8 726.9 L1153.4 726.5 L1156.1 725.9 L1158.7 725.3 L1161.4 724.6 L1164 723.9 L1166.7 723 L1169.3 722.1 L1172 721 L1174.6 719.9 L1177.3 718.8 L1179.9 717.5 L1182.6 716.2 L1185.2 714.9 L1187.9 713.5 L1190.5 712 L1193.2 710.5 L1195.8 708.9 L1198.5 707.3 L1201.1 705.7 L1203.8 704 L1206.4 702.3 L1209.1 700.6 L1211.7 698.8 L1214.4 697.1 L1217 695.3 L1219.7 693.5 L1222.3 691.7 L1225 690 L1227.6 688.2 L1230.3 686.4 L1232.9 684.7 L1235.6 683 L1238.2 681.3 L1240.9 679.7 L1243.5 678.1 L1246.2 676.5 L1248.8 675 L1251.5 673.5 L1254.1 672.1 L1256.8 670.7 L1259.4 669.4 L1262.1 668.2 L1264.7 667.1 L1267.4 666 L1270 665 L1272.7 664.1 L1275.3 663.2 L1278 662.5 L1280.6 661.8 L1283.3 661.3 L1285.9 660.8 L1288.6 660.5 L1291.2 660.2 L1293.9 660 L1296.5 660 L1299.2 660.1 L1301.8 660.2 L1304.5 660.5 L1307.1 660.9 L1309.8 661.4 L1312.4 662 L1315.1 662.7 L1317.7 663.6 L1320.4 664.5 L1323 665.6 L1325.7 666.8 L1328.3 668 L1331 669.4 L1333.6 670.9 L1336.3 672.5 L1338.9 674.2 L1341.6 676 L1344.2 677.9 L1346.9 679.9 L1349.5 682 L1352.2 684.2 L1354.8 686.5 L1357.5 688.8 L1360.1 691.3 L1362.8 693.8 L1365.4 696.3 L1368.1 699 L1370.7 701.7 L1373.4 704.5 L1376 707.3 L1378.7 710.2 L1381.3 713.1 L1384 716 L1386.6 719 L1389.3 722.1 L1391.9 725.1 L1394.6 728.2 L1397.2 731.3 L1399.9 734.4 L1402.5 737.5 L1405.2 740.7 L1407.8 743.8 L1410.5 746.9 L1413.1 750.1 L1415.8 753.2 L1418.4 756.3 L1421.1 759.3 L1423.7 762.4 L1426.4 765.4 L1429 768.4 L1431.7 771.4 L1434.3 774.3 L1437 777.2 L1439.6 780 L1442.3 782.8 L1444.9 785.6 L1447.6 788.3 L1450.2 790.9 L1452.9 793.5 L1455.5 796 L1458.2 798.5 L1460.8 801 L1463.5 803.3 L1466.1 805.6 L1468.8 807.9 L1471.4 810.1 L1474.1 812.2 L1476.7 814.2 L1479.4 816.2 L1482 818.1 L1484.7 820 L1487.3 821.8 L1490 823.6 L1492.6 825.2 L1495.3 826.9 L1497.9 828.4 L1500.6 829.9 L1503.2 831.3 L1505.9 832.7 L1508.5 834 L1511.2 835.3 L1513.8 836.5 L1516.5 837.7 L1519.1 838.8 L1521.8 839.8 L1524.4 840.8 L1527.1 841.8 L1529.7 842.7 L1529.7 842.7 L1527.1 841.8 L1524.4 840.8 L1521.8 839.8 L1519.1 838.8 L1516.5 837.7 L1513.8 836.5 L1511.2 835.3 L1508.5 834 L1505.9 832.7 L1503.2 831.3 L1500.6 829.9 L1497.9 828.4 L1495.3 826.9 L1492.6 825.2 L1490 823.6 L1487.3 821.8 L1484.7 820 L1482 818.2 L1479.4 816.2 L1476.7 814.2 L1474.1 812.2 L1471.4 810.1 L1468.8 807.9 L1466.1 805.6 L1463.5 803.3 L1460.8 801 L1458.2 798.5 L1455.5 796.1 L1452.9 793.5 L1450.2 790.9 L1447.6 788.3 L1444.9 785.6 L1442.3 782.8 L1439.6 780 L1437 777.2 L1434.3 774.3 L1431.7 771.4 L1429 768.4 L1426.4 765.5 L1423.7 762.4 L1421.1 759.4 L1418.4 756.3 L1415.8 753.2 L1413.1 750.1 L1410.5 747 L1407.8 743.9 L1405.2 740.8 L1402.5 737.7 L1399.9 734.5 L1397.2 731.4 L1394.6 728.3 L1391.9 725.3 L1389.3 722.2 L1386.6 719.2 L1384 716.2 L1381.3 713.3 L1378.7 710.4 L1376 707.5 L1373.4 704.7 L1370.7 702 L1368.1 699.3 L1365.4 696.7 L1362.8 694.2 L1360.1 691.7 L1357.5 689.3 L1354.8 687 L1352.2 684.8 L1349.5 682.7 L1346.9 680.6 L1344.2 678.7 L1341.6 676.9 L1338.9 675.1 L1336.3 673.5 L1333.6 672 L1331 670.5 L1328.3 669.3 L1325.7 668.1 L1323 667 L1320.4 666 L1317.7 665.2 L1315.1 664.5 L1312.4 663.9 L1309.8 663.4 L1307.1 663.1 L1304.5 662.9 L1301.8 662.8 L1299.2 662.8 L1296.5 662.9 L1293.9 663.2 L1291.2 663.5 L1288.6 664 L1285.9 664.6 L1283.3 665.4 L1280.6 666.2 L1278 667.1 L1275.3 668.2 L1272.7 669.3 L1270 670.6 L1267.4 671.9 L1264.7 673.4 L1262.1 675 L1259.4 676.6 L1256.8 678.3 L1254.1 680.1 L1251.5 682 L1248.8 684 L1246.2 686.1 L1243.5 688.2 L1240.9 690.4 L1238.2 692.6 L1235.6 695 L1232.9 697.3 L1230.3 699.8 L1227.6 702.2 L1225 704.7 L1222.3 707.3 L1219.7 709.9 L1217 712.5 L1214.4 715.2 L1211.7 717.9 L1209.1 720.6 L1206.4 723.3 L1203.8 726 L1201.1 728.8 L1198.5 731.5 L1195.8 734.2 L1193.2 737 L1190.5 739.7 L1187.9 742.5 L1185.2 745.2 L1182.6 747.9 L1179.9 750.6 L1177.3 753.2 L1174.6 755.9 L1172 758.5 L1169.3 761.1 L1166.7 763.6 L1164 766.1 L1161.4 768.6 L1158.7 771 L1156.1 773.4 L1153.4 775.7 L1150.8 778 L1148.1 780.2 L1145.5 782.4 L1142.8 784.5 L1140.2 786.5 L1137.5 788.5 L1134.9 790.4 L1132.2 792.3 L1129.6 794.1 L1126.9 795.8 L1124.3 797.4 L1121.6 799 L1119 800.5 L1116.3 801.9 L1113.7 803.2 L1111 804.5 L1108.4 805.7 L1105.7 806.8 L1103.1 807.8 L1100.4 808.8 L1097.8 809.6 L1095.1 810.4 L1092.5 811.1 L1089.8 811.7 L1087.2 812.2 L1084.5 812.6 L1081.9 812.9 L1079.2 813.2 L1076.6 813.4 L1074 813.4 L1071.3 813.4 L1068.7 813.3 L1066 813.1 L1063.4 812.8 L1060.7 812.5 L1058.1 812 L1055.4 811.4 L1052.8 810.8 L1050.1 810.1 L1047.5 809.3 L1044.8 808.4 L1042.2 807.4 L1039.5 806.3 L1036.9 805.1 L1034.2 803.9 L1031.6 802.6 L1028.9 801.2 L1026.3 799.7 L1023.6 798.1 L1021 796.5 L1018.3 794.8 L1015.7 793 L1013 791.1 L1010.4 789.2 L1007.7 787.2 L1005.1 785.1 L1002.4 783 L999.8 780.8 L997.1 778.5 L994.5 776.2 L991.8 773.9 L989.2 771.5 L986.5 769 L983.9 766.5 L981.2 764 L978.6 761.4 L975.9 758.8 L973.3 756.1 L970.6 753.5 L968 750.8 L965.3 748.1 L962.7 745.4 L960 742.7 L957.4 740 L954.7 737.2 L952.1 734.5 L949.4 731.8 L946.8 729.1 L944.1 726.5 L941.5 723.8 L938.8 721.2 L936.2 718.6 L933.5 716.1 L930.9 713.6 L928.2 711.1 L925.6 708.8 L922.9 706.4 L920.3 704.1 L917.6 701.9 L915 699.8 L912.3 697.7 L909.7 695.7 L907 693.8 L904.4 692 L901.7 690.2 L899.1 688.6 L896.4 687 L893.8 685.6 L891.1 684.2 L888.5 683 L885.8 681.8 L883.2 680.8 L880.5 679.8 L877.9 679 L875.2 678.3 L872.6 677.6 L869.9 677.1 L867.3 676.7 L864.6 676.4 L862 676.3 L859.3 676.2 L856.7 676.2 L854 676.3 L851.4 676.6 L848.7 676.9 L846.1 677.4 L843.4 677.9 L840.8 678.5 L838.1 679.2 L835.5 680 L832.8 680.9 L830.2 681.9 L827.5 682.9 L824.9 684 L822.2 685.2 L819.6 686.4 L816.9 687.7 L814.3 689.1 L811.6 690.5 L809 691.9 L806.3 693.4 L803.7 694.9 L801 696.5 L798.4 698.1 L795.7 699.7 L793.1 701.3 L790.4 702.9 L787.8 704.5 L785.1 706.1 L782.5 707.7 L779.8 709.4 L777.2 711 L774.5 712.5 L771.9 714.1 L769.2 715.6 L766.6 717.1 L763.9 718.6 L761.3 720 L758.6 721.4 L756 722.8 L753.3 724 L750.7 725.3 L748 726.5 L745.4 727.6 L742.7 728.7 L740.1 729.8 L737.4 730.7 L734.8 731.6 L732.1 732.5 L729.5 733.2 L726.8 734 L724.2 734.6 L721.5 735.2 L718.9 735.7 L716.2 736.2 L713.6 736.6 L710.9 736.9 L708.3 737.1 L705.6 737.3 L703 737.5 L700.3 737.5 L697.7 737.6 L695 737.5 L692.4 737.4 L689.7 737.3 L687.1 737.1 L684.4 736.8 L681.8 736.5 L679.1 736.2 L676.5 735.8 L673.8 735.4 L671.2 735 L668.5 734.5 L665.9 734 L663.2 733.4 L660.6 732.9 L657.9 732.3 L655.3 731.7 L652.6 731.1 L650 730.5 L647.3 729.9 L644.7 729.2 L642 728.6 L639.4 728 L636.7 727.3 L634.1 726.7 L631.4 726.1 L628.8 725.5 L626.2 725 L623.5 724.4 L620.9 723.9 L618.2 723.4 L615.6 722.9 L612.9 722.5 L610.3 722.1 L607.6 721.7 L605 721.4 L602.3 721.1 L599.7 720.8 L597 720.6 L594.4 720.5 L591.7 720.3 L589.1 720.3 L586.4 720.3 L583.8 720.3 L581.1 720.4 L578.5 720.5 L575.8 720.7 L573.2 720.9 L570.5 721.2 L567.9 721.5 L565.2 721.9 L562.6 722.3 L559.9 722.8 L557.3 723.4 L554.6 724 L552 724.6 L549.3 725.3 L546.7 726 L544 726.8 L541.4 727.7 L538.7 728.5 L536.1 729.4 L533.4 730.4 L530.8 731.4 L528.1 732.4 L525.5 733.5 L522.8 734.6 L520.2 735.7 L517.5 736.9 L514.9 738.1 L512.2 739.3 L509.6 740.6 L506.9 741.8 L504.3 743.1 L501.6 744.4 L499 745.7 L496.3 747.1 L493.7 748.4 L491 749.8 L488.4 751.1 L485.7 752.5 L483.1 753.9 L480.4 755.2 L477.8 756.6 L475.1 757.9 L472.5 759.3 L469.8 760.7 L467.2 762 L464.5 763.3 L461.9 764.7 L459.2 766 L456.6 767.3 L453.9 768.6 L451.3 769.8 L448.6 771.1 L446 772.3 L443.3 773.6 L440.7 774.8 L438 776 L435.4 777.1 L432.7 778.3 L430.1 779.4 L427.4 780.5 L424.8 781.6 L422.1 782.7 L419.5 783.7 L416.8 784.7 L414.2 785.7 L411.5 786.7 L408.9 787.7 L406.2 788.7 L403.6 789.6 L400.9 790.5 L398.3 791.4 L395.6 792.3 L393 793.2 L390.3 794 L387.7 794.9 L385 795.7 L382.4 796.5 L379.7 797.4 L377.1 798.2 L374.4 798.9 L371.8 799.7 L369.1 800.5 L366.5 801.3 L363.8 802.1 L361.2 802.8 L358.5 803.6 L355.9 804.3 L353.2 805.1 L350.6 805.8 L347.9 806.6 L345.3 807.3 L342.6 808.1 L340 808.8 L337.3 809.6 L334.7 810.3 L332 811.1 L329.4 811.8 L326.7 812.6 L324.1 813.3 L321.4 814.1 L318.8 814.8 L316.1 815.6 L313.5 816.4 L310.8 817.1 L308.2 817.9 L305.5 818.7 L302.9 819.4 L300.2 820.2 L297.6 821 L294.9 821.7 L292.3 822.5 L289.6 823.3 L287 824.1 L284.3 824.8 L281.7 825.6 L279 826.4 L276.4 827.1 L273.7 827.9 L271.1 828.6 L268.4 829.4 L265.8 830.1 L263.1 830.9 L260.5 831.6 L257.8 832.3 L255.2 833.1 L252.5 833.8 L249.9 834.5 L247.2 835.2 L244.6 835.9 L241.9 836.6 L239.3 837.2 L236.6 837.9 L234 838.5 L231.3 839.2 L228.7 839.8 L226 840.4 L223.4 841 L220.7 841.6 L218.1 842.2 L215.4 842.8 L212.8 843.3 L210.1 843.9 L207.5 844.4 L204.8 844.9 L202.2 845.4 L199.5 845.9 L196.9 846.3 L194.2 846.8 L191.6 847.3 L188.9 847.7 L186.3 848.1 L183.6 848.5 L181 848.9 L178.3 849.3 L175.7 849.6Z" fill="#989814" fill-opacity="0.2" stroke="none"/>
<path d="M175.7 849.6 L178.3 849.3 L181 848.9 L183.6 848.5 L186.3 848.1 L188.9 847.7 L191.6 847.3 L194.2 846.8 L196.9 846.3 L199.5 845.9 L202.2 845.4 L204.8 844.9 L207.5 844.4 L210.1 843.9 L212.8 843.3 L215.4 842.8 L218.1 842.2 L220.7 841.6 L223.4 841 L226 840.4 L228.7 839.8 L231.3 839.2 L234 838.5 L236.6 837.9 L239.3 837.2 L241.9 836.6 L244.6 835.9 L247.2 835.2 L249.9 834.5 L252.5 833.8 L255.2 833.1 L257.8 832.3 L260.5 831.6 L263.1 830.9 L265.8 830.1 L268.4 829.4 L271.1 828.6 L273.7 827.9 L276.4 827.1 L279 826.4 L281.7 825.6 L284.3 824.8 L287 824.1 L289.6 823.3 L292.3 822.5 L294.9 821.7 L297.6 821 L300.2 820.2 L302.9 819.4 L305.5 818.7 L308.2 817.9 L310.8 817.1 L313.5 816.4 L316.1 815.6 L318.8 814.8 L321.4 814.1 L324.1 813.3 L326.7 812.6 L329.4 811.8 L332 811.1 L334.7 810.3 L337.3 809.6 L340 808.8 L342.6 808.1 L345.3 807.3 L347.9 806.6 L350.6 805.8 L353.2 805.1 L355.9 804.3 L358.5 803.6 L361.2 802.8 L363.8 802.1 L366.5 801.3 L369.1 800.5 L371.8 799.7 L374.4 798.9 L377.1 798.2 L379.7 797.4 L382.4 796.5 L385 795.7 L387.7 794.9 L390.3 794 L393 793.2 L395.6 792.3 L398.3 791.4 L400.9 790.5 L403.6 789.6 L406.2 788.6 L408.9 787.7 L411.5 786.7 L414.2 785.7 L416.8 784.7 L419.5 783.7 L422.1 782.6 L424.8 781.6 L427.4 780.5 L430.1 779.4 L432.7 778.2 L435.4 777.1 L438 775.9 L440.7 774.7 L443.3 773.5 L446 772.3 L448.6 771.1 L451.3 769.8 L453.9 768.5 L456.6 767.2 L459.2 765.9 L461.9 764.6 L464.5 763.3 L467.2 761.9 L469.8 760.6 L472.5 759.2 L475.1 757.8 L477.8 756.5 L480.4 755.1 L483.1 753.7 L485.7 752.3 L488.4 751 L491 749.6 L493.7 748.2 L496.3 746.9 L499 745.5 L501.6 744.2 L504.3 742.8 L506.9 741.5 L509.6 740.2 L512.2 739 L514.9 737.7 L517.5 736.5 L520.2 735.3 L522.8 734.1 L525.5 733 L528.1 731.9 L530.8 730.8 L533.4 729.8 L536.1 728.7 L538.7 727.8 L541.4 726.8 L544 726 L546.7 725.1 L549.3 724.3 L552 723.5 L554.6 722.8 L557.3 722.2 L559.9 721.5 L562.6 720.9 L565.2 720.4 L567.9 719.9 L570.5 719.5 L573.2 719.1 L575.8 718.8 L578.5 718.5 L581.1 718.2 L583.8 718 L586.4 717.8 L589.1 717.7 L591.7 717.6 L594.4 717.6 L597 717.6 L599.7 717.6 L602.3 717.7 L605 717.8 L607.6 717.9 L610.3 718.1 L612.9 718.3 L615.6 718.5 L618.2 718.8 L620.9 719 L623.5 719.3 L626.2 719.6 L628.8 719.9 L631.4 720.3 L634.1 720.6 L636.7 720.9 L639.4 721.3 L642 721.6 L644.7 721.9 L647.3 722.2 L650 722.5 L652.6 722.8 L655.3 723.1 L657.9 723.3 L660.6 723.5 L663.2 723.7 L665.9 723.9 L668.5 724 L671.2 724.1 L673.8 724.1 L676.5 724.1 L679.1 724.1 L681.8 724 L684.4 723.9 L687.1 723.6 L689.7 723.4 L692.4 723.1 L695 722.7 L697.7 722.2 L700.3 721.7 L703 721.1 L705.6 720.4 L708.3 719.7 L710.9 718.9 L713.6 718 L716.2 717 L718.9 716 L721.5 714.9 L724.2 713.7 L726.8 712.4 L729.5 711 L732.1 709.6 L734.8 708.1 L737.4 706.5 L740.1 704.8 L742.7 703 L745.4 701.2 L748 699.3 L750.7 697.3 L753.3 695.2 L756 693.1 L758.6 690.9 L761.3 688.6 L763.9 686.3 L766.6 683.9 L769.2 681.4 L771.9 678.9 L774.5 676.3 L777.2 673.7 L779.8 671 L782.5 668.3 L785.1 665.6 L787.8 662.8 L790.4 660 L793.1 657.1 L795.7 654.2 L798.4 651.3 L801 648.4 L803.7 645.5 L806.3 642.6 L809 639.7 L811.6 636.7 L814.3 633.8 L816.9 630.9 L819.6 628 L822.2 625.2 L824.9 622.3 L827.5 619.5 L830.2 616.8 L832.8 614 L835.5 611.3 L838.1 608.7 L840.8 606.1 L843.4 603.6 L846.1 601.1 L848.7 598.7 L851.4 596.4 L854 594.1 L856.7 591.9 L859.3 589.8 L862 587.8 L864.6 585.9 L867.3 584 L869.9 582.3 L872.6 580.6 L875.2 579 L877.9 577.6 L880.5 576.2 L883.2 574.9 L885.8 573.8 L888.5 572.7 L891.1 571.8 L893.8 570.9 L896.4 570.2 L899.1 569.6 L901.7 569.1 L904.4 568.7 L907 568.4 L909.7 568.2 L912.3 568.1 L915 568.2 L917.6 568.3 L920.3 568.6 L922.9 568.9 L925.6 569.4 L928.2 570 L930.9 570.7 L933.5 571.5 L936.2 572.4 L938.8 573.4 L941.5 574.4 L944.1 575.6 L946.8 576.9 L949.4 578.3 L952.1 579.8 L954.7 581.3 L957.4 583 L960 584.7 L962.7 586.5 L965.3 588.4 L968 590.4 L970.6 592.5 L973.3 594.6 L975.9 596.8 L978.6 599.1 L981.2 601.4 L983.9 603.8 L986.5 606.2 L989.2 608.7 L991.8 611.3 L994.5 613.9 L997.1 616.5 L999.8 619.2 L1002.4 622 L1005.1 624.7 L1007.7 627.5 L1010.4 630.3 L1013 633.2 L1015.7 636.1 L1018.3 639 L1021 641.9 L1023.6 644.8 L1026.3 647.7 L1028.9 650.6 L1031.6 653.5 L1034.2 656.4 L1036.9 659.3 L1039.5 662.2 L1042.2 665.1 L1044.8 667.9 L1047.5 670.7 L1050.1 673.5 L1052.8 676.3 L1055.4 679 L1058.1 681.7 L1060.7 684.3 L1063.4 686.9 L1066 689.4 L1068.7 691.9 L1071.3 694.3 L1074 696.7 L1076.6 699 L1079.2 701.2 L1081.9 703.3 L1084.5 705.4 L1087.2 707.4 L1089.8 709.3 L1092.5 711.1 L1095.1 712.8 L1097.8 714.5 L1100.4 716 L1103.1 717.5 L1105.7 718.9 L1108.4 720.2 L1111 721.3 L1113.7 722.4 L1116.3 723.4 L1119 724.3 L1121.6 725 L1124.3 725.7 L1126.9 726.3 L1129.6 726.8 L1132.2 727.1 L1134.9 727.4 L1137.5 727.5 L1140.2 727.6 L1142.8 727.6 L1145.5 727.4 L1148.1 727.2 L1150.8 726.9 L1153.4 726.5 L1156.1 725.9 L1158.7 725.3 L1161.4 724.6 L1164 723.9 L1166.7 723 L1169.3 722.1 L1172 721 L1174.6 719.9 L1177.3 718.8 L1179.9 717.5 L1182.6 716.2 L1185.2 714.9 L1187.9 713.5 L1190.5 712 L1193.2 710.5 L1195.8 708.9 L1198.5 707.3 L1201.1 705.7 L1203.8 704 L1206.4 702.3 L1209.1 700.6 L1211.7 698.8 L1214.4 697.1 L1217 695.3 L1219.7 693.5 L1222.3 691.7 L1225 690 L1227.6 688.2 L1230.3 686.4 L1232.9 684.7 L1235.6 683 L1238.2 681.3 L1240.9 679.7 L1243.5 678.1 L1246.2 676.5 L1248.8 675 L1251.5 673.5 L1254.1 672.1 L1256.8 670.7 L1259.4 669.4 L1262.1 668.2 L1264.7 667.1 L1267.4 666 L1270 665 L1272.7 664.1 L1275.3 663.2 L1278 662.5 L1280.6 661.8 L1283.3 661.3 L1285.9 660.8 L1288.6 660.5 L1291.2 660.2 L1293.9 660 L1296.5 660 L1299.2 660.1 L1301.8 660.2 L1304.5 660.5 L1307.1 660.9 L1309.8 661.4 L1312.4 662 L1315.1 662.7 L1317.7 663.6 L1320.4 664.5 L1323 665.6 L1325.7 666.8 L1328.3 668 L1331 669.4 L1333.6 670.9 L1336.3 672.5 L1338.9 674.2 L1341.6 676 L1344.2 677.9 L1346.9 679.9 L1349.5 682 L1352.2 684.2 L1354.8 686.5 L1357.5 688.8 L1360.1 691.3 L1362.8 693.8 L1365.4 696.3 L1368.1 699 L1370.7 701.7 L1373.4 704.5 L1376 707.3 L1378.7 710.2 L1381.3 713.1 L1384 716 L1386.6 719 L1389.3 722.1 L1391.9 725.1 L1394.6 728.2 L1397.2 731.3 L1399.9 734.4 L1402.5 737.5 L1405.2 740.7 L1407.8 743.8 L1410.5 746.9 L1413.1 750.1 L1415.8 753.2 L1418.4 756.3 L1421.1 759.3 L1423.7 762.4 L1426.4 765.4 L1429 768.4 L1431.7 771.4 L1434.3 774.3 L1437 777.2 L1439.6 780 L1442.3 782.8 L1444.9 785.6 L1447.6 788.3 L1450.2 790.9 L1452.9 793.5 L1455.5 796 L1458.2 798.5 L1460.8 801 L1463.5 803.3 L1466.1 805.6 L1468.8 807.9 L1471.4 810.1 L1474.1 812.2 L1476.7 814.2 L1479.4 816.2 L1482 818.1 L1484.7 820 L1487.3 821.8 L1490 823.6 L1492.6 825.2 L1495.3 826.9 L1497.9 828.4 L1500.6 829.9 L1503.2 831.3 L1505.9 832.7 L1508.5 834 L1511.2 835.3 L1513.8 836.5 L1516.5 837.7 L1519.1 838.8 L1521.8 839.8 L1524.4 840.8 L1527.1 841.8 L1529.7 842.7" fill="none" stroke="#000" stroke-width="2.85" stroke-linejoin="round"/>
<path d="M175.7 849.6 L178.3 849.3 L181 848.9 L183.6 848.5 L186.3 848.1 L188.9 847.7 L191.6 847.3 L194.2 846.8 L196.9 846.3 L199.5 845.9 L202.2 845.4 L204.8 844.9 L207.5 844.4 L210.1 843.9 L212.8 843.3 L215.4 842.8 L218.1 842.2 L220.7 841.6 L223.4 841 L226 840.4 L228.7 839.8 L231.3 839.2 L234 838.5 L236.6 837.9 L239.3 837.2 L241.9 836.6 L244.6 835.9 L247.2 835.2 L249.9 834.5 L252.5 833.8 L255.2 833.1 L257.8 832.3 L260.5 831.6 L263.1 830.9 L265.8 830.1 L268.4 829.4 L271.1 828.6 L273.7 827.9 L276.4 827.1 L279 826.4 L281.7 825.6 L284.3 824.8 L287 824.1 L289.6 823.3 L292.3 822.5 L294.9 821.7 L297.6 821 L300.2 820.2 L302.9 819.4 L305.5 818.7 L308.2 817.9 L310.8 817.1 L313.5 816.4 L316.1 815.6 L318.8 814.8 L321.4 814.1 L324.1 813.3 L326.7 812.6 L329.4 811.8 L332 811.1 L334.7 810.3 L337.3 809.6 L340 808.8 L342.6 808.1 L345.3 807.3 L347.9 806.6 L350.6 805.8 L353.2 805.1 L355.9 804.3 L358.5 803.6 L361.2 802.8 L363.8 802.1 L366.5 801.3 L369.1 800.5 L371.8 799.7 L374.4 798.9 L377.1 798.2 L379.7 797.4 L382.4 796.5 L385 795.7 L387.7 794.9 L390.3 794 L393 793.2 L395.6 792.3 L398.3 791.4 L400.9 790.5 L403.6 789.6 L406.2 788.7 L408.9 787.7 L411.5 786.7 L414.2 785.7 L416.8 784.7 L419.5 783.7 L422.1 782.7 L424.8 781.6 L427.4 780.5 L430.1 779.4 L432.7 778.3 L435.4 777.1 L438 776 L440.7 774.8 L443.3 773.6 L446 772.3 L448.6 771.1 L451.3 769.8 L453.9 768.6 L456.6 767.3 L459.2 766 L461.9 764.7 L464.5 763.3 L467.2 762 L469.8 760.7 L472.5 759.3 L475.1 757.9 L477.8 756.6 L480.4 755.2 L483.1 753.9 L485.7 752.5 L488.4 751.1 L491 749.8 L493.7 748.4 L496.3 747.1 L499 745.7 L501.6 744.4 L504.3 743.1 L506.9 741.8 L509.6 740.6 L512.2 739.3 L514.9 738.1 L517.5 736.9 L520.2 735.7 L522.8 734.6 L525.5 733.5 L528.1 732.4 L530.8 731.4 L533.4 730.4 L536.1 729.4 L538.7 728.5 L541.4 727.7 L544 726.8 L546.7 726 L549.3 725.3 L552 724.6 L554.6 724 L557.3 723.4 L559.9 722.8 L562.6 722.3 L565.2 721.9 L567.9 721.5 L570.5 721.2 L573.2 720.9 L575.8 720.7 L578.5 720.5 L581.1 720.4 L583.8 720.3 L586.4 720.3 L589.1 720.3 L591.7 720.3 L594.4 720.5 L597 720.6 L599.7 720.8 L602.3 721.1 L605 721.4 L607.6 721.7 L610.3 722.1 L612.9 722.5 L615.6 722.9 L618.2 723.4 L620.9 723.9 L623.5 724.4 L626.2 725 L628.8 725.5 L631.4 726.1 L634.1 726.7 L636.7 727.3 L639.4 728 L642 728.6 L644.7 729.2 L647.3 729.9 L650 730.5 L652.6 731.1 L655.3 731.7 L657.9 732.3 L660.6 732.9 L663.2 733.4 L665.9 734 L668.5 734.5 L671.2 735 L673.8 735.4 L676.5 735.8 L679.1 736.2 L681.8 736.5 L684.4 736.8 L687.1 737.1 L689.7 737.3 L692.4 737.4 L695 737.5 L697.7 737.6 L700.3 737.5 L703 737.5 L705.6 737.3 L708.3 737.1 L710.9 736.9 L713.6 736.6 L716.2 736.2 L718.9 735.7 L721.5 735.2 L724.2 734.6 L726.8 734 L729.5 733.2 L732.1 732.5 L734.8 731.6 L737.4 730.7 L740.1 729.8 L742.7 728.7 L745.4 727.6 L748 726.5 L750.7 725.3 L753.3 724 L756 722.8 L758.6 721.4 L761.3 720 L763.9 718.6 L766.6 717.1 L769.2 715.6 L771.9 714.1 L774.5 712.5 L777.2 711 L779.8 709.4 L782.5 707.7 L785.1 706.1 L787.8 704.5 L790.4 702.9 L793.1 701.3 L795.7 699.7 L798.4 698.1 L801 696.5 L803.7 694.9 L806.3 693.4 L809 691.9 L811.6 690.5 L814.3 689.1 L816.9 687.7 L819.6 686.4 L822.2 685.2 L824.9 684 L827.5 682.9 L830.2 681.9 L832.8 680.9 L835.5 680 L838.1 679.2 L840.8 678.5 L843.4 677.9 L846.1 677.4 L848.7 676.9 L851.4 676.6 L854 676.3 L856.7 676.2 L859.3 676.2 L862 676.3 L864.6 676.4 L867.3 676.7 L869.9 677.1 L872.6 677.6 L875.2 678.3 L877.9 679 L880.5 679.8 L883.2 680.8 L885.8 681.8 L888.5 683 L891.1 684.2 L893.8 685.6 L896.4 687 L899.1 688.6 L901.7 690.2 L904.4 692 L907 693.8 L909.7 695.7 L912.3 697.7 L915 699.8 L917.6 701.9 L920.3 704.1 L922.9 706.4 L925.6 708.8 L928.2 711.1 L930.9 713.6 L933.5 716.1 L936.2 718.6 L938.8 721.2 L941.5 723.8 L944.1 726.5 L946.8 729.1 L949.4 731.8 L952.1 734.5 L954.7 737.2 L957.4 740 L960 742.7 L962.7 745.4 L965.3 748.1 L968 750.8 L970.6 753.5 L973.3 756.1 L975.9 758.8 L978.6 761.4 L981.2 764 L983.9 766.5 L986.5 769 L989.2 771.5 L991.8 773.9 L994.5 776.2 L997.1 778.5 L999.8 780.8 L1002.4 783 L1005.1 785.1 L1007.7 787.2 L1010.4 789.2 L1013 791.1 L1015.7 793 L1018.3 794.8 L1021 796.5 L1023.6 798.1 L1026.3 799.7 L1028.9 801.2 L1031.6 802.6 L1034.2 803.9 L1036.9 805.1 L1039.5 806.3 L1042.2 807.4 L1044.8 808.4 L1047.5 809.3 L1050.1 810.1 L1052.8 810.8 L1055.4 811.4 L1058.1 812 L1060.7 812.5 L1063.4 812.8 L1066 813.1 L1068.7 813.3 L1071.3 813.4 L1074 813.4 L1076.6 813.4 L1079.2 813.2 L1081.9 812.9 L1084.5 812.6 L1087.2 812.2 L1089.8 811.7 L1092.5 811.1 L1095.1 810.4 L1097.8 809.6 L1100.4 808.8 L1103.1 807.8 L1105.7 806.8 L1108.4 805.7 L1111 804.5 L1113.7 803.2 L1116.3 801.9 L1119 800.5 L1121.6 799 L1124.3 797.4 L1126.9 795.8 L1129.6 794.1 L1132.2 792.3 L1134.9 790.4 L1137.5 788.5 L1140.2 786.5 L1142.8 784.5 L1145.5 782.4 L1148.1 780.2 L1150.8 778 L1153.4 775.7 L1156.1 773.4 L1158.7 771 L1161.4 768.6 L1164 766.1 L1166.7 763.6 L1169.3 761.1 L1172 758.5 L1174.6 755.9 L1177.3 753.2 L1179.9 750.6 L1182.6 747.9 L1185.2 745.2 L1187.9 742.5 L1190.5 739.7 L1193.2 737 L1195.8 734.2 L1198.5 731.5 L1201.1 728.8 L1203.8 726 L1206.4 723.3 L1209.1 720.6 L1211.7 717.9 L1214.4 715.2 L1217 712.5 L1219.7 709.9 L1222.3 707.3 L1225 704.7 L1227.6 702.2 L1230.3 699.8 L1232.9 697.3 L1235.6 695 L1238.2 692.6 L1240.9 690.4 L1243.5 688.2 L1246.2 686.1 L1248.8 684 L1251.5 682 L1254.1 680.1 L1256.8 678.3 L1259.4 676.6 L1262.1 675 L1264.7 673.4 L1267.4 671.9 L1270 670.6 L1272.7 669.3 L1275.3 668.2 L1278 667.1 L1280.6 666.2 L1283.3 665.4 L1285.9 664.6 L1288.6 664 L1291.2 663.5 L1293.9 663.2 L1296.5 662.9 L1299.2 662.8 L1301.8 662.8 L1304.5 662.9 L1307.1 663.1 L1309.8 663.4 L1312.4 663.9 L1315.1 664.5 L1317.7 665.2 L1320.4 666 L1323 667 L1325.7 668.1 L1328.3 669.3 L1331 670.5 L1333.6 672 L1336.3 673.5 L1338.9 675.1 L1341.6 676.9 L1344.2 678.7 L1346.9 680.6 L1349.5 682.7 L1352.2 684.8 L1354.8 687 L1357.5 689.3 L1360.1 691.7 L1362.8 694.2 L1365.4 696.7 L1368.1 699.3 L1370.7 702 L1373.4 704.7 L1376 707.5 L1378.7 710.4 L1381.3 713.3 L1384 716.2 L1386.6 719.2 L1389.3 722.2 L1391.9 725.3 L1394.6 728.3 L1397.2 731.4 L1399.9 734.5 L1402.5 737.7 L1405.2 740.8 L1407.8 743.9 L1410.5 747 L1413.1 750.1 L1415.8 753.2 L1418.4 756.3 L1421.1 759.4 L1423.7 762.4 L1426.4 765.5 L1429 768.4 L1431.7 771.4 L1434.3 774.3 L1437 777.2 L1439.6 780 L1442.3 782.8 L1444.9 785.6 L1447.6 788.3 L1450.2 790.9 L1452.9 793.5 L1455.5 796.1 L1458.2 798.5 L1460.8 801 L1463.5 803.3 L1466.1 805.6 L1468.8 807.9 L1471.4 810.1 L1474.1 812.2 L1476.7 814.2 L1479.4 816.2 L1482 818.2 L1484.7 820 L1487.3 821.8 L1490 823.6 L1492.6 825.2 L1495.3 826.9 L1497.9 828.4 L1500.6 829.9 L1503.2 831.3 L1505.9 832.7 L1508.5 834 L1511.2 835.3 L1513.8 836.5 L1516.5 837.7 L1519.1 838.8 L1521.8 839.8 L1524.4 840.8 L1527.1 841.8 L1529.7 842.7 L1529.7 844.8 L1527.1 844 L1524.4 843.1 L1521.8 842.2 L1519.1 841.3 L1516.5 840.4 L1513.8 839.3 L1511.2 838.3 L1508.5 837.1 L1505.9 836 L1503.2 834.8 L1500.6 833.5 L1497.9 832.2 L1495.3 830.8 L1492.6 829.3 L1490 827.8 L1487.3 826.3 L1484.7 824.7 L1482 823 L1479.4 821.3 L1476.7 819.5 L1474.1 817.6 L1471.4 815.7 L1468.8 813.8 L1466.1 811.7 L1463.5 809.7 L1460.8 807.5 L1458.2 805.3 L1455.5 803.1 L1452.9 800.8 L1450.2 798.4 L1447.6 796 L1444.9 793.6 L1442.3 791 L1439.6 788.5 L1437 785.9 L1434.3 783.3 L1431.7 780.6 L1429 777.9 L1426.4 775.1 L1423.7 772.4 L1421.1 769.6 L1418.4 766.7 L1415.8 763.9 L1413.1 761 L1410.5 758.2 L1407.8 755.3 L1405.2 752.4 L1402.5 749.5 L1399.9 746.6 L1397.2 743.7 L1394.6 740.9 L1391.9 738 L1389.3 735.2 L1386.6 732.4 L1384 729.6 L1381.3 726.9 L1378.7 724.1 L1376 721.5 L1373.4 718.9 L1370.7 716.3 L1368.1 713.8 L1365.4 711.3 L1362.8 708.9 L1360.1 706.6 L1357.5 704.3 L1354.8 702.2 L1352.2 700.1 L1349.5 698 L1346.9 696.1 L1344.2 694.3 L1341.6 692.5 L1338.9 690.8 L1336.3 689.3 L1333.6 687.8 L1331 686.4 L1328.3 685.2 L1325.7 684 L1323 683 L1320.4 682 L1317.7 681.2 L1315.1 680.5 L1312.4 679.9 L1309.8 679.4 L1307.1 679 L1304.5 678.7 L1301.8 678.6 L1299.2 678.5 L1296.5 678.6 L1293.9 678.8 L1291.2 679.1 L1288.6 679.5 L1285.9 680 L1283.3 680.6 L1280.6 681.3 L1278 682.1 L1275.3 683 L1272.7 684.1 L1270 685.2 L1267.4 686.4 L1264.7 687.7 L1262.1 689.1 L1259.4 690.5 L1256.8 692.1 L1254.1 693.7 L1251.5 695.5 L1248.8 697.3 L1246.2 699.1 L1243.5 701 L1240.9 703 L1238.2 705.1 L1235.6 707.2 L1232.9 709.4 L1230.3 711.6 L1227.6 713.9 L1225 716.2 L1222.3 718.5 L1219.7 720.9 L1217 723.3 L1214.4 725.8 L1211.7 728.2 L1209.1 730.7 L1206.4 733.3 L1203.8 735.8 L1201.1 738.3 L1198.5 740.9 L1195.8 743.4 L1193.2 746 L1190.5 748.6 L1187.9 751.1 L1185.2 753.7 L1182.6 756.2 L1179.9 758.8 L1177.3 761.3 L1174.6 763.8 L1172 766.3 L1169.3 768.7 L1166.7 771.1 L1164 773.5 L1161.4 775.9 L1158.7 778.3 L1156.1 780.6 L1153.4 782.8 L1150.8 785.1 L1148.1 787.3 L1145.5 789.4 L1142.8 791.5 L1140.2 793.6 L1137.5 795.6 L1134.9 797.6 L1132.2 799.5 L1129.6 801.4 L1126.9 803.3 L1124.3 805 L1121.6 806.8 L1119 808.4 L1116.3 810.1 L1113.7 811.7 L1111 813.2 L1108.4 814.6 L1105.7 816.1 L1103.1 817.4 L1100.4 818.7 L1097.8 820 L1095.1 821.2 L1092.5 822.3 L1089.8 823.4 L1087.2 824.5 L1084.5 825.5 L1081.9 826.4 L1079.2 827.3 L1076.6 828.1 L1074 828.9 L1071.3 829.7 L1068.7 830.4 L1066 831.1 L1063.4 831.7 L1060.7 832.2 L1058.1 832.8 L1055.4 833.3 L1052.8 833.7 L1050.1 834.1 L1047.5 834.5 L1044.8 834.8 L1042.2 835.1 L1039.5 835.4 L1036.9 835.6 L1034.2 835.8 L1031.6 836 L1028.9 836.2 L1026.3 836.3 L1023.6 836.4 L1021 836.5 L1018.3 836.6 L1015.7 836.6 L1013 836.6 L1010.4 836.7 L1007.7 836.6 L1005.1 836.6 L1002.4 836.6 L999.8 836.6 L997.1 836.5 L994.5 836.5 L991.8 836.4 L989.2 836.3 L986.5 836.3 L983.9 836.2 L981.2 836.1 L978.6 836 L975.9 836 L973.3 835.9 L970.6 835.8 L968 835.8 L965.3 835.7 L962.7 835.6 L960 835.6 L957.4 835.6 L954.7 835.5 L952.1 835.5 L949.4 835.5 L946.8 835.5 L944.1 835.5 L941.5 835.5 L938.8 835.5 L936.2 835.5 L933.5 835.6 L930.9 835.6 L928.2 835.7 L925.6 835.8 L922.9 835.9 L920.3 836 L917.6 836.1 L915 836.2 L912.3 836.3 L909.7 836.5 L907 836.6 L904.4 836.8 L901.7 836.9 L899.1 837.1 L896.4 837.3 L893.8 837.4 L891.1 837.6 L888.5 837.8 L885.8 838 L883.2 838.2 L880.5 838.4 L877.9 838.6 L875.2 838.8 L872.6 839 L869.9 839.2 L867.3 839.3 L864.6 839.5 L862 839.7 L859.3 839.8 L856.7 840 L854 840.1 L851.4 840.3 L848.7 840.4 L846.1 840.5 L843.4 840.6 L840.8 840.7 L838.1 840.7 L835.5 840.7 L832.8 840.8 L830.2 840.8 L827.5 840.7 L824.9 840.7 L822.2 840.6 L819.6 840.5 L816.9 840.3 L814.3 840.2 L811.6 840 L809 839.7 L806.3 839.5 L803.7 839.2 L801 838.8 L798.4 838.5 L795.7 838 L793.1 837.6 L790.4 837.1 L787.8 836.6 L785.1 836 L782.5 835.4 L779.8 834.8 L777.2 834.1 L774.5 833.3 L771.9 832.5 L769.2 831.7 L766.6 830.8 L763.9 829.9 L761.3 828.9 L758.6 827.9 L756 826.9 L753.3 825.8 L750.7 824.6 L748 823.4 L745.4 822.2 L742.7 820.9 L740.1 819.6 L737.4 818.2 L734.8 816.8 L732.1 815.4 L729.5 813.9 L726.8 812.3 L724.2 810.8 L721.5 809.2 L718.9 807.5 L716.2 805.9 L713.6 804.1 L710.9 802.4 L708.3 800.6 L705.6 798.8 L703 797 L700.3 795.2 L697.7 793.3 L695 791.4 L692.4 789.5 L689.7 787.6 L687.1 785.7 L684.4 783.8 L681.8 781.8 L679.1 779.9 L676.5 777.9 L673.8 776 L671.2 774 L668.5 772.1 L665.9 770.2 L663.2 768.3 L660.6 766.4 L657.9 764.5 L655.3 762.6 L652.6 760.8 L650 759 L647.3 757.2 L644.7 755.5 L642 753.7 L639.4 752.1 L636.7 750.4 L634.1 748.8 L631.4 747.3 L628.8 745.8 L626.2 744.3 L623.5 742.9 L620.9 741.6 L618.2 740.3 L615.6 739 L612.9 737.9 L610.3 736.7 L607.6 735.7 L605 734.7 L602.3 733.8 L599.7 732.9 L597 732.1 L594.4 731.4 L591.7 730.7 L589.1 730.1 L586.4 729.6 L583.8 729.2 L581.1 728.8 L578.5 728.5 L575.8 728.2 L573.2 728.1 L570.5 728 L567.9 728 L565.2 728 L562.6 728.1 L559.9 728.3 L557.3 728.5 L554.6 728.8 L552 729.2 L549.3 729.6 L546.7 730.1 L544 730.7 L541.4 731.3 L538.7 731.9 L536.1 732.7 L533.4 733.4 L530.8 734.2 L528.1 735.1 L525.5 736 L522.8 737 L520.2 738 L517.5 739 L514.9 740 L512.2 741.1 L509.6 742.3 L506.9 743.4 L504.3 744.6 L501.6 745.8 L499 747 L496.3 748.3 L493.7 749.6 L491 750.8 L488.4 752.1 L485.7 753.4 L483.1 754.7 L480.4 756 L477.8 757.3 L475.1 758.6 L472.5 760 L469.8 761.3 L467.2 762.6 L464.5 763.9 L461.9 765.1 L459.2 766.4 L456.6 767.7 L453.9 769 L451.3 770.2 L448.6 771.4 L446 772.6 L443.3 773.8 L440.7 775 L438 776.2 L435.4 777.3 L432.7 778.5 L430.1 779.6 L427.4 780.7 L424.8 781.7 L422.1 782.8 L419.5 783.8 L416.8 784.9 L414.2 785.9 L411.5 786.8 L408.9 787.8 L406.2 788.7 L403.6 789.7 L400.9 790.6 L398.3 791.5 L395.6 792.4 L393 793.2 L390.3 794.1 L387.7 794.9 L385 795.8 L382.4 796.6 L379.7 797.4 L377.1 798.2 L374.4 799 L371.8 799.8 L369.1 800.5 L366.5 801.3 L363.8 802.1 L361.2 802.8 L358.5 803.6 L355.9 804.3 L353.2 805.1 L350.6 805.8 L347.9 806.6 L345.3 807.3 L342.6 808.1 L340 808.8 L337.3 809.6 L334.7 810.3 L332 811.1 L329.4 811.8 L326.7 812.6 L324.1 813.3 L321.4 814.1 L318.8 814.8 L316.1 815.6 L313.5 816.4 L310.8 817.1 L308.2 817.9 L305.5 818.7 L302.9 819.4 L300.2 820.2 L297.6 821 L294.9 821.7 L292.3 822.5 L289.6 823.3 L287 824.1 L284.3 824.8 L281.7 825.6 L279 826.4 L276.4 827.1 L273.7 827.9 L271.1 828.6 L268.4 829.4 L265.8 830.1 L263.1 830.9 L260.5 831.6 L257.8 832.3 L255.2 833.1 L252.5 833.8 L249.9 834.5 L247.2 835.2 L244.6 835.9 L241.9 836.6 L239.3 837.2 L236.6 837.9 L234 838.5 L231.3 839.2 L228.7 839.8 L226 840.4 L223.4 841 L220.7 841.6 L218.1 842.2 L215.4 842.8 L212.8 843.3 L210.1 843.9 L207.5 844.4 L204.8 844.9 L202.2 845.4 L199.5 845.9 L196.9 846.4 L194.2 846.8 L191.6 847.3 L188.9 847.7 L186.3 848.1 L183.6 848.5 L181 848.9 L178.3 849.3 L175.7 849.6Z" fill="#1EB06E" fill-opacity="0.2" stroke="none"/>
<path d="M175.7 849.6 L178.3 849.3 L181 848.9 L183.6 848.5 L186.3 848.1 L188.9 847.7 L191.6 847.3 L194.2 846.8 L196.9 846.3 L199.5 845.9 L202.2 845.4 L204.8 844.9 L207.5 844.4 L210.1 843.9 L212.8 843.3 L215.4 842.8 L218.1 842.2 L220.7 841.6 L223.4 841 L226 840.4 L228.7 839.8 L231.3 839.2 L234 838.5 L236.6 837.9 L239.3 837.2 L241.9 836.6 L244.6 835.9 L247.2 835.2 L249.9 834.5 L252.5 833.8 L255.2 833.1 L257.8 832.3 L260.5 831.6 L263.1 830.9 L265.8 830.1 L268.4 829.4 L271.1 828.6 L273.7 827.9 L276.4 827.1 L279 826.4 L281.7 825.6 L284.3 824.8 L287 824.1 L289.6 823.3 L292.3 822.5 L294.9 821.7 L297.6 821 L300.2 820.2 L302.9 819.4 L305.5 818.7 L308.2 817.9 L310.8 817.1 L313.5 816.4 L316.1 815.6 L318.8 814.8 L321.4 814.1 L324.1 813.3 L326.7 812.6 L329.4 811.8 L332 811.1 L334.7 810.3 L337.3 809.6 L340 808.8 L342.6 808.1 L345.3 807.3 L347.9 806.6 L350.6 805.8 L353.2 805.1 L355.9 804.3 L358.5 803.6 L361.2 802.8 L363.8 802.1 L366.5 801.3 L369.1 800.5 L371.8 799.7 L374.4 798.9 L377.1 798.2 L379.7 797.4 L382.4 796.5 L385 795.7 L387.7 794.9 L390.3 794 L393 793.2 L395.6 792.3 L398.3 791.4 L400.9 790.5 L403.6 789.6 L406.2 788.7 L408.9 787.7 L411.5 786.7 L414.2 785.7 L416.8 784.7 L419.5 783.7 L422.1 782.7 L424.8 781.6 L427.4 780.5 L430.1 779.4 L432.7 778.3 L435.4 777.1 L438 776 L440.7 774.8 L443.3 773.6 L446 772.3 L448.6 771.1 L451.3 769.8 L453.9 768.6 L456.6 767.3 L459.2 766 L461.9 764.7 L464.5 763.3 L467.2 762 L469.8 760.7 L472.5 759.3 L475.1 757.9 L477.8 756.6 L480.4 755.2 L483.1 753.9 L485.7 752.5 L488.4 751.1 L491 749.8 L493.7 748.4 L496.3 747.1 L499 745.7 L501.6 744.4 L504.3 743.1 L506.9 741.8 L509.6 740.6 L512.2 739.3 L514.9 738.1 L517.5 736.9 L520.2 735.7 L522.8 734.6 L525.5 733.5 L528.1 732.4 L530.8 731.4 L533.4 730.4 L536.1 729.4 L538.7 728.5 L541.4 727.7 L544 726.8 L546.7 726 L549.3 725.3 L552 724.6 L554.6 724 L557.3 723.4 L559.9 722.8 L562.6 722.3 L565.2 721.9 L567.9 721.5 L570.5 721.2 L573.2 720.9 L575.8 720.7 L578.5 720.5 L581.1 720.4 L583.8 720.3 L586.4 720.3 L589.1 720.3 L591.7 720.3 L594.4 720.5 L597 720.6 L599.7 720.8 L602.3 721.1 L605 721.4 L607.6 721.7 L610.3 722.1 L612.9 722.5 L615.6 722.9 L618.2 723.4 L620.9 723.9 L623.5 724.4 L626.2 725 L628.8 725.5 L631.4 726.1 L634.1 726.7 L636.7 727.3 L639.4 728 L642 728.6 L644.7 729.2 L647.3 729.9 L650 730.5 L652.6 731.1 L655.3 731.7 L657.9 732.3 L660.6 732.9 L663.2 733.4 L665.9 734 L668.5 734.5 L671.2 735 L673.8 735.4 L676.5 735.8 L679.1 736.2 L681.8 736.5 L684.4 736.8 L687.1 737.1 L689.7 737.3 L692.4 737.4 L695 737.5 L697.7 737.6 L700.3 737.5 L703 737.5 L705.6 737.3 L708.3 737.1 L710.9 736.9 L713.6 736.6 L716.2 736.2 L718.9 735.7 L721.5 735.2 L724.2 734.6 L726.8 734 L729.5 733.2 L732.1 732.5 L734.8 731.6 L737.4 730.7 L740.1 729.8 L742.7 728.7 L745.4 727.6 L748 726.5 L750.7 725.3 L753.3 724 L756 722.8 L758.6 721.4 L761.3 720 L763.9 718.6 L766.6 717.1 L769.2 715.6 L771.9 714.1 L774.5 712.5 L777.2 711 L779.8 709.4 L782.5 707.7 L785.1 706.1 L787.8 704.5 L790.4 702.9 L793.1 701.3 L795.7 699.7 L798.4 698.1 L801 696.5 L803.7 694.9 L806.3 693.4 L809 691.9 L811.6 690.5 L814.3 689.1 L816.9 687.7 L819.6 686.4 L822.2 685.2 L824.9 684 L827.5 682.9 L830.2 681.9 L832.8 680.9 L835.5 680 L838.1 679.2 L840.8 678.5 L843.4 677.9 L846.1 677.4 L848.7 676.9 L851.4 676.6 L854 676.3 L856.7 676.2 L859.3 676.2 L862 676.3 L864.6 676.4 L867.3 676.7 L869.9 677.1 L872.6 677.6 L875.2 678.3 L877.9 679 L880.5 679.8 L883.2 680.8 L885.8 681.8 L888.5 683 L891.1 684.2 L893.8 685.6 L896.4 687 L899.1 688.6 L901.7 690.2 L904.4 692 L907 693.8 L909.7 695.7 L912.3 697.7 L915 699.8 L917.6 701.9 L920.3 704.1 L922.9 706.4 L925.6 708.8 L928.2 711.1 L930.9 713.6 L933.5 716.1 L936.2 718.6 L938.8 721.2 L941.5 723.8 L944.1 726.5 L946.8 729.1 L949.4 731.8 L952.1 734.5 L954.7 737.2 L957.4 740 L960 742.7 L962.7 745.4 L965.3 748.1 L968 750.8 L970.6 753.5 L973.3 756.1 L975.9 758.8 L978.6 761.4 L981.2 764 L983.9 766.5 L986.5 769 L989.2 771.5 L991.8 773.9 L994.5 776.2 L997.1 778.5 L999.8 780.8 L1002.4 783 L1005.1 785.1 L1007.7 787.2 L1010.4 789.2 L1013 791.1 L1015.7 793 L1018.3 794.8 L1021 796.5 L1023.6 798.1 L1026.3 799.7 L1028.9 801.2 L1031.6 802.6 L1034.2 803.9 L1036.9 805.1 L1039.5 806.3 L1042.2 807.4 L1044.8 808.4 L1047.5 809.3 L1050.1 810.1 L1052.8 810.8 L1055.4 811.4 L1058.1 812 L1060.7 812.5 L1063.4 812.8 L1066 813.1 L1068.7 813.3 L1071.3 813.4 L1074 813.4 L1076.6 813.4 L1079.2 813.2 L1081.9 812.9 L1084.5 812.6 L1087.2 812.2 L1089.8 811.7 L1092.5 811.1 L1095.1 810.4 L1097.8 809.6 L1100.4 808.8 L1103.1 807.8 L1105.7 806.8 L1108.4 805.7 L1111 804.5 L1113.7 803.2 L1116.3 801.9 L1119 800.5 L1121.6 799 L1124.3 797.4 L1126.9 795.8 L1129.6 794.1 L1132.2 792.3 L1134.9 790.4 L1137.5 788.5 L1140.2 786.5 L1142.8 784.5 L1145.5 782.4 L1148.1 780.2 L1150.8 778 L1153.4 775.7 L1156.1 773.4 L1158.7 771 L1161.4 768.6 L1164 766.1 L1166.7 763.6 L1169.3 761.1 L1172 758.5 L1174.6 755.9 L1177.3 753.2 L1179.9 750.6 L1182.6 747.9 L1185.2 745.2 L1187.9 742.5 L1190.5 739.7 L1193.2 737 L1195.8 734.2 L1198.5 731.5 L1201.1 728.8 L1203.8 726 L1206.4 723.3 L1209.1 720.6 L1211.7 717.9 L1214.4 715.2 L1217 712.5 L1219.7 709.9 L1222.3 707.3 L1225 704.7 L1227.6 702.2 L1230.3 699.8 L1232.9 697.3 L1235.6 695 L1238.2 692.6 L1240.9 690.4 L1243.5 688.2 L1246.2 686.1 L1248.8 684 L1251.5 682 L1254.1 680.1 L1256.8 678.3 L1259.4 676.6 L1262.1 675 L1264.7 673.4 L1267.4 671.9 L1270 670.6 L1272.7 669.3 L1275.3 668.2 L1278 667.1 L1280.6 666.2 L1283.3 665.4 L1285.9 664.6 L1288.6 664 L1291.2 663.5 L1293.9 663.2 L1296.5 662.9 L1299.2 662.8 L1301.8 662.8 L1304.5 662.9 L1307.1 663.1 L1309.8 663.4 L1312.4 663.9 L1315.1 664.5 L1317.7 665.2 L1320.4 666 L1323 667 L1325.7 668.1 L1328.3 669.3 L1331 670.5 L1333.6 672 L1336.3 673.5 L1338.9 675.1 L1341.6 676.9 L1344.2 678.7 L1346.9 680.6 L1349.5 682.7 L1352.2 684.8 L1354.8 687 L1357.5 689.3 L1360.1 691.7 L1362.8 694.2 L1365.4 696.7 L1368.1 699.3 L1370.7 702 L1373.4 704.7 L1376 707.5 L1378.7 710.4 L1381.3 713.3 L1384 716.2 L1386.6 719.2 L1389.3 722.2 L1391.9 725.3 L1394.6 728.3 L1397.2 731.4 L1399.9 734.5 L1402.5 737.7 L1405.2 740.8 L1407.8 743.9 L1410.5 747 L1413.1 750.1 L1415.8 753.2 L1418.4 756.3 L1421.1 759.4 L1423.7 762.4 L1426.4 765.5 L1429 768.4 L1431.7 771.4 L1434.3 774.3 L1437 777.2 L1439.6 780 L1442.3 782.8 L1444.9 785.6 L1447.6 788.3 L1450.2 790.9 L1452.9 793.5 L1455.5 796.1 L1458.2 798.5 L1460.8 801 L1463.5 803.3 L1466.1 805.6 L1468.8 807.9 L1471.4 810.1 L1474.1 812.2 L1476.7 814.2 L1479.4 816.2 L1482 818.2 L1484.7 820 L1487.3 821.8 L1490 823.6 L1492.6 825.2 L1495.3 826.9 L1497.9 828.4 L1500.6 829.9 L1503.2 831.3 L1505.9 832.7 L1508.5 834 L1511.2 835.3 L1513.8 836.5 L1516.5 837.7 L1519.1 838.8 L1521.8 839.8 L1524.4 840.8 L1527.1 841.8 L1529.7 842.7" fill="none" stroke="#000" stroke-width="2.85" stroke-linejoin="round"/>
<path d="M175.7 849.6 L178.3 849.3 L181 848.9 L183.6 848.5 L186.3 848.1 L188.9 847.7 L191.6 847.3 L194.2 846.8 L196.9 846.4 L199.5 845.9 L202.2 845.4 L204.8 844.9 L207.5 844.4 L210.1 843.9 L212.8 843.3 L215.4 842.8 L218.1 842.2 L220.7 841.6 L223.4 841 L226 840.4 L228.7 839.8 L231.3 839.2 L234 838.5 L236.6 837.9 L239.3 837.2 L241.9 836.6 L244.6 835.9 L247.2 835.2 L249.9 834.5 L252.5 833.8 L255.2 833.1 L257.8 832.3 L260.5 831.6 L263.1 830.9 L265.8 830.1 L268.4 829.4 L271.1 828.6 L273.7 827.9 L276.4 827.1 L279 826.4 L281.7 825.6 L284.3 824.8 L287 824.1 L289.6 823.3 L292.3 822.5 L294.9 821.7 L297.6 821 L300.2 820.2 L302.9 819.4 L305.5 818.7 L308.2 817.9 L310.8 817.1 L313.5 816.4 L316.1 815.6 L318.8 814.8 L321.4 814.1 L324.1 813.3 L326.7 812.6 L329.4 811.8 L332 811.1 L334.7 810.3 L337.3 809.6 L340 808.8 L342.6 808.1 L345.3 807.3 L347.9 806.6 L350.6 805.8 L353.2 805.1 L355.9 804.3 L358.5 803.6 L361.2 802.8 L363.8 802.1 L366.5 801.3 L369.1 800.5 L371.8 799.8 L374.4 799 L377.1 798.2 L379.7 797.4 L382.4 796.6 L385 795.8 L387.7 794.9 L390.3 794.1 L393 793.2 L395.6 792.4 L398.3 791.5 L400.9 790.6 L403.6 789.7 L406.2 788.7 L408.9 787.8 L411.5 786.8 L414.2 785.9 L416.8 784.9 L419.5 783.8 L422.1 782.8 L424.8 781.7 L427.4 780.7 L430.1 779.6 L432.7 778.5 L435.4 777.3 L438 776.2 L440.7 775 L443.3 773.8 L446 772.6 L448.6 771.4 L451.3 770.2 L453.9 769 L456.6 767.7 L459.2 766.4 L461.9 765.1 L464.5 763.9 L467.2 762.6 L469.8 761.3 L472.5 760 L475.1 758.6 L477.8 757.3 L480.4 756 L483.1 754.7 L485.7 753.4 L488.4 752.1 L491 750.8 L493.7 749.6 L496.3 748.3 L499 747 L501.6 745.8 L504.3 744.6 L506.9 743.4 L509.6 742.3 L512.2 741.1 L514.9 740 L517.5 739 L520.2 738 L522.8 737 L525.5 736 L528.1 735.1 L530.8 734.2 L533.4 733.4 L536.1 732.7 L538.7 731.9 L541.4 731.3 L544 730.7 L546.7 730.1 L549.3 729.6 L552 729.2 L554.6 728.8 L557.3 728.5 L559.9 728.3 L562.6 728.1 L565.2 728 L567.9 728 L570.5 728 L573.2 728.1 L575.8 728.2 L578.5 728.5 L581.1 728.8 L583.8 729.2 L586.4 729.6 L589.1 730.1 L591.7 730.7 L594.4 731.4 L597 732.1 L599.7 732.9 L602.3 733.8 L605 734.7 L607.6 735.7 L610.3 736.7 L612.9 737.9 L615.6 739 L618.2 740.3 L620.9 741.6 L623.5 742.9 L626.2 744.3 L628.8 745.8 L631.4 747.3 L634.1 748.8 L636.7 750.4 L639.4 752.1 L642 753.7 L644.7 755.5 L647.3 757.2 L650 759 L652.6 760.8 L655.3 762.6 L657.9 764.5 L660.6 766.4 L663.2 768.3 L665.9 770.2 L668.5 772.1 L671.2 774 L673.8 776 L676.5 777.9 L679.1 779.9 L681.8 781.8 L684.4 783.8 L687.1 785.7 L689.7 787.6 L692.4 789.5 L695 791.4 L697.7 793.3 L700.3 795.2 L703 797 L705.6 798.8 L708.3 800.6 L710.9 802.4 L713.6 804.1 L716.2 805.9 L718.9 807.5 L721.5 809.2 L724.2 810.8 L726.8 812.3 L729.5 813.9 L732.1 815.4 L734.8 816.8 L737.4 818.2 L740.1 819.6 L742.7 820.9 L745.4 822.2 L748 823.4 L750.7 824.6 L753.3 825.8 L756 826.9 L758.6 827.9 L761.3 828.9 L763.9 829.9 L766.6 830.8 L769.2 831.7 L771.9 832.5 L774.5 833.3 L777.2 834.1 L779.8 834.8 L782.5 835.4 L785.1 836 L787.8 836.6 L790.4 837.1 L793.1 837.6 L795.7 838 L798.4 838.5 L801 838.8 L803.7 839.2 L806.3 839.5 L809 839.7 L811.6 840 L814.3 840.2 L816.9 840.3 L819.6 840.5 L822.2 840.6 L824.9 840.7 L827.5 840.7 L830.2 840.8 L832.8 840.8 L835.5 840.7 L838.1 840.7 L840.8 840.7 L843.4 840.6 L846.1 840.5 L848.7 840.4 L851.4 840.3 L854 840.1 L856.7 840 L859.3 839.8 L862 839.7 L864.6 839.5 L867.3 839.3 L869.9 839.2 L872.6 839 L875.2 838.8 L877.9 838.6 L880.5 838.4 L883.2 838.2 L885.8 838 L888.5 837.8 L891.1 837.6 L893.8 837.4 L896.4 837.3 L899.1 837.1 L901.7 836.9 L904.4 836.8 L907 836.6 L909.7 836.5 L912.3 836.3 L915 836.2 L917.6 836.1 L920.3 836 L922.9 835.9 L925.6 835.8 L928.2 835.7 L930.9 835.6 L933.5 835.6 L936.2 835.5 L938.8 835.5 L941.5 835.5 L944.1 835.5 L946.8 835.5 L949.4 835.5 L952.1 835.5 L954.7 835.5 L957.4 835.6 L960 835.6 L962.7 835.6 L965.3 835.7 L968 835.8 L970.6 835.8 L973.3 835.9 L975.9 836 L978.6 836 L981.2 836.1 L983.9 836.2 L986.5 836.3 L989.2 836.3 L991.8 836.4 L994.5 836.5 L997.1 836.5 L999.8 836.6 L1002.4 836.6 L1005.1 836.6 L1007.7 836.6 L1010.4 836.7 L1013 836.6 L1015.7 836.6 L1018.3 836.6 L1021 836.5 L1023.6 836.4 L1026.3 836.3 L1028.9 836.2 L1031.6 836 L1034.2 835.8 L1036.9 835.6 L1039.5 835.4 L1042.2 835.1 L1044.8 834.8 L1047.5 834.5 L1050.1 834.1 L1052.8 833.7 L1055.4 833.3 L1058.1 832.8 L1060.7 832.2 L1063.4 831.7 L1066 831.1 L1068.7 830.4 L1071.3 829.7 L1074 828.9 L1076.6 828.1 L1079.2 827.3 L1081.9 826.4 L1084.5 825.5 L1087.2 824.5 L1089.8 823.4 L1092.5 822.3 L1095.1 821.2 L1097.8 820 L1100.4 818.7 L1103.1 817.4 L1105.7 816.1 L1108.4 814.6 L1111 813.2 L1113.7 811.7 L1116.3 810.1 L1119 808.4 L1121.6 806.8 L1124.3 805 L1126.9 803.3 L1129.6 801.4 L1132.2 799.5 L1134.9 797.6 L1137.5 795.6 L1140.2 793.6 L1142.8 791.5 L1145.5 789.4 L1148.1 787.3 L1150.8 785.1 L1153.4 782.8 L1156.1 780.6 L1158.7 778.3 L1161.4 775.9 L1164 773.5 L1166.7 771.1 L1169.3 768.7 L1172 766.3 L1174.6 763.8 L1177.3 761.3 L1179.9 758.8 L1182.6 756.2 L1185.2 753.7 L1187.9 751.1 L1190.5 748.6 L1193.2 746 L1195.8 743.4 L1198.5 740.9 L1201.1 738.3 L1203.8 735.8 L1206.4 733.3 L1209.1 730.7 L1211.7 728.2 L1214.4 725.8 L1217 723.3 L1219.7 720.9 L1222.3 718.5 L1225 716.2 L1227.6 713.9 L1230.3 711.6 L1232.9 709.4 L1235.6 707.2 L1238.2 705.1 L1240.9 703 L1243.5 701 L1246.2 699.1 L1248.8 697.3 L1251.5 695.5 L1254.1 693.7 L1256.8 692.1 L1259.4 690.5 L1262.1 689.1 L1264.7 687.7 L1267.4 686.4 L1270 685.2 L1272.7 684.1 L1275.3 683 L1278 682.1 L1280.6 681.3 L1283.3 680.6 L1285.9 680 L1288.6 679.5 L1291.2 679.1 L1293.9 678.8 L1296.5 678.6 L1299.2 678.5 L1301.8 678.6 L1304.5 678.7 L1307.1 679 L1309.8 679.4 L1312.4 679.9 L1315.1 680.5 L1317.7 681.2 L1320.4 682 L1323 683 L1325.7 684 L1328.3 685.2 L1331 686.4 L1333.6 687.8 L1336.3 689.3 L1338.9 690.8 L1341.6 692.5 L1344.2 694.3 L1346.9 696.1 L1349.5 698 L1352.2 700.1 L1354.8 702.2 L1357.5 704.3 L1360.1 706.6 L1362.8 708.9 L1365.4 711.3 L1368.1 713.8 L1370.7 716.3 L1373.4 718.9 L1376 721.5 L1378.7 724.1 L1381.3 726.9 L1384 729.6 L1386.6 732.4 L1389.3 735.2 L1391.9 738 L1394.6 740.9 L1397.2 743.7 L1399.9 746.6 L1402.5 749.5 L1405.2 752.4 L1407.8 755.3 L1410.5 758.2 L1413.1 761 L1415.8 763.9 L1418.4 766.7 L1421.1 769.6 L1423.7 772.4 L1426.4 775.1 L1429 777.9 L1431.7 780.6 L1434.3 783.3 L1437 785.9 L1439.6 788.5 L1442.3 791 L1444.9 793.6 L1447.6 796 L1450.2 798.4 L1452.9 800.8 L1455.5 803.1 L1458.2 805.3 L1460.8 807.5 L1463.5 809.7 L1466.1 811.7 L1468.8 813.8 L1471.4 815.7 L1474.1 817.6 L1476.7 819.5 L1479.4 821.3 L1482 823 L1484.7 824.7 L1487.3 826.3 L1490 827.8 L1492.6 829.3 L1495.3 830.8 L1497.9 832.2 L1500.6 833.5 L1503.2 834.8 L1505.9 836 L1508.5 837.1 L1511.2 838.3 L1513.8 839.3 L1516.5 840.4 L1519.1 841.3 L1521.8 842.2 L1524.4 843.1 L1527.1 844 L1529.7 844.8 L1529.7 844.8 L1527.1 844 L1524.4 843.1 L1521.8 842.2 L1519.1 841.3 L1516.5 840.4 L1513.8 839.3 L1511.2 838.3 L1508.5 837.1 L1505.9 836 L1503.2 834.8 L1500.6 833.5 L1497.9 832.2 L1495.3 830.8 L1492.6 829.3 L1490 827.8 L1487.3 826.3 L1484.7 824.7 L1482 823 L1479.4 821.3 L1476.7 819.5 L1474.1 817.6 L1471.4 815.7 L1468.8 813.8 L1466.1 811.7 L1463.5 809.7 L1460.8 807.5 L1458.2 805.3 L1455.5 803.1 L1452.9 800.8 L1450.2 798.4 L1447.6 796 L1444.9 793.6 L1442.3 791 L1439.6 788.5 L1437 785.9 L1434.3 783.3 L1431.7 780.6 L1429 777.9 L1426.4 775.1 L1423.7 772.4 L1421.1 769.6 L1418.4 766.7 L1415.8 763.9 L1413.1 761 L1410.5 758.2 L1407.8 755.3 L1405.2 752.4 L1402.5 749.5 L1399.9 746.6 L1397.2 743.7 L1394.6 740.9 L1391.9 738 L1389.3 735.2 L1386.6 732.4 L1384 729.6 L1381.3 726.9 L1378.7 724.1 L1376 721.5 L1373.4 718.9 L1370.7 716.3 L1368.1 713.8 L1365.4 711.3 L1362.8 708.9 L1360.1 706.6 L1357.5 704.3 L1354.8 702.2 L1352.2 700.1 L1349.5 698 L1346.9 696.1 L1344.2 694.3 L1341.6 692.5 L1338.9 690.8 L1336.3 689.3 L1333.6 687.8 L1331 686.4 L1328.3 685.2 L1325.7 684 L1323 683 L1320.4 682 L1317.7 681.2 L1315.1 680.5 L1312.4 679.9 L1309.8 679.4 L1307.1 679 L1304.5 678.7 L1301.8 678.6 L1299.2 678.5 L1296.5 678.6 L1293.9 678.8 L1291.2 679.1 L1288.6 679.5 L1285.9 680 L1283.3 680.6 L1280.6 681.3 L1278 682.1 L1275.3 683.1 L1272.7 684.1 L1270 685.2 L1267.4 686.4 L1264.7 687.7 L1262.1 689.1 L1259.4 690.6 L1256.8 692.2 L1254.1 693.8 L1251.5 695.5 L1248.8 697.3 L1246.2 699.2 L1243.5 701.1 L1240.9 703.1 L1238.2 705.2 L1235.6 707.3 L1232.9 709.5 L1230.3 711.7 L1227.6 714 L1225 716.3 L1222.3 718.7 L1219.7 721.1 L1217 723.5 L1214.4 726 L1211.7 728.5 L1209.1 731 L1206.4 733.5 L1203.8 736.1 L1201.1 738.7 L1198.5 741.2 L1195.8 743.8 L1193.2 746.4 L1190.5 749 L1187.9 751.6 L1185.2 754.2 L1182.6 756.8 L1179.9 759.4 L1177.3 761.9 L1174.6 764.5 L1172 767 L1169.3 769.5 L1166.7 772 L1164 774.5 L1161.4 776.9 L1158.7 779.4 L1156.1 781.7 L1153.4 784.1 L1150.8 786.4 L1148.1 788.7 L1145.5 791 L1142.8 793.2 L1140.2 795.4 L1137.5 797.5 L1134.9 799.6 L1132.2 801.7 L1129.6 803.7 L1126.9 805.6 L1124.3 807.6 L1121.6 809.5 L1119 811.3 L1116.3 813.1 L1113.7 814.8 L1111 816.5 L1108.4 818.2 L1105.7 819.8 L1103.1 821.4 L1100.4 822.9 L1097.8 824.3 L1095.1 825.8 L1092.5 827.2 L1089.8 828.5 L1087.2 829.8 L1084.5 831 L1081.9 832.2 L1079.2 833.4 L1076.6 834.5 L1074 835.6 L1071.3 836.6 L1068.7 837.6 L1066 838.6 L1063.4 839.5 L1060.7 840.4 L1058.1 841.2 L1055.4 842.1 L1052.8 842.8 L1050.1 843.6 L1047.5 844.3 L1044.8 845 L1042.2 845.6 L1039.5 846.2 L1036.9 846.8 L1034.2 847.4 L1031.6 847.9 L1028.9 848.4 L1026.3 848.9 L1023.6 849.4 L1021 849.8 L1018.3 850.2 L1015.7 850.6 L1013 851 L1010.4 851.3 L1007.7 851.6 L1005.1 852 L1002.4 852.2 L999.8 852.5 L997.1 852.8 L994.5 853 L991.8 853.3 L989.2 853.5 L986.5 853.7 L983.9 853.9 L981.2 854.1 L978.6 854.2 L975.9 854.4 L973.3 854.6 L970.6 854.7 L968 854.8 L965.3 855 L962.7 855.1 L960 855.2 L957.4 855.3 L954.7 855.4 L952.1 855.5 L949.4 855.6 L946.8 855.6 L944.1 855.7 L941.5 855.8 L938.8 855.8 L936.2 855.9 L933.5 855.9 L930.9 856 L928.2 856 L925.6 856.1 L922.9 856.1 L920.3 856.2 L917.6 856.2 L915 856.2 L912.3 856.3 L909.7 856.3 L907 856.3 L904.4 856.3 L901.7 856.4 L899.1 856.4 L896.4 856.4 L893.8 856.4 L891.1 856.4 L888.5 856.4 L885.8 856.5 L883.2 856.5 L880.5 856.5 L877.9 856.5 L875.2 856.5 L872.6 856.5 L869.9 856.5 L867.3 856.5 L864.6 856.5 L862 856.5 L859.3 856.5 L856.7 856.5 L854 856.6 L851.4 856.6 L848.7 856.6 L846.1 856.6 L843.4 856.6 L840.8 856.6 L838.1 856.6 L835.5 856.6 L832.8 856.6 L830.2 856.6 L827.5 856.6 L824.9 856.6 L822.2 856.6 L819.6 856.6 L816.9 856.6 L814.3 856.6 L811.6 856.6 L809 856.6 L806.3 856.6 L803.7 856.6 L801 856.6 L798.4 856.6 L795.7 856.6 L793.1 856.6 L790.4 856.6 L787.8 856.6 L785.1 856.6 L782.5 856.6 L779.8 856.6 L777.2 856.6 L774.5 856.6 L771.9 856.6 L769.2 856.6 L766.6 856.6 L763.9 856.6 L761.3 856.6 L758.6 856.6 L756 856.6 L753.3 856.6 L750.7 856.6 L748 856.6 L745.4 856.6 L742.7 856.6 L740.1 856.6 L737.4 856.6 L734.8 856.6 L732.1 856.6 L729.5 856.6 L726.8 856.6 L724.2 856.6 L721.5 856.6 L718.9 856.6 L716.2 856.6 L713.6 856.6 L710.9 856.6 L708.3 856.6 L705.6 856.6 L703 856.6 L700.3 856.6 L697.7 856.6 L695 856.6 L692.4 856.6 L689.7 856.6 L687.1 856.6 L684.4 856.6 L681.8 856.6 L679.1 856.6 L676.5 856.6 L673.8 856.6 L671.2 856.6 L668.5 856.6 L665.9 856.6 L663.2 856.6 L660.6 856.6 L657.9 856.6 L655.3 856.6 L652.6 856.6 L650 856.6 L647.3 856.6 L644.7 856.6 L642 856.6 L639.4 856.6 L636.7 856.6 L634.1 856.6 L631.4 856.6 L628.8 856.6 L626.2 856.6 L623.5 856.6 L620.9 856.6 L618.2 856.6 L615.6 856.6 L612.9 856.6 L610.3 856.6 L607.6 856.6 L605 856.6 L602.3 856.6 L599.7 856.6 L597 856.6 L594.4 856.6 L591.7 856.6 L589.1 856.6 L586.4 856.6 L583.8 856.6 L581.1 856.6 L578.5 856.6 L575.8 856.6 L573.2 856.6 L570.5 856.6 L567.9 856.6 L565.2 856.6 L562.6 856.6 L559.9 856.6 L557.3 856.6 L554.6 856.6 L552 856.6 L549.3 856.6 L546.7 856.6 L544 856.6 L541.4 856.6 L538.7 856.6 L536.1 856.6 L533.4 856.6 L530.8 856.6 L528.1 856.6 L525.5 856.6 L522.8 856.6 L520.2 856.6 L517.5 856.6 L514.9 856.6 L512.2 856.6 L509.6 856.6 L506.9 856.6 L504.3 856.6 L501.6 856.6 L499 856.6 L496.3 856.6 L493.7 856.6 L491 856.6 L488.4 856.6 L485.7 856.6 L483.1 856.6 L480.4 856.6 L477.8 856.6 L475.1 856.6 L472.5 856.6 L469.8 856.6 L467.2 856.6 L464.5 856.6 L461.9 856.6 L459.2 856.6 L456.6 856.6 L453.9 856.6 L451.3 856.6 L448.6 856.6 L446 856.6 L443.3 856.6 L440.7 856.6 L438 856.6 L435.4 856.6 L432.7 856.6 L430.1 856.6 L427.4 856.6 L424.8 856.6 L422.1 856.6 L419.5 856.6 L416.8 856.6 L414.2 856.6 L411.5 856.6 L408.9 856.6 L406.2 856.6 L403.6 856.6 L400.9 856.6 L398.3 856.6 L395.6 856.6 L393 856.6 L390.3 856.6 L387.7 856.6 L385 856.6 L382.4 856.6 L379.7 856.6 L377.1 856.6 L374.4 856.6 L371.8 856.6 L369.1 856.6 L366.5 856.6 L363.8 856.6 L361.2 856.6 L358.5 856.6 L355.9 856.6 L353.2 856.6 L350.6 856.6 L347.9 856.6 L345.3 856.6 L342.6 856.6 L340 856.6 L337.3 856.6 L334.7 856.6 L332 856.6 L329.4 856.6 L326.7 856.6 L324.1 856.6 L321.4 856.6 L318.8 856.6 L316.1 856.6 L313.5 856.6 L310.8 856.6 L308.2 856.6 L305.5 856.6 L302.9 856.6 L300.2 856.6 L297.6 856.6 L294.9 856.6 L292.3 856.6 L289.6 856.6 L287 856.6 L284.3 856.6 L281.7 856.6 L279 856.6 L276.4 856.6 L273.7 856.6 L271.1 856.6 L268.4 856.6 L265.8 856.6 L263.1 856.6 L260.5 856.6 L257.8 856.6 L255.2 856.6 L252.5 856.6 L249.9 856.6 L247.2 856.6 L244.6 856.6 L241.9 856.6 L239.3 856.6 L236.6 856.6 L234 856.6 L231.3 856.6 L228.7 856.6 L226 856.6 L223.4 856.6 L220.7 856.6 L218.1 856.6 L215.4 856.6 L212.8 856.6 L210.1 856.6 L207.5 856.6 L204.8 856.6 L202.2 856.6 L199.5 856.6 L196.9 856.6 L194.2 856.6 L191.6 856.6 L188.9 856.6 L186.3 856.6 L183.6 856.6 L181 856.6 L178.3 856.6 L175.7 856.6Z" fill="#149CF5" fill-opacity="0.2" stroke="none"/>
<path d="M175.7 849.6 L178.3 849.3 L181 848.9 L183.6 848.5 L186.3 848.1 L188.9 847.7 L191.6 847.3 L194.2 846.8 L196.9 846.4 L199.5 845.9 L202.2 845.4 L204.8 844.9 L207.5 844.4 L210.1 843.9 L212.8 843.3 L215.4 842.8 L218.1 842.2 L220.7 841.6 L223.4 841 L226 840.4 L228.7 839.8 L231.3 839.2 L234 838.5 L236.6 837.9 L239.3 837.2 L241.9 836.6 L244.6 835.9 L247.2 835.2 L249.9 834.5 L252.5 833.8 L255.2 833.1 L257.8 832.3 L260.5 831.6 L263.1 830.9 L265.8 830.1 L268.4 829.4 L271.1 828.6 L273.7 827.9 L276.4 827.1 L279 826.4 L281.7 825.6 L284.3 824.8 L287 824.1 L289.6 823.3 L292.3 822.5 L294.9 821.7 L297.6 821 L300.2 820.2 L302.9 819.4 L305.5 818.7 L308.2 817.9 L310.8 817.1 L313.5 816.4 L316.1 815.6 L318.8 814.8 L321.4 814.1 L324.1 813.3 L326.7 812.6 L329.4 811.8 L332 811.1 L334.7 810.3 L337.3 809.6 L340 808.8 L342.6 808.1 L345.3 807.3 L347.9 806.6 L350.6 805.8 L353.2 805.1 L355.9 804.3 L358.5 803.6 L361.2 802.8 L363.8 802.1 L366.5 801.3 L369.1 800.5 L371.8 799.8 L374.4 799 L377.1 798.2 L379.7 797.4 L382.4 796.6 L385 795.8 L387.7 794.9 L390.3 794.1 L393 793.2 L395.6 792.4 L398.3 791.5 L400.9 790.6 L403.6 789.7 L406.2 788.7 L408.9 787.8 L411.5 786.8 L414.2 785.9 L416.8 784.9 L419.5 783.8 L422.1 782.8 L424.8 781.7 L427.4 780.7 L430.1 779.6 L432.7 778.5 L435.4 777.3 L438 776.2 L440.7 775 L443.3 773.8 L446 772.6 L448.6 771.4 L451.3 770.2 L453.9 769 L456.6 767.7 L459.2 766.4 L461.9 765.1 L464.5 763.9 L467.2 762.6 L469.8 761.3 L472.5 760 L475.1 758.6 L477.8 757.3 L480.4 756 L483.1 754.7 L485.7 753.4 L488.4 752.1 L491 750.8 L493.7 749.6 L496.3 748.3 L499 747 L501.6 745.8 L504.3 744.6 L506.9 743.4 L509.6 742.3 L512.2 741.1 L514.9 740 L517.5 739 L520.2 738 L522.8 737 L525.5 736 L528.1 735.1 L530.8 734.2 L533.4 733.4 L536.1 732.7 L538.7 731.9 L541.4 731.3 L544 730.7 L546.7 730.1 L549.3 729.6 L552 729.2 L554.6 728.8 L557.3 728.5 L559.9 728.3 L562.6 728.1 L565.2 728 L567.9 728 L570.5 728 L573.2 728.1 L575.8 728.2 L578.5 728.5 L581.1 728.8 L583.8 729.2 L586.4 729.6 L589.1 730.1 L591.7 730.7 L594.4 731.4 L597 732.1 L599.7 732.9 L602.3 733.8 L605 734.7 L607.6 735.7 L610.3 736.7 L612.9 737.9 L615.6 739 L618.2 740.3 L620.9 741.6 L623.5 742.9 L626.2 744.3 L628.8 745.8 L631.4 747.3 L634.1 748.8 L636.7 750.4 L639.4 752.1 L642 753.7 L644.7 755.5 L647.3 757.2 L650 759 L652.6 760.8 L655.3 762.6 L657.9 764.5 L660.6 766.4 L663.2 768.3 L665.9 770.2 L668.5 772.1 L671.2 774 L673.8 776 L676.5 777.9 L679.1 779.9 L681.8 781.8 L684.4 783.8 L687.1 785.7 L689.7 787.6 L692.4 789.5 L695 791.4 L697.7 793.3 L700.3 795.2 L703 797 L705.6 798.8 L708.3 800.6 L710.9 802.4 L713.6 804.1 L716.2 805.9 L718.9 807.5 L721.5 809.2 L724.2 810.8 L726.8 812.3 L729.5 813.9 L732.1 815.4 L734.8 816.8 L737.4 818.2 L740.1 819.6 L742.7 820.9 L745.4 822.2 L748 823.4 L750.7 824.6 L753.3 825.8 L756 826.9 L758.6 827.9 L761.3 828.9 L763.9 829.9 L766.6 830.8 L769.2 831.7 L771.9 832.5 L774.5 833.3 L777.2 834.1 L779.8 834.8 L782.5 835.4 L785.1 836 L787.8 836.6 L790.4 837.1 L793.1 837.6 L795.7 838 L798.4 838.5 L801 838.8 L803.7 839.2 L806.3 839.5 L809 839.7 L811.6 840 L814.3 840.2 L816.9 840.3 L819.6 840.5 L822.2 840.6 L824.9 840.7 L827.5 840.7 L830.2 840.8 L832.8 840.8 L835.5 840.7 L838.1 840.7 L840.8 840.7 L843.4 840.6 L846.1 840.5 L848.7 840.4 L851.4 840.3 L854 840.1 L856.7 840 L859.3 839.8 L862 839.7 L864.6 839.5 L867.3 839.3 L869.9 839.2 L872.6 839 L875.2 838.8 L877.9 838.6 L880.5 838.4 L883.2 838.2 L885.8 838 L888.5 837.8 L891.1 837.6 L893.8 837.4 L896.4 837.3 L899.1 837.1 L901.7 836.9 L904.4 836.8 L907 836.6 L909.7 836.5 L912.3 836.3 L915 836.2 L917.6 836.1 L920.3 836 L922.9 835.9 L925.6 835.8 L928.2 835.7 L930.9 835.6 L933.5 835.6 L936.2 835.5 L938.8 835.5 L941.5 835.5 L944.1 835.5 L946.8 835.5 L949.4 835.5 L952.1 835.5 L954.7 835.5 L957.4 835.6 L960 835.6 L962.7 835.6 L965.3 835.7 L968 835.8 L970.6 835.8 L973.3 835.9 L975.9 836 L978.6 836 L981.2 836.1 L983.9 836.2 L986.5 836.3 L989.2 836.3 L991.8 836.4 L994.5 836.5 L997.1 836.5 L999.8 836.6 L1002.4 836.6 L1005.1 836.6 L1007.7 836.6 L1010.4 836.7 L1013 836.6 L1015.7 836.6 L1018.3 836.6 L1021 836.5 L1023.6 836.4 L1026.3 836.3 L1028.9 836.2 L1031.6 836 L1034.2 835.8 L1036.9 835.6 L1039.5 835.4 L1042.2 835.1 L1044.8 834.8 L1047.5 834.5 L1050.1 834.1 L1052.8 833.7 L1055.4 833.3 L1058.1 832.8 L1060.7 832.2 L1063.4 831.7 L1066 831.1 L1068.7 830.4 L1071.3 829.7 L1074 828.9 L1076.6 828.1 L1079.2 827.3 L1081.9 826.4 L1084.5 825.5 L1087.2 824.5 L1089.8 823.4 L1092.5 822.3 L1095.1 821.2 L1097.8 820 L1100.4 818.7 L1103.1 817.4 L1105.7 816.1 L1108.4 814.6 L1111 813.2 L1113.7 811.7 L1116.3 810.1 L1119 808.4 L1121.6 806.8 L1124.3 805 L1126.9 803.3 L1129.6 801.4 L1132.2 799.5 L1134.9 797.6 L1137.5 795.6 L1140.2 793.6 L1142.8 791.5 L1145.5 789.4 L1148.1 787.3 L1150.8 785.1 L1153.4 782.8 L1156.1 780.6 L1158.7 778.3 L1161.4 775.9 L1164 773.5 L1166.7 771.1 L1169.3 768.7 L1172 766.3 L1174.6 763.8 L1177.3 761.3 L1179.9 758.8 L1182.6 756.2 L1185.2 753.7 L1187.9 751.1 L1190.5 748.6 L1193.2 746 L1195.8 743.4 L1198.5 740.9 L1201.1 738.3 L1203.8 735.8 L1206.4 733.3 L1209.1 730.7 L1211.7 728.2 L1214.4 725.8 L1217 723.3 L1219.7 720.9 L1222.3 718.5 L1225 716.2 L1227.6 713.9 L1230.3 711.6 L1232.9 709.4 L1235.6 707.2 L1238.2 705.1 L1240.9 703 L1243.5 701 L1246.2 699.1 L1248.8 697.3 L1251.5 695.5 L1254.1 693.7 L1256.8 692.1 L1259.4 690.5 L1262.1 689.1 L1264.7 687.7 L1267.4 686.4 L1270 685.2 L1272.7 684.1 L1275.3 683 L1278 682.1 L1280.6 681.3 L1283.3 680.6 L1285.9 680 L1288.6 679.5 L1291.2 679.1 L1293.9 678.8 L1296.5 678.6 L1299.2 678.5 L1301.8 678.6 L1304.5 678.7 L1307.1 679 L1309.8 679.4 L1312.4 679.9 L1315.1 680.5 L1317.7 681.2 L1320.4 682 L1323 683 L1325.7 684 L1328.3 685.2 L1331 686.4 L1333.6 687.8 L1336.3 689.3 L1338.9 690.8 L1341.6 692.5 L1344.2 694.3 L1346.9 696.1 L1349.5 698 L1352.2 700.1 L1354.8 702.2 L1357.5 704.3 L1360.1 706.6 L1362.8 708.9 L1365.4 711.3 L1368.1 713.8 L1370.7 716.3 L1373.4 718.9 L1376 721.5 L1378.7 724.1 L1381.3 726.9 L1384 729.6 L1386.6 732.4 L1389.3 735.2 L1391.9 738 L1394.6 740.9 L1397.2 743.7 L1399.9 746.6 L1402.5 749.5 L1405.2 752.4 L1407.8 755.3 L1410.5 758.2 L1413.1 761 L1415.8 763.9 L1418.4 766.7 L1421.1 769.6 L1423.7 772.4 L1426.4 775.1 L1429 777.9 L1431.7 780.6 L1434.3 783.3 L1437 785.9 L1439.6 788.5 L1442.3 791 L1444.9 793.6 L1447.6 796 L1450.2 798.4 L1452.9 800.8 L1455.5 803.1 L1458.2 805.3 L1460.8 807.5 L1463.5 809.7 L1466.1 811.7 L1468.8 813.8 L1471.4 815.7 L1474.1 817.6 L1476.7 819.5 L1479.4 821.3 L1482 823 L1484.7 824.7 L1487.3 826.3 L1490 827.8 L1492.6 829.3 L1495.3 830.8 L1497.9 832.2 L1500.6 833.5 L1503.2 834.8 L1505.9 836 L1508.5 837.1 L1511.2 838.3 L1513.8 839.3 L1516.5 840.4 L1519.1 841.3 L1521.8 842.2 L1524.4 843.1 L1527.1 844 L1529.7 844.8" fill="none" stroke="#000" stroke-width="2.85" stroke-linejoin="round"/>
<path d="M175.7 856.6 L178.3 856.6 L181 856.6 L183.6 856.6 L186.3 856.6 L188.9 856.6 L191.6 856.6 L194.2 856.6 L196.9 856.6 L199.5 856.6 L202.2 856.6 L204.8 856.6 L207.5 856.6 L210.1 856.6 L212.8 856.6 L215.4 856.6 L218.1 856.6 L220.7 856.6 L223.4 856.6 L226 856.6 L228.7 856.6 L231.3 856.6 L234 856.6 L236.6 856.6 L239.3 856.6 L241.9 856.6 L244.6 856.6 L247.2 856.6 L249.9 856.6 L252.5 856.6 L255.2 856.6 L257.8 856.6 L260.5 856.6 L263.1 856.6 L265.8 856.6 L268.4 856.6 L271.1 856.6 L273.7 856.6 L276.4 856.6 L279 856.6 L281.7 856.6 L284.3 856.6 L287 856.6 L289.6 856.6 L292.3 856.6 L294.9 856.6 L297.6 856.6 L300.2 856.6 L302.9 856.6 L305.5 856.6 L308.2 856.6 L310.8 856.6 L313.5 856.6 L316.1 856.6 L318.8 856.6 L321.4 856.6 L324.1 856.6 L326.7 856.6 L329.4 856.6 L332 856.6 L334.7 856.6 L337.3 856.6 L340 856.6 L342.6 856.6 L345.3 856.6 L347.9 856.6 L350.6 856.6 L353.2 856.6 L355.9 856.6 L358.5 856.6 L361.2 856.6 L363.8 856.6 L366.5 856.6 L369.1 856.6 L371.8 856.6 L374.4 856.6 L377.1 856.6 L379.7 856.6 L382.4 856.6 L385 856.6 L387.7 856.6 L390.3 856.6 L393 856.6 L395.6 856.6 L398.3 856.6 L400.9 856.6 L403.6 856.6 L406.2 856.6 L408.9 856.6 L411.5 856.6 L414.2 856.6 L416.8 856.6 L419.5 856.6 L422.1 856.6 L424.8 856.6 L427.4 856.6 L430.1 856.6 L432.7 856.6 L435.4 856.6 L438 856.6 L440.7 856.6 L443.3 856.6 L446 856.6 L448.6 856.6 L451.3 856.6 L453.9 856.6 L456.6 856.6 L459.2 856.6 L461.9 856.6 L464.5 856.6 L467.2 856.6 L469.8 856.6 L472.5 856.6 L475.1 856.6 L477.8 856.6 L480.4 856.6 L483.1 856.6 L485.7 856.6 L488.4 856.6 L491 856.6 L493.7 856.6 L496.3 856.6 L499 856.6 L501.6 856.6 L504.3 856.6 L506.9 856.6 L509.6 856.6 L512.2 856.6 L514.9 856.6 L517.5 856.6 L520.2 856.6 L522.8 856.6 L525.5 856.6 L528.1 856.6 L530.8 856.6 L533.4 856.6 L536.1 856.6 L538.7 856.6 L541.4 856.6 L544 856.6 L546.7 856.6 L549.3 856.6 L552 856.6 L554.6 856.6 L557.3 856.6 L559.9 856.6 L562.6 856.6 L565.2 856.6 L567.9 856.6 L570.5 856.6 L573.2 856.6 L575.8 856.6 L578.5 856.6 L581.1 856.6 L583.8 856.6 L586.4 856.6 L589.1 856.6 L591.7 856.6 L594.4 856.6 L597 856.6 L599.7 856.6 L602.3 856.6 L605 856.6 L607.6 856.6 L610.3 856.6 L612.9 856.6 L615.6 856.6 L618.2 856.6 L620.9 856.6 L623.5 856.6 L626.2 856.6 L628.8 856.6 L631.4 856.6 L634.1 856.6 L636.7 856.6 L639.4 856.6 L642 856.6 L644.7 856.6 L647.3 856.6 L650 856.6 L652.6 856.6 L655.3 856.6 L657.9 856.6 L660.6 856.6 L663.2 856.6 L665.9 856.6 L668.5 856.6 L671.2 856.6 L673.8 856.6 L676.5 856.6 L679.1 856.6 L681.8 856.6 L684.4 856.6 L687.1 856.6 L689.7 856.6 L692.4 856.6 L695 856.6 L697.7 856.6 L700.3 856.6 L703 856.6 L705.6 856.6 L708.3 856.6 L710.9 856.6 L713.6 856.6 L716.2 856.6 L718.9 856.6 L721.5 856.6 L724.2 856.6 L726.8 856.6 L729.5 856.6 L732.1 856.6 L734.8 856.6 L737.4 856.6 L740.1 856.6 L742.7 856.6 L745.4 856.6 L748 856.6 L750.7 856.6 L753.3 856.6 L756 856.6 L758.6 856.6 L761.3 856.6 L763.9 856.6 L766.6 856.6 L769.2 856.6 L771.9 856.6 L774.5 856.6 L777.2 856.6 L779.8 856.6 L782.5 856.6 L785.1 856.6 L787.8 856.6 L790.4 856.6 L793.1 856.6 L795.7 856.6 L798.4 856.6 L801 856.6 L803.7 856.6 L806.3 856.6 L809 856.6 L811.6 856.6 L814.3 856.6 L816.9 856.6 L819.6 856.6 L822.2 856.6 L824.9 856.6 L827.5 856.6 L830.2 856.6 L832.8 856.6 L835.5 856.6 L838.1 856.6 L840.8 856.6 L843.4 856.6 L846.1 856.6 L848.7 856.6 L851.4 856.6 L854 856.6 L856.7 856.5 L859.3 856.5 L862 856.5 L864.6 856.5 L867.3 856.5 L869.9 856.5 L872.6 856.5 L875.2 856.5 L877.9 856.5 L880.5 856.5 L883.2 856.5 L885.8 856.5 L888.5 856.4 L891.1 856.4 L893.8 856.4 L896.4 856.4 L899.1 856.4 L901.7 856.4 L904.4 856.3 L907 856.3 L909.7 856.3 L912.3 856.3 L915 856.2 L917.6 856.2 L920.3 856.2 L922.9 856.1 L925.6 856.1 L928.2 856 L930.9 856 L933.5 855.9 L936.2 855.9 L938.8 855.8 L941.5 855.8 L944.1 855.7 L946.8 855.6 L949.4 855.6 L952.1 855.5 L954.7 855.4 L957.4 855.3 L960 855.2 L962.7 855.1 L965.3 855 L968 854.8 L970.6 854.7 L973.3 854.6 L975.9 854.4 L978.6 854.2 L981.2 854.1 L983.9 853.9 L986.5 853.7 L989.2 853.5 L991.8 853.3 L994.5 853 L997.1 852.8 L999.8 852.5 L1002.4 852.2 L1005.1 852 L1007.7 851.6 L1010.4 851.3 L1013 851 L1015.7 850.6 L1018.3 850.2 L1021 849.8 L1023.6 849.4 L1026.3 848.9 L1028.9 848.4 L1031.6 847.9 L1034.2 847.4 L1036.9 846.8 L1039.5 846.2 L1042.2 845.6 L1044.8 845 L1047.5 844.3 L1050.1 843.6 L1052.8 842.8 L1055.4 842.1 L1058.1 841.2 L1060.7 840.4 L1063.4 839.5 L1066 838.6 L1068.7 837.6 L1071.3 836.6 L1074 835.6 L1076.6 834.5 L1079.2 833.4 L1081.9 832.2 L1084.5 831 L1087.2 829.8 L1089.8 828.5 L1092.5 827.2 L1095.1 825.8 L1097.8 824.3 L1100.4 822.9 L1103.1 821.4 L1105.7 819.8 L1108.4 818.2 L1111 816.5 L1113.7 814.8 L1116.3 813.1 L1119 811.3 L1121.6 809.5 L1124.3 807.6 L1126.9 805.6 L1129.6 803.7 L1132.2 801.7 L1134.9 799.6 L1137.5 797.5 L1140.2 795.4 L1142.8 793.2 L1145.5 791 L1148.1 788.7 L1150.8 786.4 L1153.4 784.1 L1156.1 781.7 L1158.7 779.4 L1161.4 776.9 L1164 774.5 L1166.7 772 L1169.3 769.5 L1172 767 L1174.6 764.5 L1177.3 761.9 L1179.9 759.4 L1182.6 756.8 L1185.2 754.2 L1187.9 751.6 L1190.5 749 L1193.2 746.4 L1195.8 743.8 L1198.5 741.2 L1201.1 738.7 L1203.8 736.1 L1206.4 733.5 L1209.1 731 L1211.7 728.5 L1214.4 726 L1217 723.5 L1219.7 721.1 L1222.3 718.7 L1225 716.3 L1227.6 714 L1230.3 711.7 L1232.9 709.5 L1235.6 707.3 L1238.2 705.2 L1240.9 703.1 L1243.5 701.1 L1246.2 699.2 L1248.8 697.3 L1251.5 695.5 L1254.1 693.8 L1256.8 692.2 L1259.4 690.6 L1262.1 689.1 L1264.7 687.7 L1267.4 686.4 L1270 685.2 L1272.7 684.1 L1275.3 683.1 L1278 682.1 L1280.6 681.3 L1283.3 680.6 L1285.9 680 L1288.6 679.5 L1291.2 679.1 L1293.9 678.8 L1296.5 678.6 L1299.2 678.5 L1301.8 678.6 L1304.5 678.7 L1307.1 679 L1309.8 679.4 L1312.4 679.9 L1315.1 680.5 L1317.7 681.2 L1320.4 682 L1323 683 L1325.7 684 L1328.3 685.2 L1331 686.4 L1333.6 687.8 L1336.3 689.3 L1338.9 690.8 L1341.6 692.5 L1344.2 694.3 L1346.9 696.1 L1349.5 698 L1352.2 700.1 L1354.8 702.2 L1357.5 704.3 L1360.1 706.6 L1362.8 708.9 L1365.4 711.3 L1368.1 713.8 L1370.7 716.3 L1373.4 718.9 L1376 721.5 L1378.7 724.1 L1381.3 726.9 L1384 729.6 L1386.6 732.4 L1389.3 735.2 L1391.9 738 L1394.6 740.9 L1397.2 743.7 L1399.9 746.6 L1402.5 749.5 L1405.2 752.4 L1407.8 755.3 L1410.5 758.2 L1413.1 761 L1415.8 763.9 L1418.4 766.7 L1421.1 769.6 L1423.7 772.4 L1426.4 775.1 L1429 777.9 L1431.7 780.6 L1434.3 783.3 L1437 785.9 L1439.6 788.5 L1442.3 791 L1444.9 793.6 L1447.6 796 L1450.2 798.4 L1452.9 800.8 L1455.5 803.1 L1458.2 805.3 L1460.8 807.5 L1463.5 809.7 L1466.1 811.7 L1468.8 813.8 L1471.4 815.7 L1474.1 817.6 L1476.7 819.5 L1479.4 821.3 L1482 823 L1484.7 824.7 L1487.3 826.3 L1490 827.8 L1492.6 829.3 L1495.3 830.8 L1497.9 832.2 L1500.6 833.5 L1503.2 834.8 L1505.9 836 L1508.5 837.1 L1511.2 838.3 L1513.8 839.3 L1516.5 840.4 L1519.1 841.3 L1521.8 842.2 L1524.4 843.1 L1527.1 844 L1529.7 844.8 L1529.7 856.6 L1527.1 856.6 L1524.4 856.6 L1521.8 856.6 L1519.1 856.6 L1516.5 856.6 L1513.8 856.6 L1511.2 856.6 L1508.5 856.6 L1505.9 856.6 L1503.2 856.6 L1500.6 856.6 L1497.9 856.6 L1495.3 856.6 L1492.6 856.6 L1490 856.6 L1487.3 856.6 L1484.7 856.6 L1482 856.6 L1479.4 856.6 L1476.7 856.6 L1474.1 856.6 L1471.4 856.6 L1468.8 856.6 L1466.1 856.6 L1463.5 856.6 L1460.8 856.6 L1458.2 856.6 L1455.5 856.6 L1452.9 856.6 L1450.2 856.6 L1447.6 856.6 L1444.9 856.6 L1442.3 856.6 L1439.6 856.6 L1437 856.6 L1434.3 856.6 L1431.7 856.6 L1429 856.6 L1426.4 856.6 L1423.7 856.6 L1421.1 856.6 L1418.4 856.6 L1415.8 856.6 L1413.1 856.6 L1410.5 856.6 L1407.8 856.6 L1405.2 856.6 L1402.5 856.6 L1399.9 856.6 L1397.2 856.6 L1394.6 856.6 L1391.9 856.6 L1389.3 856.6 L1386.6 856.6 L1384 856.6 L1381.3 856.6 L1378.7 856.6 L1376 856.6 L1373.4 856.6 L1370.7 856.6 L1368.1 856.6 L1365.4 856.6 L1362.8 856.6 L1360.1 856.6 L1357.5 856.6 L1354.8 856.6 L1352.2 856.6 L1349.5 856.6 L1346.9 856.6 L1344.2 856.6 L1341.6 856.6 L1338.9 856.6 L1336.3 856.6 L1333.6 856.6 L1331 856.6 L1328.3 856.6 L1325.7 856.6 L1323 856.6 L1320.4 856.6 L1317.7 856.6 L1315.1 856.6 L1312.4 856.6 L1309.8 856.6 L1307.1 856.6 L1304.5 856.6 L1301.8 856.6 L1299.2 856.6 L1296.5 856.6 L1293.9 856.6 L1291.2 856.6 L1288.6 856.6 L1285.9 856.6 L1283.3 856.6 L1280.6 856.6 L1278 856.6 L1275.3 856.6 L1272.7 856.6 L1270 856.6 L1267.4 856.6 L1264.7 856.6 L1262.1 856.6 L1259.4 856.6 L1256.8 856.6 L1254.1 856.6 L1251.5 856.6 L1248.8 856.6 L1246.2 856.6 L1243.5 856.6 L1240.9 856.6 L1238.2 856.6 L1235.6 856.6 L1232.9 856.6 L1230.3 856.6 L1227.6 856.6 L1225 856.6 L1222.3 856.6 L1219.7 856.6 L1217 856.6 L1214.4 856.6 L1211.7 856.6 L1209.1 856.6 L1206.4 856.6 L1203.8 856.6 L1201.1 856.6 L1198.5 856.6 L1195.8 856.6 L1193.2 856.6 L1190.5 856.6 L1187.9 856.6 L1185.2 856.6 L1182.6 856.6 L1179.9 856.6 L1177.3 856.6 L1174.6 856.6 L1172 856.6 L1169.3 856.6 L1166.7 856.6 L1164 856.6 L1161.4 856.6 L1158.7 856.6 L1156.1 856.6 L1153.4 856.6 L1150.8 856.6 L1148.1 856.6 L1145.5 856.6 L1142.8 856.6 L1140.2 856.6 L1137.5 856.6 L1134.9 856.6 L1132.2 856.6 L1129.6 856.6 L1126.9 856.6 L1124.3 856.6 L1121.6 856.6 L1119 856.6 L1116.3 856.6 L1113.7 856.6 L1111 856.6 L1108.4 856.6 L1105.7 856.6 L1103.1 856.6 L1100.4 856.6 L1097.8 856.6 L1095.1 856.6 L1092.5 856.6 L1089.8 856.6 L1087.2 856.6 L1084.5 856.6 L1081.9 856.6 L1079.2 856.6 L1076.6 856.6 L1074 856.6 L1071.3 856.6 L1068.7 856.6 L1066 856.6 L1063.4 856.6 L1060.7 856.6 L1058.1 856.6 L1055.4 856.6 L1052.8 856.6 L1050.1 856.6 L1047.5 856.6 L1044.8 856.6 L1042.2 856.6 L1039.5 856.6 L1036.9 856.6 L1034.2 856.6 L1031.6 856.6 L1028.9 856.6 L1026.3 856.6 L1023.6 856.6 L1021 856.6 L1018.3 856.6 L1015.7 856.6 L1013 856.6 L1010.4 856.6 L1007.7 856.6 L1005.1 856.6 L1002.4 856.6 L999.8 856.6 L997.1 856.6 L994.5 856.6 L991.8 856.6 L989.2 856.6 L986.5 856.6 L983.9 856.6 L981.2 856.6 L978.6 856.6 L975.9 856.6 L973.3 856.6 L970.6 856.6 L968 856.6 L965.3 856.6 L962.7 856.6 L960 856.6 L957.4 856.6 L954.7 856.6 L952.1 856.6 L949.4 856.6 L946.8 856.6 L944.1 856.6 L941.5 856.6 L938.8 856.6 L936.2 856.6 L933.5 856.6 L930.9 856.6 L928.2 856.6 L925.6 856.6 L922.9 856.6 L920.3 856.6 L917.6 856.6 L915 856.6 L912.3 856.6 L909.7 856.6 L907 856.6 L904.4 856.6 L901.7 856.6 L899.1 856.6 L896.4 856.6 L893.8 856.6 L891.1 856.6 L888.5 856.6 L885.8 856.6 L883.2 856.6 L880.5 856.6 L877.9 856.6 L875.2 856.6 L872.6 856.6 L869.9 856.6 L867.3 856.6 L864.6 856.6 L862 856.6 L859.3 856.6 L856.7 856.6 L854 856.6 L851.4 856.6 L848.7 856.6 L846.1 856.6 L843.4 856.6 L840.8 856.6 L838.1 856.6 L835.5 856.6 L832.8 856.6 L830.2 856.6 L827.5 856.6 L824.9 856.6 L822.2 856.6 L819.6 856.6 L816.9 856.6 L814.3 856.6 L811.6 856.6 L809 856.6 L806.3 856.6 L803.7 856.6 L801 856.6 L798.4 856.6 L795.7 856.6 L793.1 856.6 L790.4 856.6 L787.8 856.6 L785.1 856.6 L782.5 856.6 L779.8 856.6 L777.2 856.6 L774.5 856.6 L771.9 856.6 L769.2 856.6 L766.6 856.6 L763.9 856.6 L761.3 856.6 L758.6 856.6 L756 856.6 L753.3 856.6 L750.7 856.6 L748 856.6 L745.4 856.6 L742.7 856.6 L740.1 856.6 L737.4 856.6 L734.8 856.6 L732.1 856.6 L729.5 856.6 L726.8 856.6 L724.2 856.6 L721.5 856.6 L718.9 856.6 L716.2 856.6 L713.6 856.6 L710.9 856.6 L708.3 856.6 L705.6 856.6 L703 856.6 L700.3 856.6 L697.7 856.6 L695 856.6 L692.4 856.6 L689.7 856.6 L687.1 856.6 L684.4 856.6 L681.8 856.6 L679.1 856.6 L676.5 856.6 L673.8 856.6 L671.2 856.6 L668.5 856.6 L665.9 856.6 L663.2 856.6 L660.6 856.6 L657.9 856.6 L655.3 856.6 L652.6 856.6 L650 856.6 L647.3 856.6 L644.7 856.6 L642 856.6 L639.4 856.6 L636.7 856.6 L634.1 856.6 L631.4 856.6 L628.8 856.6 L626.2 856.6 L623.5 856.6 L620.9 856.6 L618.2 856.6 L615.6 856.6 L612.9 856.6 L610.3 856.6 L607.6 856.6 L605 856.6 L602.3 856.6 L599.7 856.6 L597 856.6 L594.4 856.6 L591.7 856.6 L589.1 856.6 L586.4 856.6 L583.8 856.6 L581.1 856.6 L578.5 856.6 L575.8 856.6 L573.2 856.6 L570.5 856.6 L567.9 856.6 L565.2 856.6 L562.6 856.6 L559.9 856.6 L557.3 856.6 L554.6 856.6 L552 856.6 L549.3 856.6 L546.7 856.6 L544 856.6 L541.4 856.6 L538.7 856.6 L536.1 856.6 L533.4 856.6 L530.8 856.6 L528.1 856.6 L525.5 856.6 L522.8 856.6 L520.2 856.6 L517.5 856.6 L514.9 856.6 L512.2 856.6 L509.6 856.6 L506.9 856.6 L504.3 856.6 L501.6 856.6 L499 856.6 L496.3 856.6 L493.7 856.6 L491 856.6 L488.4 856.6 L485.7 856.6 L483.1 856.6 L480.4 856.6 L477.8 856.6 L475.1 856.6 L472.5 856.6 L469.8 856.6 L467.2 856.6 L464.5 856.6 L461.9 856.6 L459.2 856.6 L456.6 856.6 L453.9 856.6 L451.3 856.6 L448.6 856.6 L446 856.6 L443.3 856.6 L440.7 856.6 L438 856.6 L435.4 856.6 L432.7 856.6 L430.1 856.6 L427.4 856.6 L424.8 856.6 L422.1 856.6 L419.5 856.6 L416.8 856.6 L414.2 856.6 L411.5 856.6 L408.9 856.6 L406.2 856.6 L403.6 856.6 L400.9 856.6 L398.3 856.6 L395.6 856.6 L393 856.6 L390.3 856.6 L387.7 856.6 L385 856.6 L382.4 856.6 L379.7 856.6 L377.1 856.6 L374.4 856.6 L371.8 856.6 L369.1 856.6 L366.5 856.6 L363.8 856.6 L361.2 856.6 L358.5 856.6 L355.9 856.6 L353.2 856.6 L350.6 856.6 L347.9 856.6 L345.3 856.6 L342.6 856.6 L340 856.6 L337.3 856.6 L334.7 856.6 L332 856.6 L329.4 856.6 L326.7 856.6 L324.1 856.6 L321.4 856.6 L318.8 856.6 L316.1 856.6 L313.5 856.6 L310.8 856.6 L308.2 856.6 L305.5 856.6 L302.9 856.6 L300.2 856.6 L297.6 856.6 L294.9 856.6 L292.3 856.6 L289.6 856.6 L287 856.6 L284.3 856.6 L281.7 856.6 L279 856.6 L276.4 856.6 L273.7 856.6 L271.1 856.6 L268.4 856.6 L265.8 856.6 L263.1 856.6 L260.5 856.6 L257.8 856.6 L255.2 856.6 L252.5 856.6 L249.9 856.6 L247.2 856.6 L244.6 856.6 L241.9 856.6 L239.3 856.6 L236.6 856.6 L234 856.6 L231.3 856.6 L228.7 856.6 L226 856.6 L223.4 856.6 L220.7 856.6 L218.1 856.6 L215.4 856.6 L212.8 856.6 L210.1 856.6 L207.5 856.6 L204.8 856.6 L202.2 856.6 L199.5 856.6 L196.9 856.6 L194.2 856.6 L191.6 856.6 L188.9 856.6 L186.3 856.6 L183.6 856.6 L181 856.6 L178.3 856.6 L175.7 856.6Z" fill="#D74BE6" fill-opacity="0.2" stroke="none"/>
<path d="M175.7 856.6 L178.3 856.6 L181 856.6 L183.6 856.6 L186.3 856.6 L188.9 856.6 L191.6 856.6 L194.2 856.6 L196.9 856.6 L199.5 856.6 L202.2 856.6 L204.8 856.6 L207.5 856.6 L210.1 856.6 L212.8 856.6 L215.4 856.6 L218.1 856.6 L220.7 856.6 L223.4 856.6 L226 856.6 L228.7 856.6 L231.3 856.6 L234 856.6 L236.6 856.6 L239.3 856.6 L241.9 856.6 L244.6 856.6 L247.2 856.6 L249.9 856.6 L252.5 856.6 L255.2 856.6 L257.8 856.6 L260.5 856.6 L263.1 856.6 L265.8 856.6 L268.4 856.6 L271.1 856.6 L273.7 856.6 L276.4 856.6 L279 856.6 L281.7 856.6 L284.3 856.6 L287 856.6 L289.6 856.6 L292.3 856.6 L294.9 856.6 L297.6 856.6 L300.2 856.6 L302.9 856.6 L305.5 856.6 L308.2 856.6 L310.8 856.6 L313.5 856.6 L316.1 856.6 L318.8 856.6 L321.4 856.6 L324.1 856.6 L326.7 856.6 L329.4 856.6 L332 856.6 L334.7 856.6 L337.3 856.6 L340 856.6 L342.6 856.6 L345.3 856.6 L347.9 856.6 L350.6 856.6 L353.2 856.6 L355.9 856.6 L358.5 856.6 L361.2 856.6 L363.8 856.6 L366.5 856.6 L369.1 856.6 L371.8 856.6 L374.4 856.6 L377.1 856.6 L379.7 856.6 L382.4 856.6 L385 856.6 L387.7 856.6 L390.3 856.6 L393 856.6 L395.6 856.6 L398.3 856.6 L400.9 856.6 L403.6 856.6 L406.2 856.6 L408.9 856.6 L411.5 856.6 L414.2 856.6 L416.8 856.6 L419.5 856.6 L422.1 856.6 L424.8 856.6 L427.4 856.6 L430.1 856.6 L432.7 856.6 L435.4 856.6 L438 856.6 L440.7 856.6 L443.3 856.6 L446 856.6 L448.6 856.6 L451.3 856.6 L453.9 856.6 L456.6 856.6 L459.2 856.6 L461.9 856.6 L464.5 856.6 L467.2 856.6 L469.8 856.6 L472.5 856.6 L475.1 856.6 L477.8 856.6 L480.4 856.6 L483.1 856.6 L485.7 856.6 L488.4 856.6 L491 856.6 L493.7 856.6 L496.3 856.6 L499 856.6 L501.6 856.6 L504.3 856.6 L506.9 856.6 L509.6 856.6 L512.2 856.6 L514.9 856.6 L517.5 856.6 L520.2 856.6 L522.8 856.6 L525.5 856.6 L528.1 856.6 L530.8 856.6 L533.4 856.6 L536.1 856.6 L538.7 856.6 L541.4 856.6 L544 856.6 L546.7 856.6 L549.3 856.6 L552 856.6 L554.6 856.6 L557.3 856.6 L559.9 856.6 L562.6 856.6 L565.2 856.6 L567.9 856.6 L570.5 856.6 L573.2 856.6 L575.8 856.6 L578.5 856.6 L581.1 856.6 L583.8 856.6 L586.4 856.6 L589.1 856.6 L591.7 856.6 L594.4 856.6 L597 856.6 L599.7 856.6 L602.3 856.6 L605 856.6 L607.6 856.6 L610.3 856.6 L612.9 856.6 L615.6 856.6 L618.2 856.6 L620.9 856.6 L623.5 856.6 L626.2 856.6 L628.8 856.6 L631.4 856.6 L634.1 856.6 L636.7 856.6 L639.4 856.6 L642 856.6 L644.7 856.6 L647.3 856.6 L650 856.6 L652.6 856.6 L655.3 856.6 L657.9 856.6 L660.6 856.6 L663.2 856.6 L665.9 856.6 L668.5 856.6 L671.2 856.6 L673.8 856.6 L676.5 856.6 L679.1 856.6 L681.8 856.6 L684.4 856.6 L687.1 856.6 L689.7 856.6 L692.4 856.6 L695 856.6 L697.7 856.6 L700.3 856.6 L703 856.6 L705.6 856.6 L708.3 856.6 L710.9 856.6 L713.6 856.6 L716.2 856.6 L718.9 856.6 L721.5 856.6 L724.2 856.6 L726.8 856.6 L729.5 856.6 L732.1 856.6 L734.8 856.6 L737.4 856.6 L740.1 856.6 L742.7 856.6 L745.4 856.6 L748 856.6 L750.7 856.6 L753.3 856.6 L756 856.6 L758.6 856.6 L761.3 856.6 L763.9 856.6 L766.6 856.6 L769.2 856.6 L771.9 856.6 L774.5 856.6 L777.2 856.6 L779.8 856.6 L782.5 856.6 L785.1 856.6 L787.8 856.6 L790.4 856.6 L793.1 856.6 L795.7 856.6 L798.4 856.6 L801 856.6 L803.7 856.6 L806.3 856.6 L809 856.6 L811.6 856.6 L814.3 856.6 L816.9 856.6 L819.6 856.6 L822.2 856.6 L824.9 856.6 L827.5 856.6 L830.2 856.6 L832.8 856.6 L835.5 856.6 L838.1 856.6 L840.8 856.6 L843.4 856.6 L846.1 856.6 L848.7 856.6 L851.4 856.6 L854 856.6 L856.7 856.5 L859.3 856.5 L862 856.5 L864.6 856.5 L867.3 856.5 L869.9 856.5 L872.6 856.5 L875.2 856.5 L877.9 856.5 L880.5 856.5 L883.2 856.5 L885.8 856.5 L888.5 856.4 L891.1 856.4 L893.8 856.4 L896.4 856.4 L899.1 856.4 L901.7 856.4 L904.4 856.3 L907 856.3 L909.7 856.3 L912.3 856.3 L915 856.2 L917.6 856.2 L920.3 856.2 L922.9 856.1 L925.6 856.1 L928.2 856 L930.9 856 L933.5 855.9 L936.2 855.9 L938.8 855.8 L941.5 855.8 L944.1 855.7 L946.8 855.6 L949.4 855.6 L952.1 855.5 L954.7 855.4 L957.4 855.3 L960 855.2 L962.7 855.1 L965.3 855 L968 854.8 L970.6 854.7 L973.3 854.6 L975.9 854.4 L978.6 854.2 L981.2 854.1 L983.9 853.9 L986.5 853.7 L989.2 853.5 L991.8 853.3 L994.5 853 L997.1 852.8 L999.8 852.5 L1002.4 852.2 L1005.1 852 L1007.7 851.6 L1010.4 851.3 L1013 851 L1015.7 850.6 L1018.3 850.2 L1021 849.8 L1023.6 849.4 L1026.3 848.9 L1028.9 848.4 L1031.6 847.9 L1034.2 847.4 L1036.9 846.8 L1039.5 846.2 L1042.2 845.6 L1044.8 845 L1047.5 844.3 L1050.1 843.6 L1052.8 842.8 L1055.4 842.1 L1058.1 841.2 L1060.7 840.4 L1063.4 839.5 L1066 838.6 L1068.7 837.6 L1071.3 836.6 L1074 835.6 L1076.6 834.5 L1079.2 833.4 L1081.9 832.2 L1084.5 831 L1087.2 829.8 L1089.8 828.5 L1092.5 827.2 L1095.1 825.8 L1097.8 824.3 L1100.4 822.9 L1103.1 821.4 L1105.7 819.8 L1108.4 818.2 L1111 816.5 L1113.7 814.8 L1116.3 813.1 L1119 811.3 L1121.6 809.5 L1124.3 807.6 L1126.9 805.6 L1129.6 803.7 L1132.2 801.7 L1134.9 799.6 L1137.5 797.5 L1140.2 795.4 L1142.8 793.2 L1145.5 791 L1148.1 788.7 L1150.8 786.4 L1153.4 784.1 L1156.1 781.7 L1158.7 779.4 L1161.4 776.9 L1164 774.5 L1166.7 772 L1169.3 769.5 L1172 767 L1174.6 764.5 L1177.3 761.9 L1179.9 759.4 L1182.6 756.8 L1185.2 754.2 L1187.9 751.6 L1190.5 749 L1193.2 746.4 L1195.8 743.8 L1198.5 741.2 L1201.1 738.7 L1203.8 736.1 L1206.4 733.5 L1209.1 731 L1211.7 728.5 L1214.4 726 L1217 723.5 L1219.7 721.1 L1222.3 718.7 L1225 716.3 L1227.6 714 L1230.3 711.7 L1232.9 709.5 L1235.6 707.3 L1238.2 705.2 L1240.9 703.1 L1243.5 701.1 L1246.2 699.2 L1248.8 697.3 L1251.5 695.5 L1254.1 693.8 L1256.8 692.2 L1259.4 690.6 L1262.1 689.1 L1264.7 687.7 L1267.4 686.4 L1270 685.2 L1272.7 684.1 L1275.3 683.1 L1278 682.1 L1280.6 681.3 L1283.3 680.6 L1285.9 680 L1288.6 679.5 L1291.2 679.1 L1293.9 678.8 L1296.5 678.6 L1299.2 678.5 L1301.8 678.6 L1304.5 678.7 L1307.1 679 L1309.8 679.4 L1312.4 679.9 L1315.1 680.5 L1317.7 681.2 L1320.4 682 L1323 683 L1325.7 684 L1328.3 685.2 L1331 686.4 L1333.6 687.8 L1336.3 689.3 L1338.9 690.8 L1341.6 692.5 L1344.2 694.3 L1346.9 696.1 L1349.5 698 L1352.2 700.1 L1354.8 702.2 L1357.5 704.3 L1360.1 706.6 L1362.8 708.9 L1365.4 711.3 L1368.1 713.8 L1370.7 716.3 L1373.4 718.9 L1376 721.5 L1378.7 724.1 L1381.3 726.9 L1384 729.6 L1386.6 732.4 L1389.3 735.2 L1391.9 738 L1394.6 740.9 L1397.2 743.7 L1399.9 746.6 L1402.5 749.5 L1405.2 752.4 L1407.8 755.3 L1410.5 758.2 L1413.1 761 L1415.8 763.9 L1418.4 766.7 L1421.1 769.6 L1423.7 772.4 L1426.4 775.1 L1429 777.9 L1431.7 780.6 L1434.3 783.3 L1437 785.9 L1439.6 788.5 L1442.3 791 L1444.9 793.6 L1447.6 796 L1450.2 798.4 L1452.9 800.8 L1455.5 803.1 L1458.2 805.3 L1460.8 807.5 L1463.5 809.7 L1466.1 811.7 L1468.8 813.8 L1471.4 815.7 L1474.1 817.6 L1476.7 819.5 L1479.4 821.3 L1482 823 L1484.7 824.7 L1487.3 826.3 L1490 827.8 L1492.6 829.3 L1495.3 830.8 L1497.9 832.2 L1500.6 833.5 L1503.2 834.8 L1505.9 836 L1508.5 837.1 L1511.2 838.3 L1513.8 839.3 L1516.5 840.4 L1519.1 841.3 L1521.8 842.2 L1524.4 843.1 L1527.1 844 L1529.7 844.8" fill="none" stroke="#000" stroke-width="2.85" stroke-linejoin="round"/>
<rect x="108" y="452.7" width="1489.7" height="423.2" fill="none" stroke="#262626" stroke-width="2.85"/>
</g>
<clipPath id="sclip1"><rect x="1597.7" y="452.7" width="45.2" height="423.2"/></clipPath>
<rect x="1597.7" y="452.7" width="45.2" height="423.2" fill="#D1D1D1" stroke="#262626" stroke-width="2.85" clip-path="url(#sclip1)"/>
<text transform="translate(1611.2 665.3) rotate(90)" text-anchor="middle" font-size="23.47" fill="#121212">2010</text>
<line x1="100.67" x2="108" y1="856.6" y2="856.6" stroke="#262626" stroke-width="2.85"/>
<text x="94.6" y="866" text-anchor="end" font-size="23.47" fill="#3D3D3D">0.00</text>
<line x1="100.67" x2="108" y1="759.73" y2="759.73" stroke="#262626" stroke-width="2.85"/>
<text x="94.6" y="769.12" text-anchor="end" font-size="23.47" fill="#3D3D3D">0.25</text>
<line x1="100.67" x2="108" y1="662.85" y2="662.85" stroke="#262626" stroke-width="2.85"/>
<text x="94.6" y="672.25" text-anchor="end" font-size="23.47" fill="#3D3D3D">0.50</text>
<line x1="100.67" x2="108" y1="565.98" y2="565.98" stroke="#262626" stroke-width="2.85"/>
<text x="94.6" y="575.38" text-anchor="end" font-size="23.47" fill="#3D3D3D">0.75</text>
<line x1="100.67" x2="108" y1="469.1" y2="469.1" stroke="#262626" stroke-width="2.85"/>
<text x="94.6" y="478.5" text-anchor="end" font-size="23.47" fill="#3D3D3D">1.00</text>
<line x1="416.8" x2="416.8" y1="875.9" y2="883.23" stroke="#262626" stroke-width="2.85"/>
<text x="416.8" y="905.6" text-anchor="middle" font-size="23.47" fill="#3D3D3D">0.5</text>
<line x1="778.6" x2="778.6" y1="875.9" y2="883.23" stroke="#262626" stroke-width="2.85"/>
<text x="778.6" y="905.6" text-anchor="middle" font-size="23.47" fill="#3D3D3D">4.0</text>
<line x1="1140.4" x2="1140.4" y1="875.9" y2="883.23" stroke="#262626" stroke-width="2.85"/>
<text x="1140.4" y="905.6" text-anchor="middle" font-size="23.47" fill="#3D3D3D">32.0</text>
<line x1="1502.2" x2="1502.2" y1="875.9" y2="883.23" stroke="#262626" stroke-width="2.85"/>
<text x="1502.2" y="905.6" text-anchor="middle" font-size="23.47" fill="#3D3D3D">256.0</text>
<text x="851.85" y="940" text-anchor="middle" font-size="29.33" fill="#000">dollars_per_day</text>
<text transform="translate(36.3 445.2) rotate(-90)" text-anchor="middle" font-size="29.33" fill="#000">density</text>
<text x="1686.3" y="334" font-size="29.33" fill="#000">group</text>
<rect x="1688.33" y="352.43" width="42.3" height="42.35" fill="#F56A5A" fill-opacity="0.2" stroke="#000" stroke-width="2.85" stroke-linejoin="miter"/>
<text x="1746.9" y="383.04" font-size="23.47" fill="#000">Others</text>
<rect x="1688.33" y="398.43" width="42.3" height="42.35" fill="#989814" fill-opacity="0.2" stroke="#000" stroke-width="2.85" stroke-linejoin="miter"/>
<text x="1746.9" y="429.12" font-size="23.47" fill="#000">Latin America</text>
<rect x="1688.33" y="444.43" width="42.3" height="42.35" fill="#1EB06E" fill-opacity="0.2" stroke="#000" stroke-width="2.85" stroke-linejoin="miter"/>
<text x="1746.9" y="475.2" font-size="23.47" fill="#000">East Asia</text>
<rect x="1688.33" y="490.43" width="42.3" height="42.35" fill="#149CF5" fill-opacity="0.2" stroke="#000" stroke-width="2.85" stroke-linejoin="miter"/>
<text x="1746.9" y="521.28" font-size="23.47" fill="#000">Sub-Saharan</text>
<rect x="1688.33" y="536.42" width="42.3" height="42.35" fill="#D74BE6" fill-opacity="0.2" stroke="#000" stroke-width="2.85" stroke-linejoin="miter"/>
<text x="1746.9" y="567.36" font-size="23.47" fill="#000">West</text>
</svg>
</body></html>
